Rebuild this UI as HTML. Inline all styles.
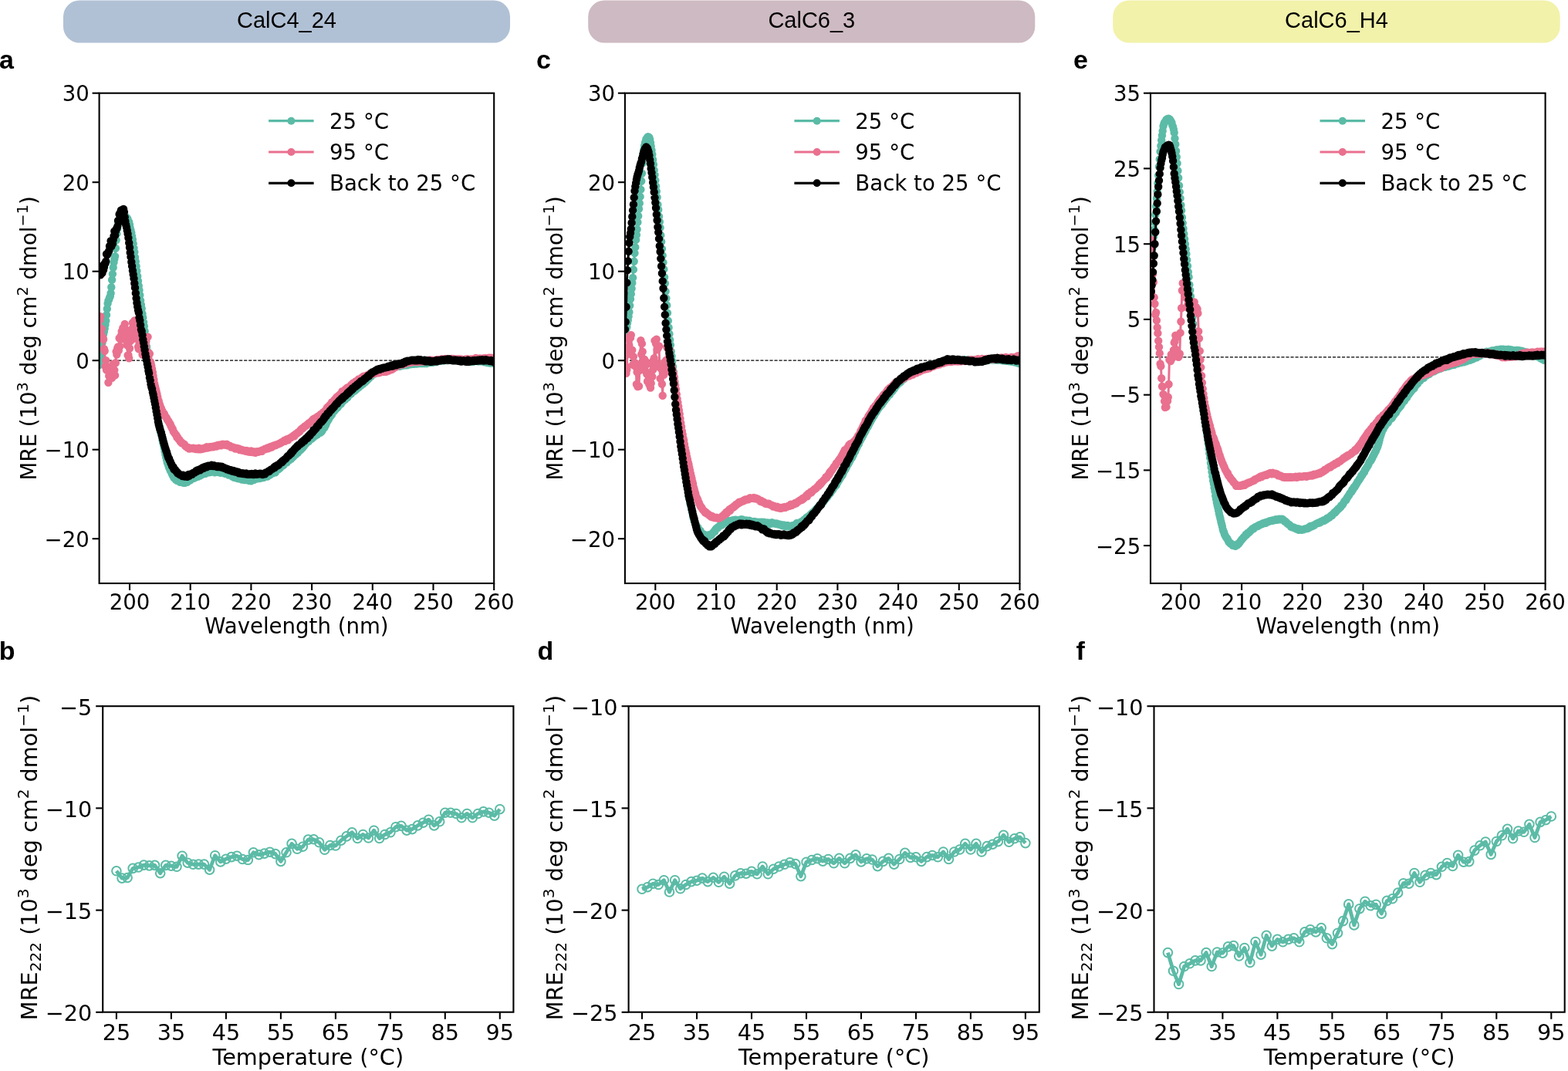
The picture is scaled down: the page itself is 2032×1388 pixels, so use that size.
<!DOCTYPE html>
<html><head><meta charset="utf-8"><title>CD spectra</title><style>html,body{margin:0;padding:0;background:#fff}svg{display:block}</style></head><body>
<svg width="2032" height="1388" viewBox="0 0 2032 1388">
<rect width="2032" height="1388" fill="#fff"/>
<rect x="82" y="0.5" width="579" height="55" rx="21" fill="#b1c1d5"/>
<text x="371.5" y="35.8" font-family="'Liberation Sans', Arial, sans-serif" font-size="29" text-anchor="middle" fill="#000">CalC4_24</text>
<rect x="762.2" y="0.5" width="579.1" height="55" rx="21" fill="#cebac2"/>
<text x="1051.8" y="35.8" font-family="'Liberation Sans', Arial, sans-serif" font-size="29" text-anchor="middle" fill="#000">CalC6_3</text>
<rect x="1442.2" y="0.5" width="579.5" height="55" rx="21" fill="#f2f2aa"/>
<text x="1732" y="35.8" font-family="'Liberation Sans', Arial, sans-serif" font-size="29" text-anchor="middle" fill="#000">CalC6_H4</text>
<text x="-1" y="89.3" font-family="'Liberation Sans', Arial, sans-serif" font-weight="bold" font-size="34">a</text>
<text x="695" y="89.3" font-family="'Liberation Sans', Arial, sans-serif" font-weight="bold" font-size="34">c</text>
<text x="1391" y="89.3" font-family="'Liberation Sans', Arial, sans-serif" font-weight="bold" font-size="34">e</text>
<text x="-1.3" y="854.5" font-family="'Liberation Sans', Arial, sans-serif" font-weight="bold" font-size="34">b</text>
<text x="696.5" y="854.5" font-family="'Liberation Sans', Arial, sans-serif" font-weight="bold" font-size="34">d</text>
<text x="1394.5" y="854.5" font-family="'Liberation Sans', Arial, sans-serif" font-weight="bold" font-size="34">f</text>
<clipPath id="ct0"><rect x="128.6" y="120.7" width="511.6" height="635.3"/></clipPath>
<line x1="128.6" y1="467.2" x2="640.2" y2="467.2" stroke="#000" stroke-width="1.3" stroke-dasharray="4.1 1.95"/>
<g clip-path="url(#ct0)" fill="none" stroke-linecap="round" stroke-linejoin="round">
<polyline points="128.6,473 129.4,467.1 130.2,461.6 131,456.1 131.7,450 132.5,444.3 133.3,438.3 134.1,433 134.9,429.7 135.7,425.7 136.5,420.8 137.3,415.7 138,408.3 138.8,400.2 139.6,393.3 140.4,389.6 141.2,388.2 142,385.8 142.8,384 143.6,380 144.3,372.2 145.1,362.7 145.9,355.1 146.7,346.7 147.5,340.1 148.3,335.8 149.1,332.1 149.9,321.8 150.6,311.3 151.4,302.9 152.2,296.2 153,290.7 153.8,288 154.6,285.6 155.4,283 156.1,282.8 156.9,281.7 157.7,280.6 158.5,280.8 159.3,280.3 160.1,280.1 160.9,280.2 161.7,281.1 162.4,280.9 163.2,280.9 164,282.9 164.8,282.6 165.6,284.1 166.4,286.4 167.2,287.7 168,291.3 168.7,295.5 169.5,298.4 170.3,301.8 171.1,306.1 171.9,310.4 172.7,315.9 173.5,321.2 174.3,326.6 175,333.5 175.8,338.9 176.6,345.1 177.4,351.1 178.2,358 179,364.2 179.8,370.5 180.5,376.3 181.3,382.4 182.1,389.4 182.9,395 183.7,400 184.5,406.8 185.3,411.8 186.1,417.4 186.8,422.8 187.6,429.2 188.4,436.2 189.2,442.7 190,449.2 190.8,454.7 191.6,461.6 192.4,467.4 193.1,472.7 193.9,478.5 194.7,483.9 195.5,489.4 196.3,493.8 197.1,498.6 197.9,502.1 198.6,506.4 199.4,510.8 200.2,514.6 201,519.4 201.8,523.3 202.6,528.5 203.4,533 204.2,538.7 204.9,542.6 205.7,548.1 206.5,552.5 207.3,555.6 208.1,559.7 208.9,562.8 209.7,565.3 210.5,570.2 211.2,573.7 212,576.9 212.8,580.6 213.6,584.9 214.4,589 215.2,592.5 216,595.9 216.8,599.4 217.5,601.2 218.3,603.4 219.1,606 219.9,607.4 220.7,609.9 221.5,610.8 222.3,612.9 223,614.5 223.8,616.3 224.6,617.3 225.4,619.3 226.2,619.9 227,620.1 227.8,621.8 228.6,621 229.3,622.7 230.1,622.1 230.9,623.3 231.7,623 232.5,623.7 233.3,624.8 234.1,623.9 234.9,624.1 235.6,625 236.4,625.3 237.2,625.4 238,625.9 238.8,625 239.6,625.7 240.4,625.3 241.2,625.4 241.9,625 242.7,624.9 243.5,623.3 244.3,623.5 245.1,622.5 245.9,622.4 246.7,622.2 247.4,621.5 248.2,621.1 249,620.3 249.8,620 250.6,619.6 251.4,619.8 252.2,619.2 253,617.7 253.7,618.5 254.5,618.3 255.3,617.3 256.1,616.5 256.9,617.5 257.7,616.5 258.5,616.4 259.3,616.6 260,615.1 260.8,615.1 261.6,614.8 262.4,614.8 263.2,614 264,614.1 264.8,613.7 265.6,613.9 266.3,613.7 267.1,612.2 267.9,612.9 268.7,612.3 269.5,612.3 270.3,612.3 271.1,612.2 271.8,611.5 272.6,611.9 273.4,611.7 274.2,611.6 275,611.1 275.8,611.3 276.6,611.5 277.4,611.9 278.1,612.3 278.9,611.3 279.7,611.3 280.5,611.8 281.3,611.6 282.1,611.5 282.9,611.6 283.7,611.6 284.4,612.3 285.2,611.5 286,612.8 286.8,611.9 287.6,612.2 288.4,612.1 289.2,611.7 290,612 290.7,613.3 291.5,613.7 292.3,612.7 293.1,613.8 293.9,613.6 294.7,613.5 295.5,614.9 296.2,615.5 297,614.8 297.8,615.3 298.6,615.8 299.4,616.1 300.2,616.9 301,617.6 301.8,617.4 302.5,618.1 303.3,618.8 304.1,618.1 304.9,618.7 305.7,618.7 306.5,619.6 307.3,619.6 308.1,620 308.8,620.1 309.6,619.8 310.4,620.5 311.2,620.1 312,620.3 312.8,619.7 313.6,621.5 314.4,620.6 315.1,621.2 315.9,621.3 316.7,622.1 317.5,621.8 318.3,621.4 319.1,621.8 319.9,621.8 320.6,622.1 321.4,621.5 322.2,622 323,623 323.8,622.3 324.6,622.8 325.4,623.4 326.2,622 326.9,621.1 327.7,621.6 328.5,622 329.3,621.7 330.1,620.6 330.9,620.9 331.7,620.8 332.5,620.6 333.2,620.4 334,619.9 334.8,619.8 335.6,619.7 336.4,620.1 337.2,619.2 338,619.5 338.7,618.5 339.5,619.4 340.3,618.7 341.1,618.4 341.9,618.7 342.7,617.1 343.5,616.9 344.3,617.5 345,616.7 345.8,616.6 346.6,617.6 347.4,616 348.2,615.8 349,615.4 349.8,615.6 350.6,614.9 351.3,614.4 352.1,613.4 352.9,613.4 353.7,613.2 354.5,612.1 355.3,612.6 356.1,612 356.9,612.2 357.6,610.1 358.4,609.8 359.2,609.2 360,608.7 360.8,608.3 361.6,607.6 362.4,607.1 363.1,606.4 363.9,605.6 364.7,604.2 365.5,604 366.3,603.5 367.1,603.1 367.9,602.4 368.7,600.7 369.4,600.5 370.2,600 371,599.6 371.8,599.2 372.6,598.1 373.4,597 374.2,596.9 375,596.2 375.7,595.5 376.5,594.7 377.3,594.8 378.1,593.4 378.9,593 379.7,591.5 380.5,591.6 381.3,590.3 382,589.1 382.8,589.3 383.6,588.7 384.4,587.6 385.2,586.9 386,586.7 386.8,585.2 387.5,583.7 388.3,584 389.1,583.2 389.9,582.7 390.7,581.3 391.5,581.1 392.3,580.2 393.1,578.3 393.8,578.4 394.6,576.7 395.4,575.6 396.2,575.4 397,574.4 397.8,572.9 398.6,573.1 399.4,572.5 400.1,572.1 400.9,570.7 401.7,569.3 402.5,568.9 403.3,569.1 404.1,568.5 404.9,567.7 405.7,566.8 406.4,566.5 407.2,565.7 408,565.2 408.8,564.9 409.6,564.3 410.4,563.6 411.2,563.2 411.9,562.4 412.7,561.1 413.5,561.1 414.3,560.7 415.1,560.8 415.9,559.2 416.7,559.5 417.5,558.4 418.2,556.5 419,555.5 419.8,554.7 420.6,554.1 421.4,552.1 422.2,550.7 423,548.6 423.8,546.3 424.5,545.7 425.3,544.6 426.1,543.3 426.9,541.4 427.7,540.1 428.5,539.4 429.3,537.7 430.1,537.2 430.8,535.1 431.6,534.1 432.4,533.1 433.2,532.8 434,531.4 434.8,530.7 435.6,529.9 436.3,529 437.1,528.5 437.9,527.7 438.7,525.8 439.5,525.4 440.3,524.4 441.1,523.1 441.9,523.6 442.6,522.3 443.4,521 444.2,520.1 445,519.6 445.8,518.2 446.6,517.8 447.4,517.7 448.2,516.8 448.9,515.2 449.7,514.6 450.5,515 451.3,512.7 452.1,512.3 452.9,511.3 453.7,511.3 454.4,510.6 455.2,510.3 456,507.9 456.8,508.4 457.6,506.9 458.4,507.3 459.2,506.2 460,506.4 460.7,505.2 461.5,503.9 462.3,504.3 463.1,502.6 463.9,502.3 464.7,502.3 465.5,501.4 466.3,500.8 467,500 467.8,499.6 468.6,499.1 469.4,498.2 470.2,497.9 471,497.4 471.8,496.1 472.6,495 473.3,495.4 474.1,494 474.9,493.5 475.7,492.9 476.5,491.3 477.3,491.2 478.1,489.5 478.8,489.8 479.6,488.5 480.4,488 481.2,487.5 482,486.2 482.8,485.9 483.6,484.9 484.4,484.7 485.1,484.6 485.9,483.7 486.7,483.2 487.5,482.3 488.3,482.8 489.1,482 489.9,482.4 490.7,481 491.4,481.4 492.2,481.4 493,480.3 493.8,479.5 494.6,480.4 495.4,479.9 496.2,479.5 497,479.4 497.7,478.4 498.5,478.7 499.3,478.4 500.1,477.6 500.9,478 501.7,477.2 502.5,477.6 503.2,477.5 504,477.6 504.8,475.6 505.6,476.4 506.4,476 507.2,475.9 508,475.6 508.8,475.4 509.5,474.4 510.3,475.6 511.1,475.7 511.9,475.2 512.7,475.2 513.5,474.1 514.3,473.9 515.1,474.6 515.8,474.7 516.6,474.1 517.4,473.1 518.2,474.9 519,473.3 519.8,473.9 520.6,472.8 521.4,473.7 522.1,473.2 522.9,473.6 523.7,473.3 524.5,472.1 525.3,472.2 526.1,472.7 526.9,472.8 527.6,473.2 528.4,472.4 529.2,472.1 530,472.1 530.8,472 531.6,472.4 532.4,471.8 533.2,471.7 533.9,471 534.7,470.6 535.5,471.5 536.3,471.7 537.1,471.3 537.9,471.5 538.7,471.5 539.5,471.1 540.2,471.5 541,470.6 541.8,470.9 542.6,470.7 543.4,470.8 544.2,471 545,471.1 545.8,470.7 546.5,470.8 547.3,470.3 548.1,470.4 548.9,471 549.7,470.3 550.5,470.8 551.3,470.5 552,470.2 552.8,471 553.6,469.9 554.4,469.8 555.2,469.9 556,470 556.8,469.9 557.6,470.1 558.3,469.7 559.1,469.7 559.9,469.3 560.7,469.8 561.5,469 562.3,468.9 563.1,468.9 563.9,468.9 564.6,468.3 565.4,469.1 566.2,468 567,467.9 567.8,467.7 568.6,467.5 569.4,467.8 570.2,467.5 570.9,466.9 571.7,466.8 572.5,466.8 573.3,467.5 574.1,466.4 574.9,466 575.7,465.9 576.4,466.2 577.2,466.9 578,465.7 578.8,466.2 579.6,467.3 580.4,465.9 581.2,466.8 582,466.7 582.7,466.4 583.5,465.5 584.3,466.3 585.1,466 585.9,465.4 586.7,465.5 587.5,466.3 588.3,466.4 589,467 589.8,466.8 590.6,466.3 591.4,466.4 592.2,466.5 593,466.2 593.8,467.1 594.5,466.8 595.3,466.5 596.1,466.6 596.9,466.4 597.7,466.8 598.5,467.2 599.3,466.9 600.1,467.6 600.8,467.9 601.6,467 602.4,467.3 603.2,467.2 604,468.1 604.8,467.6 605.6,467.7 606.4,467.9 607.1,468.5 607.9,467.7 608.7,467.1 609.5,467.4 610.3,467.9 611.1,467.7 611.9,467.4 612.7,469 613.4,467.8 614.2,467.6 615,467.5 615.8,467.1 616.6,467.4 617.4,467.8 618.2,467.9 618.9,467.7 619.7,468.4 620.5,468.2 621.3,467.8 622.1,467.4 622.9,468.4 623.7,468.4 624.5,468.4 625.2,467.9 626,468.6 626.8,468 627.6,469.2 628.4,468.9 629.2,469 630,468.7 630.8,468.7 631.5,470 632.3,469.8 633.1,469.4 633.9,469.9 634.7,470.5 635.5,469.4 636.3,469.8 637.1,469.9 637.8,470.5 638.6,469.9 639.4,470.7 640.2,470.2" stroke="#5bbba6" stroke-width="3"/>
<path d="M128.6 473h0M129.4 467.1h0M130.2 461.6h0M131 456.1h0M131.7 450h0M132.5 444.3h0M133.3 438.3h0M134.1 433h0M134.9 429.7h0M135.7 425.7h0M136.5 420.8h0M137.3 415.7h0M138 408.3h0M138.8 400.2h0M139.6 393.3h0M140.4 389.6h0M141.2 388.2h0M142 385.8h0M142.8 384h0M143.6 380h0M144.3 372.2h0M145.1 362.7h0M145.9 355.1h0M146.7 346.7h0M147.5 340.1h0M148.3 335.8h0M149.1 332.1h0M149.9 321.8h0M150.6 311.3h0M151.4 302.9h0M152.2 296.2h0M153 290.7h0M153.8 288h0M154.6 285.6h0M155.4 283h0M156.1 282.8h0M156.9 281.7h0M157.7 280.6h0M158.5 280.8h0M159.3 280.3h0M160.1 280.1h0M160.9 280.2h0M161.7 281.1h0M162.4 280.9h0M163.2 280.9h0M164 282.9h0M164.8 282.6h0M165.6 284.1h0M166.4 286.4h0M167.2 287.7h0M168 291.3h0M168.7 295.5h0M169.5 298.4h0M170.3 301.8h0M171.1 306.1h0M171.9 310.4h0M172.7 315.9h0M173.5 321.2h0M174.3 326.6h0M175 333.5h0M175.8 338.9h0M176.6 345.1h0M177.4 351.1h0M178.2 358h0M179 364.2h0M179.8 370.5h0M180.5 376.3h0M181.3 382.4h0M182.1 389.4h0M182.9 395h0M183.7 400h0M184.5 406.8h0M185.3 411.8h0M186.1 417.4h0M186.8 422.8h0M187.6 429.2h0M188.4 436.2h0M189.2 442.7h0M190 449.2h0M190.8 454.7h0M191.6 461.6h0M192.4 467.4h0M193.1 472.7h0M193.9 478.5h0M194.7 483.9h0M195.5 489.4h0M196.3 493.8h0M197.1 498.6h0M197.9 502.1h0M198.6 506.4h0M199.4 510.8h0M200.2 514.6h0M201 519.4h0M201.8 523.3h0M202.6 528.5h0M203.4 533h0M204.2 538.7h0M204.9 542.6h0M205.7 548.1h0M206.5 552.5h0M207.3 555.6h0M208.1 559.7h0M208.9 562.8h0M209.7 565.3h0M210.5 570.2h0M211.2 573.7h0M212 576.9h0M212.8 580.6h0M213.6 584.9h0M214.4 589h0M215.2 592.5h0M216 595.9h0M216.8 599.4h0M217.5 601.2h0M218.3 603.4h0M219.1 606h0M219.9 607.4h0M220.7 609.9h0M221.5 610.8h0M222.3 612.9h0M223 614.5h0M223.8 616.3h0M224.6 617.3h0M225.4 619.3h0M226.2 619.9h0M227 620.1h0M227.8 621.8h0M228.6 621h0M229.3 622.7h0M230.1 622.1h0M230.9 623.3h0M231.7 623h0M232.5 623.7h0M233.3 624.8h0M234.1 623.9h0M234.9 624.1h0M235.6 625h0M236.4 625.3h0M237.2 625.4h0M238 625.9h0M238.8 625h0M239.6 625.7h0M240.4 625.3h0M241.2 625.4h0M241.9 625h0M242.7 624.9h0M243.5 623.3h0M244.3 623.5h0M245.1 622.5h0M245.9 622.4h0M246.7 622.2h0M247.4 621.5h0M248.2 621.1h0M249 620.3h0M249.8 620h0M250.6 619.6h0M251.4 619.8h0M252.2 619.2h0M253 617.7h0M253.7 618.5h0M254.5 618.3h0M255.3 617.3h0M256.1 616.5h0M256.9 617.5h0M257.7 616.5h0M258.5 616.4h0M259.3 616.6h0M260 615.1h0M260.8 615.1h0M261.6 614.8h0M262.4 614.8h0M263.2 614h0M264 614.1h0M264.8 613.7h0M265.6 613.9h0M266.3 613.7h0M267.1 612.2h0M267.9 612.9h0M268.7 612.3h0M269.5 612.3h0M270.3 612.3h0M271.1 612.2h0M271.8 611.5h0M272.6 611.9h0M273.4 611.7h0M274.2 611.6h0M275 611.1h0M275.8 611.3h0M276.6 611.5h0M277.4 611.9h0M278.1 612.3h0M278.9 611.3h0M279.7 611.3h0M280.5 611.8h0M281.3 611.6h0M282.1 611.5h0M282.9 611.6h0M283.7 611.6h0M284.4 612.3h0M285.2 611.5h0M286 612.8h0M286.8 611.9h0M287.6 612.2h0M288.4 612.1h0M289.2 611.7h0M290 612h0M290.7 613.3h0M291.5 613.7h0M292.3 612.7h0M293.1 613.8h0M293.9 613.6h0M294.7 613.5h0M295.5 614.9h0M296.2 615.5h0M297 614.8h0M297.8 615.3h0M298.6 615.8h0M299.4 616.1h0M300.2 616.9h0M301 617.6h0M301.8 617.4h0M302.5 618.1h0M303.3 618.8h0M304.1 618.1h0M304.9 618.7h0M305.7 618.7h0M306.5 619.6h0M307.3 619.6h0M308.1 620h0M308.8 620.1h0M309.6 619.8h0M310.4 620.5h0M311.2 620.1h0M312 620.3h0M312.8 619.7h0M313.6 621.5h0M314.4 620.6h0M315.1 621.2h0M315.9 621.3h0M316.7 622.1h0M317.5 621.8h0M318.3 621.4h0M319.1 621.8h0M319.9 621.8h0M320.6 622.1h0M321.4 621.5h0M322.2 622h0M323 623h0M323.8 622.3h0M324.6 622.8h0M325.4 623.4h0M326.2 622h0M326.9 621.1h0M327.7 621.6h0M328.5 622h0M329.3 621.7h0M330.1 620.6h0M330.9 620.9h0M331.7 620.8h0M332.5 620.6h0M333.2 620.4h0M334 619.9h0M334.8 619.8h0M335.6 619.7h0M336.4 620.1h0M337.2 619.2h0M338 619.5h0M338.7 618.5h0M339.5 619.4h0M340.3 618.7h0M341.1 618.4h0M341.9 618.7h0M342.7 617.1h0M343.5 616.9h0M344.3 617.5h0M345 616.7h0M345.8 616.6h0M346.6 617.6h0M347.4 616h0M348.2 615.8h0M349 615.4h0M349.8 615.6h0M350.6 614.9h0M351.3 614.4h0M352.1 613.4h0M352.9 613.4h0M353.7 613.2h0M354.5 612.1h0M355.3 612.6h0M356.1 612h0M356.9 612.2h0M357.6 610.1h0M358.4 609.8h0M359.2 609.2h0M360 608.7h0M360.8 608.3h0M361.6 607.6h0M362.4 607.1h0M363.1 606.4h0M363.9 605.6h0M364.7 604.2h0M365.5 604h0M366.3 603.5h0M367.1 603.1h0M367.9 602.4h0M368.7 600.7h0M369.4 600.5h0M370.2 600h0M371 599.6h0M371.8 599.2h0M372.6 598.1h0M373.4 597h0M374.2 596.9h0M375 596.2h0M375.7 595.5h0M376.5 594.7h0M377.3 594.8h0M378.1 593.4h0M378.9 593h0M379.7 591.5h0M380.5 591.6h0M381.3 590.3h0M382 589.1h0M382.8 589.3h0M383.6 588.7h0M384.4 587.6h0M385.2 586.9h0M386 586.7h0M386.8 585.2h0M387.5 583.7h0M388.3 584h0M389.1 583.2h0M389.9 582.7h0M390.7 581.3h0M391.5 581.1h0M392.3 580.2h0M393.1 578.3h0M393.8 578.4h0M394.6 576.7h0M395.4 575.6h0M396.2 575.4h0M397 574.4h0M397.8 572.9h0M398.6 573.1h0M399.4 572.5h0M400.1 572.1h0M400.9 570.7h0M401.7 569.3h0M402.5 568.9h0M403.3 569.1h0M404.1 568.5h0M404.9 567.7h0M405.7 566.8h0M406.4 566.5h0M407.2 565.7h0M408 565.2h0M408.8 564.9h0M409.6 564.3h0M410.4 563.6h0M411.2 563.2h0M411.9 562.4h0M412.7 561.1h0M413.5 561.1h0M414.3 560.7h0M415.1 560.8h0M415.9 559.2h0M416.7 559.5h0M417.5 558.4h0M418.2 556.5h0M419 555.5h0M419.8 554.7h0M420.6 554.1h0M421.4 552.1h0M422.2 550.7h0M423 548.6h0M423.8 546.3h0M424.5 545.7h0M425.3 544.6h0M426.1 543.3h0M426.9 541.4h0M427.7 540.1h0M428.5 539.4h0M429.3 537.7h0M430.1 537.2h0M430.8 535.1h0M431.6 534.1h0M432.4 533.1h0M433.2 532.8h0M434 531.4h0M434.8 530.7h0M435.6 529.9h0M436.3 529h0M437.1 528.5h0M437.9 527.7h0M438.7 525.8h0M439.5 525.4h0M440.3 524.4h0M441.1 523.1h0M441.9 523.6h0M442.6 522.3h0M443.4 521h0M444.2 520.1h0M445 519.6h0M445.8 518.2h0M446.6 517.8h0M447.4 517.7h0M448.2 516.8h0M448.9 515.2h0M449.7 514.6h0M450.5 515h0M451.3 512.7h0M452.1 512.3h0M452.9 511.3h0M453.7 511.3h0M454.4 510.6h0M455.2 510.3h0M456 507.9h0M456.8 508.4h0M457.6 506.9h0M458.4 507.3h0M459.2 506.2h0M460 506.4h0M460.7 505.2h0M461.5 503.9h0M462.3 504.3h0M463.1 502.6h0M463.9 502.3h0M464.7 502.3h0M465.5 501.4h0M466.3 500.8h0M467 500h0M467.8 499.6h0M468.6 499.1h0M469.4 498.2h0M470.2 497.9h0M471 497.4h0M471.8 496.1h0M472.6 495h0M473.3 495.4h0M474.1 494h0M474.9 493.5h0M475.7 492.9h0M476.5 491.3h0M477.3 491.2h0M478.1 489.5h0M478.8 489.8h0M479.6 488.5h0M480.4 488h0M481.2 487.5h0M482 486.2h0M482.8 485.9h0M483.6 484.9h0M484.4 484.7h0M485.1 484.6h0M485.9 483.7h0M486.7 483.2h0M487.5 482.3h0M488.3 482.8h0M489.1 482h0M489.9 482.4h0M490.7 481h0M491.4 481.4h0M492.2 481.4h0M493 480.3h0M493.8 479.5h0M494.6 480.4h0M495.4 479.9h0M496.2 479.5h0M497 479.4h0M497.7 478.4h0M498.5 478.7h0M499.3 478.4h0M500.1 477.6h0M500.9 478h0M501.7 477.2h0M502.5 477.6h0M503.2 477.5h0M504 477.6h0M504.8 475.6h0M505.6 476.4h0M506.4 476h0M507.2 475.9h0M508 475.6h0M508.8 475.4h0M509.5 474.4h0M510.3 475.6h0M511.1 475.7h0M511.9 475.2h0M512.7 475.2h0M513.5 474.1h0M514.3 473.9h0M515.1 474.6h0M515.8 474.7h0M516.6 474.1h0M517.4 473.1h0M518.2 474.9h0M519 473.3h0M519.8 473.9h0M520.6 472.8h0M521.4 473.7h0M522.1 473.2h0M522.9 473.6h0M523.7 473.3h0M524.5 472.1h0M525.3 472.2h0M526.1 472.7h0M526.9 472.8h0M527.6 473.2h0M528.4 472.4h0M529.2 472.1h0M530 472.1h0M530.8 472h0M531.6 472.4h0M532.4 471.8h0M533.2 471.7h0M533.9 471h0M534.7 470.6h0M535.5 471.5h0M536.3 471.7h0M537.1 471.3h0M537.9 471.5h0M538.7 471.5h0M539.5 471.1h0M540.2 471.5h0M541 470.6h0M541.8 470.9h0M542.6 470.7h0M543.4 470.8h0M544.2 471h0M545 471.1h0M545.8 470.7h0M546.5 470.8h0M547.3 470.3h0M548.1 470.4h0M548.9 471h0M549.7 470.3h0M550.5 470.8h0M551.3 470.5h0M552 470.2h0M552.8 471h0M553.6 469.9h0M554.4 469.8h0M555.2 469.9h0M556 470h0M556.8 469.9h0M557.6 470.1h0M558.3 469.7h0M559.1 469.7h0M559.9 469.3h0M560.7 469.8h0M561.5 469h0M562.3 468.9h0M563.1 468.9h0M563.9 468.9h0M564.6 468.3h0M565.4 469.1h0M566.2 468h0M567 467.9h0M567.8 467.7h0M568.6 467.5h0M569.4 467.8h0M570.2 467.5h0M570.9 466.9h0M571.7 466.8h0M572.5 466.8h0M573.3 467.5h0M574.1 466.4h0M574.9 466h0M575.7 465.9h0M576.4 466.2h0M577.2 466.9h0M578 465.7h0M578.8 466.2h0M579.6 467.3h0M580.4 465.9h0M581.2 466.8h0M582 466.7h0M582.7 466.4h0M583.5 465.5h0M584.3 466.3h0M585.1 466h0M585.9 465.4h0M586.7 465.5h0M587.5 466.3h0M588.3 466.4h0M589 467h0M589.8 466.8h0M590.6 466.3h0M591.4 466.4h0M592.2 466.5h0M593 466.2h0M593.8 467.1h0M594.5 466.8h0M595.3 466.5h0M596.1 466.6h0M596.9 466.4h0M597.7 466.8h0M598.5 467.2h0M599.3 466.9h0M600.1 467.6h0M600.8 467.9h0M601.6 467h0M602.4 467.3h0M603.2 467.2h0M604 468.1h0M604.8 467.6h0M605.6 467.7h0M606.4 467.9h0M607.1 468.5h0M607.9 467.7h0M608.7 467.1h0M609.5 467.4h0M610.3 467.9h0M611.1 467.7h0M611.9 467.4h0M612.7 469h0M613.4 467.8h0M614.2 467.6h0M615 467.5h0M615.8 467.1h0M616.6 467.4h0M617.4 467.8h0M618.2 467.9h0M618.9 467.7h0M619.7 468.4h0M620.5 468.2h0M621.3 467.8h0M622.1 467.4h0M622.9 468.4h0M623.7 468.4h0M624.5 468.4h0M625.2 467.9h0M626 468.6h0M626.8 468h0M627.6 469.2h0M628.4 468.9h0M629.2 469h0M630 468.7h0M630.8 468.7h0M631.5 470h0M632.3 469.8h0M633.1 469.4h0M633.9 469.9h0M634.7 470.5h0M635.5 469.4h0M636.3 469.8h0M637.1 469.9h0M637.8 470.5h0M638.6 469.9h0M639.4 470.7h0M640.2 470.2h0" stroke="#5bbba6" stroke-width="10.4"/>
<polyline points="128.6,412.7 129.4,414.7 130.2,410.3 131,432.5 131.7,426.1 132.5,437.2 133.3,437.5 134.1,439.7 134.9,452.1 135.7,454.7 136.5,474.7 137.3,467.1 138,479.6 138.8,475.1 139.6,479.1 140.4,495.7 141.2,487.3 142,482.7 142.8,477.4 143.6,484.7 144.3,483.4 145.1,489.9 145.9,474 146.7,471.6 147.5,480 148.3,479.6 149.1,486.4 149.9,470.2 150.6,455.6 151.4,459.6 152.2,451.2 153,449.5 153.8,454.2 154.6,438.3 155.4,448.7 156.1,439.5 156.9,434.9 157.7,429.5 158.5,428.5 159.3,425 160.1,427.1 160.9,428.3 161.7,420 162.4,426.8 163.2,435 164,442.3 164.8,447.4 165.6,460.4 166.4,460.3 167.2,464.3 168,451.5 168.7,442.3 169.5,427.7 170.3,440.6 171.1,431.6 171.9,418.2 172.7,422.5 173.5,424.4 174.3,415.5 175,429.5 175.8,434.8 176.6,438.9 177.4,433.2 178.2,436.4 179,449.6 179.8,452.4 180.5,445.8 181.3,446.6 182.1,453.1 182.9,446.9 183.7,447.1 184.5,459.6 185.3,448.9 186.1,443.9 186.8,447.2 187.6,454.3 188.4,445.7 189.2,441.7 190,437.7 190.8,458.4 191.6,436.6 192.4,461.9 193.1,457.4 193.9,458.4 194.7,468.7 195.5,470.7 196.3,474.2 197.1,478.2 197.9,482.4 198.6,487.3 199.4,492 200.2,497.2 201,500.8 201.8,503.9 202.6,507.3 203.4,510.8 204.2,514.2 204.9,517.8 205.7,519.6 206.5,522.9 207.3,525.3 208.1,527.6 208.9,529.3 209.7,531.4 210.5,532.8 211.2,534.8 212,535.9 212.8,536.1 213.6,538.5 214.4,539.8 215.2,540.7 216,541.9 216.8,543.9 217.5,544.8 218.3,545.6 219.1,547.2 219.9,548.8 220.7,549.6 221.5,552.2 222.3,553.4 223,555.3 223.8,555.9 224.6,559.1 225.4,560 226.2,561.3 227,562.1 227.8,563.4 228.6,564.2 229.3,566.7 230.1,566.7 230.9,568.3 231.7,569.5 232.5,569.9 233.3,571.5 234.1,572.9 234.9,572.9 235.6,574.2 236.4,574.5 237.2,574.8 238,575.5 238.8,575.6 239.6,577.2 240.4,578.4 241.2,578.7 241.9,579.4 242.7,580 243.5,579.7 244.3,580.6 245.1,581.6 245.9,580.6 246.7,581.1 247.4,580.9 248.2,581.1 249,580.9 249.8,581.2 250.6,580.7 251.4,581.2 252.2,581.2 253,581.2 253.7,582.1 254.5,581.6 255.3,581.6 256.1,581.4 256.9,582.2 257.7,580.8 258.5,581.5 259.3,582.1 260,582.4 260.8,581.7 261.6,581.5 262.4,581.7 263.2,581.2 264,581.4 264.8,580.7 265.6,581.1 266.3,580.7 267.1,580 267.9,579.1 268.7,580.5 269.5,580.1 270.3,580.1 271.1,579.1 271.8,579.9 272.6,579.4 273.4,579 274.2,579.3 275,579.1 275.8,578.8 276.6,579.4 277.4,578.9 278.1,578.3 278.9,577.9 279.7,577.9 280.5,578.5 281.3,577.7 282.1,577 282.9,577 283.7,577.1 284.4,577.4 285.2,576.5 286,577 286.8,577.2 287.6,576.9 288.4,575.8 289.2,576.3 290,575.9 290.7,576.6 291.5,576 292.3,576.8 293.1,576.7 293.9,575.6 294.7,576.6 295.5,577.5 296.2,577.6 297,577.7 297.8,577.6 298.6,578.7 299.4,579.6 300.2,579.3 301,579.5 301.8,579.8 302.5,579.6 303.3,580.4 304.1,580.4 304.9,581.6 305.7,581 306.5,580.6 307.3,581.4 308.1,581.9 308.8,582.1 309.6,581.5 310.4,583 311.2,582.8 312,582.7 312.8,582.8 313.6,583.5 314.4,583.3 315.1,583.7 315.9,583.7 316.7,584 317.5,584.6 318.3,584.3 319.1,584 319.9,585 320.6,584.8 321.4,584.5 322.2,585.5 323,585 323.8,585.8 324.6,584.9 325.4,584.5 326.2,584.8 326.9,586 327.7,585.6 328.5,586 329.3,586.1 330.1,585.5 330.9,586.8 331.7,585.7 332.5,586.1 333.2,585.3 334,585.7 334.8,585.9 335.6,585.2 336.4,584.8 337.2,584.8 338,584.3 338.7,584.5 339.5,584.9 340.3,583.2 341.1,582.9 341.9,582.9 342.7,582.6 343.5,581.8 344.3,582.1 345,581.9 345.8,581.4 346.6,580.5 347.4,581.4 348.2,579.9 349,580.4 349.8,580.4 350.6,579 351.3,579.3 352.1,579.5 352.9,578.8 353.7,577.9 354.5,577.5 355.3,577.9 356.1,577.2 356.9,576.7 357.6,577 358.4,576.2 359.2,576.1 360,575.9 360.8,575.6 361.6,575 362.4,574.6 363.1,574.6 363.9,574.1 364.7,573.1 365.5,573.1 366.3,572.4 367.1,571.9 367.9,571.8 368.7,570.7 369.4,571.7 370.2,570.6 371,570.7 371.8,569.3 372.6,569 373.4,570.2 374.2,569.3 375,568.1 375.7,567.6 376.5,567.2 377.3,567.1 378.1,566.4 378.9,565.8 379.7,565.6 380.5,564.5 381.3,565.4 382,563.5 382.8,563.6 383.6,562.1 384.4,562 385.2,561.6 386,560.4 386.8,560.3 387.5,559.6 388.3,559.2 389.1,557.8 389.9,556.9 390.7,556 391.5,555.9 392.3,554.7 393.1,554.5 393.8,553.9 394.6,553 395.4,552.1 396.2,552.1 397,551.5 397.8,550.8 398.6,550 399.4,549.9 400.1,548.4 400.9,548.4 401.7,547.4 402.5,547.3 403.3,546.2 404.1,545.5 404.9,545.3 405.7,543.5 406.4,543.7 407.2,542.4 408,542.2 408.8,542.4 409.6,541.6 410.4,540.7 411.2,540.3 411.9,539.7 412.7,539.3 413.5,539.5 414.3,538.2 415.1,538.6 415.9,536.8 416.7,536.7 417.5,536 418.2,535.1 419,534.2 419.8,534.2 420.6,533.5 421.4,532.3 422.2,531.9 423,530.5 423.8,528.4 424.5,528.8 425.3,527 426.1,527.1 426.9,525.4 427.7,524.8 428.5,523.9 429.3,522.7 430.1,521.3 430.8,521.2 431.6,520.4 432.4,520.1 433.2,518.5 434,518 434.8,516.7 435.6,516.3 436.3,514.6 437.1,515.5 437.9,513.9 438.7,512.6 439.5,512.3 440.3,511.8 441.1,510.8 441.9,510.5 442.6,509.1 443.4,507.3 444.2,507.2 445,507.6 445.8,506.8 446.6,505.9 447.4,504.6 448.2,504.8 448.9,504.1 449.7,502.8 450.5,502.2 451.3,502.1 452.1,501.8 452.9,501.4 453.7,500.5 454.4,500.6 455.2,498.6 456,498.7 456.8,497.6 457.6,496.4 458.4,496.2 459.2,496.7 460,495.1 460.7,494.4 461.5,494.7 462.3,494.3 463.1,493.3 463.9,493.4 464.7,491.4 465.5,492.7 466.3,491.6 467,490.7 467.8,490.2 468.6,489.5 469.4,489 470.2,488.9 471,487.8 471.8,489 472.6,487.7 473.3,487.7 474.1,487 474.9,486.6 475.7,486.9 476.5,486.5 477.3,485.5 478.1,485.5 478.8,485.7 479.6,484.2 480.4,483.8 481.2,485.3 482,484.3 482.8,483.1 483.6,483.7 484.4,483.7 485.1,483.8 485.9,483.7 486.7,483.4 487.5,483.4 488.3,482.7 489.1,483.1 489.9,483 490.7,483.2 491.4,482.6 492.2,482.9 493,482.5 493.8,481.8 494.6,482 495.4,481.8 496.2,481.8 497,481.8 497.7,481.8 498.5,481.7 499.3,481.1 500.1,481.8 500.9,480.5 501.7,480.9 502.5,481 503.2,480.5 504,480.3 504.8,479.5 505.6,479.5 506.4,478.2 507.2,478.6 508,478.9 508.8,477.7 509.5,477.8 510.3,476.5 511.1,475.5 511.9,475.3 512.7,475.8 513.5,475.1 514.3,473.6 515.1,474 515.8,473.9 516.6,473.1 517.4,472.2 518.2,472.5 519,472.7 519.8,472.4 520.6,472 521.4,472.3 522.1,472.2 522.9,471.5 523.7,471.7 524.5,471 525.3,470.7 526.1,469.5 526.9,470.7 527.6,470.2 528.4,470 529.2,469.5 530,469.1 530.8,469.6 531.6,469.6 532.4,469.8 533.2,469.3 533.9,468.5 534.7,468.6 535.5,469 536.3,468.6 537.1,468.4 537.9,468.1 538.7,468.5 539.5,468.3 540.2,469 541,468.6 541.8,467.3 542.6,469 543.4,468.1 544.2,467.8 545,468 545.8,468.2 546.5,467.8 547.3,467.8 548.1,467.8 548.9,468.6 549.7,467.7 550.5,468 551.3,467.8 552,467.4 552.8,467.2 553.6,467.1 554.4,467.7 555.2,467 556,466.8 556.8,466.8 557.6,466.6 558.3,467.3 559.1,467.3 559.9,466.7 560.7,467.7 561.5,466.9 562.3,467.2 563.1,467 563.9,467.6 564.6,467.1 565.4,466.6 566.2,466.1 567,466 567.8,466.4 568.6,466.4 569.4,466.6 570.2,465.9 570.9,466.1 571.7,465.7 572.5,465.1 573.3,465.8 574.1,466.4 574.9,466.1 575.7,466.3 576.4,466.2 577.2,465 578,465.4 578.8,466.2 579.6,465.2 580.4,464.9 581.2,465.7 582,465.8 582.7,465.7 583.5,465.4 584.3,465.3 585.1,465 585.9,465 586.7,465.1 587.5,465 588.3,465.4 589,466.4 589.8,465.8 590.6,465.6 591.4,466 592.2,465.4 593,466 593.8,466.3 594.5,465.3 595.3,465.6 596.1,465.9 596.9,465.6 597.7,465.5 598.5,465.9 599.3,467.2 600.1,466.4 600.8,466.3 601.6,466.5 602.4,466 603.2,465.5 604,466.3 604.8,466.5 605.6,465.1 606.4,466.2 607.1,466.5 607.9,465.8 608.7,465.7 609.5,466.1 610.3,465.4 611.1,465.9 611.9,466.1 612.7,465.5 613.4,465.2 614.2,465.8 615,465.3 615.8,465.4 616.6,464 617.4,465.6 618.2,464.6 618.9,465.2 619.7,465.2 620.5,464.7 621.3,464.6 622.1,464.4 622.9,464.8 623.7,465.2 624.5,465.1 625.2,464.6 626,464.6 626.8,464.1 627.6,464.6 628.4,464.2 629.2,464 630,464.6 630.8,465.3 631.5,465.2 632.3,465.2 633.1,463.8 633.9,464.9 634.7,463.9 635.5,464.2 636.3,463.7 637.1,464 637.8,464.5 638.6,464.5 639.4,464.3 640.2,464.3" stroke="#e9708e" stroke-width="3"/>
<path d="M128.6 412.7h0M129.4 414.7h0M130.2 410.3h0M131 432.5h0M131.7 426.1h0M132.5 437.2h0M133.3 437.5h0M134.1 439.7h0M134.9 452.1h0M135.7 454.7h0M136.5 474.7h0M137.3 467.1h0M138 479.6h0M138.8 475.1h0M139.6 479.1h0M140.4 495.7h0M141.2 487.3h0M142 482.7h0M142.8 477.4h0M143.6 484.7h0M144.3 483.4h0M145.1 489.9h0M145.9 474h0M146.7 471.6h0M147.5 480h0M148.3 479.6h0M149.1 486.4h0M149.9 470.2h0M150.6 455.6h0M151.4 459.6h0M152.2 451.2h0M153 449.5h0M153.8 454.2h0M154.6 438.3h0M155.4 448.7h0M156.1 439.5h0M156.9 434.9h0M157.7 429.5h0M158.5 428.5h0M159.3 425h0M160.1 427.1h0M160.9 428.3h0M161.7 420h0M162.4 426.8h0M163.2 435h0M164 442.3h0M164.8 447.4h0M165.6 460.4h0M166.4 460.3h0M167.2 464.3h0M168 451.5h0M168.7 442.3h0M169.5 427.7h0M170.3 440.6h0M171.1 431.6h0M171.9 418.2h0M172.7 422.5h0M173.5 424.4h0M174.3 415.5h0M175 429.5h0M175.8 434.8h0M176.6 438.9h0M177.4 433.2h0M178.2 436.4h0M179 449.6h0M179.8 452.4h0M180.5 445.8h0M181.3 446.6h0M182.1 453.1h0M182.9 446.9h0M183.7 447.1h0M184.5 459.6h0M185.3 448.9h0M186.1 443.9h0M186.8 447.2h0M187.6 454.3h0M188.4 445.7h0M189.2 441.7h0M190 437.7h0M190.8 458.4h0M191.6 436.6h0M192.4 461.9h0M193.1 457.4h0M193.9 458.4h0M194.7 468.7h0M195.5 470.7h0M196.3 474.2h0M197.1 478.2h0M197.9 482.4h0M198.6 487.3h0M199.4 492h0M200.2 497.2h0M201 500.8h0M201.8 503.9h0M202.6 507.3h0M203.4 510.8h0M204.2 514.2h0M204.9 517.8h0M205.7 519.6h0M206.5 522.9h0M207.3 525.3h0M208.1 527.6h0M208.9 529.3h0M209.7 531.4h0M210.5 532.8h0M211.2 534.8h0M212 535.9h0M212.8 536.1h0M213.6 538.5h0M214.4 539.8h0M215.2 540.7h0M216 541.9h0M216.8 543.9h0M217.5 544.8h0M218.3 545.6h0M219.1 547.2h0M219.9 548.8h0M220.7 549.6h0M221.5 552.2h0M222.3 553.4h0M223 555.3h0M223.8 555.9h0M224.6 559.1h0M225.4 560h0M226.2 561.3h0M227 562.1h0M227.8 563.4h0M228.6 564.2h0M229.3 566.7h0M230.1 566.7h0M230.9 568.3h0M231.7 569.5h0M232.5 569.9h0M233.3 571.5h0M234.1 572.9h0M234.9 572.9h0M235.6 574.2h0M236.4 574.5h0M237.2 574.8h0M238 575.5h0M238.8 575.6h0M239.6 577.2h0M240.4 578.4h0M241.2 578.7h0M241.9 579.4h0M242.7 580h0M243.5 579.7h0M244.3 580.6h0M245.1 581.6h0M245.9 580.6h0M246.7 581.1h0M247.4 580.9h0M248.2 581.1h0M249 580.9h0M249.8 581.2h0M250.6 580.7h0M251.4 581.2h0M252.2 581.2h0M253 581.2h0M253.7 582.1h0M254.5 581.6h0M255.3 581.6h0M256.1 581.4h0M256.9 582.2h0M257.7 580.8h0M258.5 581.5h0M259.3 582.1h0M260 582.4h0M260.8 581.7h0M261.6 581.5h0M262.4 581.7h0M263.2 581.2h0M264 581.4h0M264.8 580.7h0M265.6 581.1h0M266.3 580.7h0M267.1 580h0M267.9 579.1h0M268.7 580.5h0M269.5 580.1h0M270.3 580.1h0M271.1 579.1h0M271.8 579.9h0M272.6 579.4h0M273.4 579h0M274.2 579.3h0M275 579.1h0M275.8 578.8h0M276.6 579.4h0M277.4 578.9h0M278.1 578.3h0M278.9 577.9h0M279.7 577.9h0M280.5 578.5h0M281.3 577.7h0M282.1 577h0M282.9 577h0M283.7 577.1h0M284.4 577.4h0M285.2 576.5h0M286 577h0M286.8 577.2h0M287.6 576.9h0M288.4 575.8h0M289.2 576.3h0M290 575.9h0M290.7 576.6h0M291.5 576h0M292.3 576.8h0M293.1 576.7h0M293.9 575.6h0M294.7 576.6h0M295.5 577.5h0M296.2 577.6h0M297 577.7h0M297.8 577.6h0M298.6 578.7h0M299.4 579.6h0M300.2 579.3h0M301 579.5h0M301.8 579.8h0M302.5 579.6h0M303.3 580.4h0M304.1 580.4h0M304.9 581.6h0M305.7 581h0M306.5 580.6h0M307.3 581.4h0M308.1 581.9h0M308.8 582.1h0M309.6 581.5h0M310.4 583h0M311.2 582.8h0M312 582.7h0M312.8 582.8h0M313.6 583.5h0M314.4 583.3h0M315.1 583.7h0M315.9 583.7h0M316.7 584h0M317.5 584.6h0M318.3 584.3h0M319.1 584h0M319.9 585h0M320.6 584.8h0M321.4 584.5h0M322.2 585.5h0M323 585h0M323.8 585.8h0M324.6 584.9h0M325.4 584.5h0M326.2 584.8h0M326.9 586h0M327.7 585.6h0M328.5 586h0M329.3 586.1h0M330.1 585.5h0M330.9 586.8h0M331.7 585.7h0M332.5 586.1h0M333.2 585.3h0M334 585.7h0M334.8 585.9h0M335.6 585.2h0M336.4 584.8h0M337.2 584.8h0M338 584.3h0M338.7 584.5h0M339.5 584.9h0M340.3 583.2h0M341.1 582.9h0M341.9 582.9h0M342.7 582.6h0M343.5 581.8h0M344.3 582.1h0M345 581.9h0M345.8 581.4h0M346.6 580.5h0M347.4 581.4h0M348.2 579.9h0M349 580.4h0M349.8 580.4h0M350.6 579h0M351.3 579.3h0M352.1 579.5h0M352.9 578.8h0M353.7 577.9h0M354.5 577.5h0M355.3 577.9h0M356.1 577.2h0M356.9 576.7h0M357.6 577h0M358.4 576.2h0M359.2 576.1h0M360 575.9h0M360.8 575.6h0M361.6 575h0M362.4 574.6h0M363.1 574.6h0M363.9 574.1h0M364.7 573.1h0M365.5 573.1h0M366.3 572.4h0M367.1 571.9h0M367.9 571.8h0M368.7 570.7h0M369.4 571.7h0M370.2 570.6h0M371 570.7h0M371.8 569.3h0M372.6 569h0M373.4 570.2h0M374.2 569.3h0M375 568.1h0M375.7 567.6h0M376.5 567.2h0M377.3 567.1h0M378.1 566.4h0M378.9 565.8h0M379.7 565.6h0M380.5 564.5h0M381.3 565.4h0M382 563.5h0M382.8 563.6h0M383.6 562.1h0M384.4 562h0M385.2 561.6h0M386 560.4h0M386.8 560.3h0M387.5 559.6h0M388.3 559.2h0M389.1 557.8h0M389.9 556.9h0M390.7 556h0M391.5 555.9h0M392.3 554.7h0M393.1 554.5h0M393.8 553.9h0M394.6 553h0M395.4 552.1h0M396.2 552.1h0M397 551.5h0M397.8 550.8h0M398.6 550h0M399.4 549.9h0M400.1 548.4h0M400.9 548.4h0M401.7 547.4h0M402.5 547.3h0M403.3 546.2h0M404.1 545.5h0M404.9 545.3h0M405.7 543.5h0M406.4 543.7h0M407.2 542.4h0M408 542.2h0M408.8 542.4h0M409.6 541.6h0M410.4 540.7h0M411.2 540.3h0M411.9 539.7h0M412.7 539.3h0M413.5 539.5h0M414.3 538.2h0M415.1 538.6h0M415.9 536.8h0M416.7 536.7h0M417.5 536h0M418.2 535.1h0M419 534.2h0M419.8 534.2h0M420.6 533.5h0M421.4 532.3h0M422.2 531.9h0M423 530.5h0M423.8 528.4h0M424.5 528.8h0M425.3 527h0M426.1 527.1h0M426.9 525.4h0M427.7 524.8h0M428.5 523.9h0M429.3 522.7h0M430.1 521.3h0M430.8 521.2h0M431.6 520.4h0M432.4 520.1h0M433.2 518.5h0M434 518h0M434.8 516.7h0M435.6 516.3h0M436.3 514.6h0M437.1 515.5h0M437.9 513.9h0M438.7 512.6h0M439.5 512.3h0M440.3 511.8h0M441.1 510.8h0M441.9 510.5h0M442.6 509.1h0M443.4 507.3h0M444.2 507.2h0M445 507.6h0M445.8 506.8h0M446.6 505.9h0M447.4 504.6h0M448.2 504.8h0M448.9 504.1h0M449.7 502.8h0M450.5 502.2h0M451.3 502.1h0M452.1 501.8h0M452.9 501.4h0M453.7 500.5h0M454.4 500.6h0M455.2 498.6h0M456 498.7h0M456.8 497.6h0M457.6 496.4h0M458.4 496.2h0M459.2 496.7h0M460 495.1h0M460.7 494.4h0M461.5 494.7h0M462.3 494.3h0M463.1 493.3h0M463.9 493.4h0M464.7 491.4h0M465.5 492.7h0M466.3 491.6h0M467 490.7h0M467.8 490.2h0M468.6 489.5h0M469.4 489h0M470.2 488.9h0M471 487.8h0M471.8 489h0M472.6 487.7h0M473.3 487.7h0M474.1 487h0M474.9 486.6h0M475.7 486.9h0M476.5 486.5h0M477.3 485.5h0M478.1 485.5h0M478.8 485.7h0M479.6 484.2h0M480.4 483.8h0M481.2 485.3h0M482 484.3h0M482.8 483.1h0M483.6 483.7h0M484.4 483.7h0M485.1 483.8h0M485.9 483.7h0M486.7 483.4h0M487.5 483.4h0M488.3 482.7h0M489.1 483.1h0M489.9 483h0M490.7 483.2h0M491.4 482.6h0M492.2 482.9h0M493 482.5h0M493.8 481.8h0M494.6 482h0M495.4 481.8h0M496.2 481.8h0M497 481.8h0M497.7 481.8h0M498.5 481.7h0M499.3 481.1h0M500.1 481.8h0M500.9 480.5h0M501.7 480.9h0M502.5 481h0M503.2 480.5h0M504 480.3h0M504.8 479.5h0M505.6 479.5h0M506.4 478.2h0M507.2 478.6h0M508 478.9h0M508.8 477.7h0M509.5 477.8h0M510.3 476.5h0M511.1 475.5h0M511.9 475.3h0M512.7 475.8h0M513.5 475.1h0M514.3 473.6h0M515.1 474h0M515.8 473.9h0M516.6 473.1h0M517.4 472.2h0M518.2 472.5h0M519 472.7h0M519.8 472.4h0M520.6 472h0M521.4 472.3h0M522.1 472.2h0M522.9 471.5h0M523.7 471.7h0M524.5 471h0M525.3 470.7h0M526.1 469.5h0M526.9 470.7h0M527.6 470.2h0M528.4 470h0M529.2 469.5h0M530 469.1h0M530.8 469.6h0M531.6 469.6h0M532.4 469.8h0M533.2 469.3h0M533.9 468.5h0M534.7 468.6h0M535.5 469h0M536.3 468.6h0M537.1 468.4h0M537.9 468.1h0M538.7 468.5h0M539.5 468.3h0M540.2 469h0M541 468.6h0M541.8 467.3h0M542.6 469h0M543.4 468.1h0M544.2 467.8h0M545 468h0M545.8 468.2h0M546.5 467.8h0M547.3 467.8h0M548.1 467.8h0M548.9 468.6h0M549.7 467.7h0M550.5 468h0M551.3 467.8h0M552 467.4h0M552.8 467.2h0M553.6 467.1h0M554.4 467.7h0M555.2 467h0M556 466.8h0M556.8 466.8h0M557.6 466.6h0M558.3 467.3h0M559.1 467.3h0M559.9 466.7h0M560.7 467.7h0M561.5 466.9h0M562.3 467.2h0M563.1 467h0M563.9 467.6h0M564.6 467.1h0M565.4 466.6h0M566.2 466.1h0M567 466h0M567.8 466.4h0M568.6 466.4h0M569.4 466.6h0M570.2 465.9h0M570.9 466.1h0M571.7 465.7h0M572.5 465.1h0M573.3 465.8h0M574.1 466.4h0M574.9 466.1h0M575.7 466.3h0M576.4 466.2h0M577.2 465h0M578 465.4h0M578.8 466.2h0M579.6 465.2h0M580.4 464.9h0M581.2 465.7h0M582 465.8h0M582.7 465.7h0M583.5 465.4h0M584.3 465.3h0M585.1 465h0M585.9 465h0M586.7 465.1h0M587.5 465h0M588.3 465.4h0M589 466.4h0M589.8 465.8h0M590.6 465.6h0M591.4 466h0M592.2 465.4h0M593 466h0M593.8 466.3h0M594.5 465.3h0M595.3 465.6h0M596.1 465.9h0M596.9 465.6h0M597.7 465.5h0M598.5 465.9h0M599.3 467.2h0M600.1 466.4h0M600.8 466.3h0M601.6 466.5h0M602.4 466h0M603.2 465.5h0M604 466.3h0M604.8 466.5h0M605.6 465.1h0M606.4 466.2h0M607.1 466.5h0M607.9 465.8h0M608.7 465.7h0M609.5 466.1h0M610.3 465.4h0M611.1 465.9h0M611.9 466.1h0M612.7 465.5h0M613.4 465.2h0M614.2 465.8h0M615 465.3h0M615.8 465.4h0M616.6 464h0M617.4 465.6h0M618.2 464.6h0M618.9 465.2h0M619.7 465.2h0M620.5 464.7h0M621.3 464.6h0M622.1 464.4h0M622.9 464.8h0M623.7 465.2h0M624.5 465.1h0M625.2 464.6h0M626 464.6h0M626.8 464.1h0M627.6 464.6h0M628.4 464.2h0M629.2 464h0M630 464.6h0M630.8 465.3h0M631.5 465.2h0M632.3 465.2h0M633.1 463.8h0M633.9 464.9h0M634.7 463.9h0M635.5 464.2h0M636.3 463.7h0M637.1 464h0M637.8 464.5h0M638.6 464.5h0M639.4 464.3h0M640.2 464.3h0" stroke="#e9708e" stroke-width="10.4"/>
<polyline points="128.6,353.1 129.4,354.7 130.2,356.3 131,345.3 131.7,351.3 132.5,353.7 133.3,346.6 134.1,349.7 134.9,346.2 135.7,341.4 136.5,341.4 137.3,338.8 138,329.2 138.8,330.4 139.6,328.7 140.4,326.7 141.2,325.2 142,318.9 142.8,320.6 143.6,312.2 144.3,319.4 145.1,315 145.9,316 146.7,310.7 147.5,306 148.3,299.6 149.1,305 149.9,299.4 150.6,296.9 151.4,295.9 152.2,293.6 153,286 153.8,288 154.6,277.8 155.4,276.2 156.1,275.4 156.9,272.4 157.7,272.5 158.5,272.6 159.3,271.3 160.1,270.9 160.9,274.7 161.7,281.5 162.4,286.7 163.2,291.3 164,294.6 164.8,298.7 165.6,303.1 166.4,308.2 167.2,314.7 168,320.7 168.7,327.4 169.5,332.9 170.3,339.5 171.1,344.9 171.9,350.8 172.7,355.7 173.5,360.9 174.3,367.2 175,372.9 175.8,379.9 176.6,386.6 177.4,392.5 178.2,397.5 179,402 179.8,405.3 180.5,411.6 181.3,415.3 182.1,421.3 182.9,427.1 183.7,429.2 184.5,434.3 185.3,440 186.1,444 186.8,448.9 187.6,453.4 188.4,458.8 189.2,463 190,467 190.8,471.6 191.6,475.6 192.4,480.5 193.1,483.8 193.9,489.4 194.7,493.1 195.5,498.1 196.3,501.6 197.1,504.1 197.9,508.6 198.6,511.5 199.4,515.4 200.2,519.7 201,523.6 201.8,528.3 202.6,533.1 203.4,537.2 204.2,541.8 204.9,546.5 205.7,550.2 206.5,553 207.3,556.2 208.1,558.6 208.9,560.6 209.7,564.1 210.5,567.2 211.2,569.9 212,573 212.8,575.8 213.6,578.6 214.4,581.1 215.2,583.8 216,585.8 216.8,588.8 217.5,591 218.3,593.6 219.1,594.3 219.9,596.8 220.7,598.1 221.5,600.4 222.3,601.7 223,604.1 223.8,605 224.6,605.3 225.4,608.2 226.2,608.1 227,608.8 227.8,610.3 228.6,611 229.3,611.5 230.1,613.2 230.9,613.3 231.7,614.4 232.5,614.8 233.3,615.2 234.1,615.4 234.9,615.7 235.6,615.9 236.4,617.1 237.2,615.8 238,616.5 238.8,616.9 239.6,617.5 240.4,617.4 241.2,617.1 241.9,617 242.7,617.8 243.5,616.4 244.3,615 245.1,616.9 245.9,615.2 246.7,615.1 247.4,614.9 248.2,613.9 249,614.7 249.8,613.6 250.6,612.6 251.4,612.9 252.2,612.5 253,611.7 253.7,611.5 254.5,610 255.3,610.7 256.1,609.3 256.9,609.9 257.7,608.6 258.5,608.5 259.3,609.4 260,607.8 260.8,608 261.6,607.4 262.4,606.1 263.2,607.1 264,606.7 264.8,605.2 265.6,605.6 266.3,604.6 267.1,604.9 267.9,605.2 268.7,604.6 269.5,603.7 270.3,603.7 271.1,604 271.8,603.8 272.6,603.7 273.4,603.9 274.2,602.6 275,603.5 275.8,604.1 276.6,603.8 277.4,603.3 278.1,603.4 278.9,603.9 279.7,604.3 280.5,604.1 281.3,605 282.1,605 282.9,604.2 283.7,605 284.4,604.8 285.2,604.5 286,605 286.8,605.5 287.6,604.7 288.4,605.6 289.2,606.3 290,606 290.7,606.3 291.5,607.1 292.3,606.9 293.1,607.3 293.9,608.4 294.7,607.8 295.5,608.1 296.2,608.4 297,609.3 297.8,609 298.6,609.1 299.4,609.3 300.2,610.2 301,609.6 301.8,610.8 302.5,610.6 303.3,610.1 304.1,611.3 304.9,611.5 305.7,610.9 306.5,611.8 307.3,611.9 308.1,611.9 308.8,611.7 309.6,613.4 310.4,613 311.2,613.2 312,613.5 312.8,613.5 313.6,613.7 314.4,613.3 315.1,614.1 315.9,613.7 316.7,613.8 317.5,614.4 318.3,614.1 319.1,613.5 319.9,614.2 320.6,614.7 321.4,614.5 322.2,614.9 323,614.4 323.8,614.1 324.6,614.9 325.4,614.6 326.2,614 326.9,614.7 327.7,614.4 328.5,615 329.3,614.9 330.1,614.7 330.9,613.5 331.7,614.7 332.5,614.7 333.2,614.8 334,614.6 334.8,614.2 335.6,614.4 336.4,613.6 337.2,614.4 338,613.8 338.7,614.4 339.5,614.1 340.3,615 341.1,614.2 341.9,613.9 342.7,613.7 343.5,614.3 344.3,612.5 345,612.7 345.8,612.3 346.6,611.8 347.4,611.3 348.2,610.5 349,610.7 349.8,610.1 350.6,609 351.3,608.5 352.1,608.2 352.9,607.8 353.7,607.4 354.5,606.6 355.3,605.5 356.1,606 356.9,604.3 357.6,604 358.4,604.1 359.2,602.9 360,603.3 360.8,602.8 361.6,602 362.4,600.9 363.1,600.2 363.9,599.6 364.7,598.7 365.5,599 366.3,597.1 367.1,597.3 367.9,596.2 368.7,595.4 369.4,595.1 370.2,594.5 371,593.6 371.8,592.4 372.6,591.4 373.4,590.6 374.2,590.6 375,589.7 375.7,589 376.5,587.5 377.3,587.9 378.1,585.5 378.9,585.5 379.7,584.8 380.5,583.5 381.3,582.4 382,581.9 382.8,580.7 383.6,580.4 384.4,579.1 385.2,578.3 386,578.2 386.8,576.7 387.5,576.6 388.3,575.9 389.1,575.6 389.9,574.6 390.7,573.4 391.5,573.7 392.3,572 393.1,571.5 393.8,570.8 394.6,571.2 395.4,569.6 396.2,568.5 397,568.4 397.8,567.3 398.6,567.7 399.4,565.5 400.1,565.4 400.9,563.9 401.7,564.3 402.5,562.3 403.3,561.9 404.1,560.6 404.9,560.5 405.7,559.5 406.4,557.3 407.2,557.8 408,556.9 408.8,555.8 409.6,555.2 410.4,553.3 411.2,552.1 411.9,552.3 412.7,551.9 413.5,549.6 414.3,548.7 415.1,547.9 415.9,546.8 416.7,546.8 417.5,545.5 418.2,545.1 419,544.1 419.8,542 420.6,541.8 421.4,539.5 422.2,539.5 423,538.8 423.8,537.2 424.5,535.8 425.3,535.4 426.1,535.2 426.9,533.6 427.7,532.2 428.5,532.1 429.3,531.4 430.1,529.7 430.8,529.2 431.6,528.9 432.4,527.7 433.2,527 434,525.6 434.8,524.9 435.6,523.6 436.3,522.9 437.1,523.1 437.9,521.4 438.7,520.4 439.5,519.8 440.3,518.7 441.1,518.6 441.9,518 442.6,516.4 443.4,516.5 444.2,516.3 445,514.1 445.8,514.1 446.6,513.2 447.4,513 448.2,512.2 448.9,511.5 449.7,510.4 450.5,509.3 451.3,509.9 452.1,507.8 452.9,508 453.7,507.2 454.4,505.8 455.2,505.4 456,505.4 456.8,503.2 457.6,503.8 458.4,502.6 459.2,502 460,500.8 460.7,501 461.5,499.6 462.3,499.8 463.1,498.3 463.9,498.6 464.7,497.7 465.5,496.1 466.3,496.2 467,495.6 467.8,494 468.6,494.3 469.4,494.2 470.2,492.9 471,493.1 471.8,491.4 472.6,490.7 473.3,490.9 474.1,490.2 474.9,489.2 475.7,488.5 476.5,488.3 477.3,486.8 478.1,487.3 478.8,485.9 479.6,485.2 480.4,484.4 481.2,483.5 482,483.6 482.8,482.2 483.6,482 484.4,481.7 485.1,481.6 485.9,481.1 486.7,480.1 487.5,480.4 488.3,479.6 489.1,478.8 489.9,478.6 490.7,478.1 491.4,478.7 492.2,478.9 493,477.7 493.8,477.8 494.6,477.2 495.4,477.5 496.2,476.8 497,476.7 497.7,476.6 498.5,476.5 499.3,476.4 500.1,476.2 500.9,476 501.7,475.4 502.5,475.9 503.2,474.7 504,475.3 504.8,474.6 505.6,474.9 506.4,474.8 507.2,473.5 508,474.4 508.8,474.6 509.5,474.2 510.3,473.8 511.1,472.4 511.9,473.1 512.7,472.6 513.5,473.3 514.3,472.5 515.1,472.1 515.8,471.4 516.6,472.3 517.4,471.5 518.2,471.4 519,471.7 519.8,471 520.6,470.9 521.4,471.5 522.1,469.9 522.9,469.7 523.7,469.9 524.5,470 525.3,468.5 526.1,468.8 526.9,468.2 527.6,467.7 528.4,468.4 529.2,467.6 530,467.9 530.8,467.6 531.6,467.4 532.4,467.2 533.2,466.6 533.9,466.9 534.7,467 535.5,466.9 536.3,466.6 537.1,467.2 537.9,467 538.7,466.8 539.5,467.1 540.2,466.9 541,467.2 541.8,466 542.6,466.4 543.4,466.9 544.2,467.1 545,466.2 545.8,467.1 546.5,467.4 547.3,467.3 548.1,467.4 548.9,466.9 549.7,467.7 550.5,466.8 551.3,468.2 552,467.5 552.8,468.4 553.6,467.1 554.4,468.2 555.2,468.1 556,467.7 556.8,467.5 557.6,468.7 558.3,468.3 559.1,468.8 559.9,468.1 560.7,468.1 561.5,468.2 562.3,468.3 563.1,468.1 563.9,468.2 564.6,467.5 565.4,466.9 566.2,468.4 567,467.5 567.8,467.5 568.6,467 569.4,467.6 570.2,467.1 570.9,467.4 571.7,466.5 572.5,466.6 573.3,466.7 574.1,466.3 574.9,466.5 575.7,467 576.4,466 577.2,466.1 578,466.2 578.8,465.6 579.6,465.5 580.4,466.6 581.2,466.4 582,465.4 582.7,465.5 583.5,466.5 584.3,466.8 585.1,466.6 585.9,466.6 586.7,467.2 587.5,466.6 588.3,467.3 589,467.4 589.8,466.5 590.6,467.4 591.4,467.2 592.2,467 593,467 593.8,467.7 594.5,467.6 595.3,468.1 596.1,467 596.9,467.6 597.7,468.5 598.5,468 599.3,467.8 600.1,467.9 600.8,467.3 601.6,467.5 602.4,468.4 603.2,468.2 604,468.7 604.8,468 605.6,468 606.4,466.7 607.1,467.9 607.9,468.8 608.7,468.1 609.5,467.7 610.3,468.3 611.1,468 611.9,467.7 612.7,467.3 613.4,467.5 614.2,467.7 615,466.9 615.8,467.4 616.6,467.3 617.4,467.7 618.2,467.3 618.9,466.6 619.7,467.6 620.5,466.9 621.3,466.5 622.1,467 622.9,466.7 623.7,467.3 624.5,466.2 625.2,466.3 626,466.7 626.8,467.6 627.6,467.3 628.4,466.4 629.2,466.2 630,466.9 630.8,466.5 631.5,467.4 632.3,467.3 633.1,467.3 633.9,467.2 634.7,468.1 635.5,467.1 636.3,467 637.1,468.2 637.8,468.4 638.6,467.8 639.4,468.3 640.2,469.2" stroke="#000000" stroke-width="3"/>
<path d="M128.6 353.1h0M129.4 354.7h0M130.2 356.3h0M131 345.3h0M131.7 351.3h0M132.5 353.7h0M133.3 346.6h0M134.1 349.7h0M134.9 346.2h0M135.7 341.4h0M136.5 341.4h0M137.3 338.8h0M138 329.2h0M138.8 330.4h0M139.6 328.7h0M140.4 326.7h0M141.2 325.2h0M142 318.9h0M142.8 320.6h0M143.6 312.2h0M144.3 319.4h0M145.1 315h0M145.9 316h0M146.7 310.7h0M147.5 306h0M148.3 299.6h0M149.1 305h0M149.9 299.4h0M150.6 296.9h0M151.4 295.9h0M152.2 293.6h0M153 286h0M153.8 288h0M154.6 277.8h0M155.4 276.2h0M156.1 275.4h0M156.9 272.4h0M157.7 272.5h0M158.5 272.6h0M159.3 271.3h0M160.1 270.9h0M160.9 274.7h0M161.7 281.5h0M162.4 286.7h0M163.2 291.3h0M164 294.6h0M164.8 298.7h0M165.6 303.1h0M166.4 308.2h0M167.2 314.7h0M168 320.7h0M168.7 327.4h0M169.5 332.9h0M170.3 339.5h0M171.1 344.9h0M171.9 350.8h0M172.7 355.7h0M173.5 360.9h0M174.3 367.2h0M175 372.9h0M175.8 379.9h0M176.6 386.6h0M177.4 392.5h0M178.2 397.5h0M179 402h0M179.8 405.3h0M180.5 411.6h0M181.3 415.3h0M182.1 421.3h0M182.9 427.1h0M183.7 429.2h0M184.5 434.3h0M185.3 440h0M186.1 444h0M186.8 448.9h0M187.6 453.4h0M188.4 458.8h0M189.2 463h0M190 467h0M190.8 471.6h0M191.6 475.6h0M192.4 480.5h0M193.1 483.8h0M193.9 489.4h0M194.7 493.1h0M195.5 498.1h0M196.3 501.6h0M197.1 504.1h0M197.9 508.6h0M198.6 511.5h0M199.4 515.4h0M200.2 519.7h0M201 523.6h0M201.8 528.3h0M202.6 533.1h0M203.4 537.2h0M204.2 541.8h0M204.9 546.5h0M205.7 550.2h0M206.5 553h0M207.3 556.2h0M208.1 558.6h0M208.9 560.6h0M209.7 564.1h0M210.5 567.2h0M211.2 569.9h0M212 573h0M212.8 575.8h0M213.6 578.6h0M214.4 581.1h0M215.2 583.8h0M216 585.8h0M216.8 588.8h0M217.5 591h0M218.3 593.6h0M219.1 594.3h0M219.9 596.8h0M220.7 598.1h0M221.5 600.4h0M222.3 601.7h0M223 604.1h0M223.8 605h0M224.6 605.3h0M225.4 608.2h0M226.2 608.1h0M227 608.8h0M227.8 610.3h0M228.6 611h0M229.3 611.5h0M230.1 613.2h0M230.9 613.3h0M231.7 614.4h0M232.5 614.8h0M233.3 615.2h0M234.1 615.4h0M234.9 615.7h0M235.6 615.9h0M236.4 617.1h0M237.2 615.8h0M238 616.5h0M238.8 616.9h0M239.6 617.5h0M240.4 617.4h0M241.2 617.1h0M241.9 617h0M242.7 617.8h0M243.5 616.4h0M244.3 615h0M245.1 616.9h0M245.9 615.2h0M246.7 615.1h0M247.4 614.9h0M248.2 613.9h0M249 614.7h0M249.8 613.6h0M250.6 612.6h0M251.4 612.9h0M252.2 612.5h0M253 611.7h0M253.7 611.5h0M254.5 610h0M255.3 610.7h0M256.1 609.3h0M256.9 609.9h0M257.7 608.6h0M258.5 608.5h0M259.3 609.4h0M260 607.8h0M260.8 608h0M261.6 607.4h0M262.4 606.1h0M263.2 607.1h0M264 606.7h0M264.8 605.2h0M265.6 605.6h0M266.3 604.6h0M267.1 604.9h0M267.9 605.2h0M268.7 604.6h0M269.5 603.7h0M270.3 603.7h0M271.1 604h0M271.8 603.8h0M272.6 603.7h0M273.4 603.9h0M274.2 602.6h0M275 603.5h0M275.8 604.1h0M276.6 603.8h0M277.4 603.3h0M278.1 603.4h0M278.9 603.9h0M279.7 604.3h0M280.5 604.1h0M281.3 605h0M282.1 605h0M282.9 604.2h0M283.7 605h0M284.4 604.8h0M285.2 604.5h0M286 605h0M286.8 605.5h0M287.6 604.7h0M288.4 605.6h0M289.2 606.3h0M290 606h0M290.7 606.3h0M291.5 607.1h0M292.3 606.9h0M293.1 607.3h0M293.9 608.4h0M294.7 607.8h0M295.5 608.1h0M296.2 608.4h0M297 609.3h0M297.8 609h0M298.6 609.1h0M299.4 609.3h0M300.2 610.2h0M301 609.6h0M301.8 610.8h0M302.5 610.6h0M303.3 610.1h0M304.1 611.3h0M304.9 611.5h0M305.7 610.9h0M306.5 611.8h0M307.3 611.9h0M308.1 611.9h0M308.8 611.7h0M309.6 613.4h0M310.4 613h0M311.2 613.2h0M312 613.5h0M312.8 613.5h0M313.6 613.7h0M314.4 613.3h0M315.1 614.1h0M315.9 613.7h0M316.7 613.8h0M317.5 614.4h0M318.3 614.1h0M319.1 613.5h0M319.9 614.2h0M320.6 614.7h0M321.4 614.5h0M322.2 614.9h0M323 614.4h0M323.8 614.1h0M324.6 614.9h0M325.4 614.6h0M326.2 614h0M326.9 614.7h0M327.7 614.4h0M328.5 615h0M329.3 614.9h0M330.1 614.7h0M330.9 613.5h0M331.7 614.7h0M332.5 614.7h0M333.2 614.8h0M334 614.6h0M334.8 614.2h0M335.6 614.4h0M336.4 613.6h0M337.2 614.4h0M338 613.8h0M338.7 614.4h0M339.5 614.1h0M340.3 615h0M341.1 614.2h0M341.9 613.9h0M342.7 613.7h0M343.5 614.3h0M344.3 612.5h0M345 612.7h0M345.8 612.3h0M346.6 611.8h0M347.4 611.3h0M348.2 610.5h0M349 610.7h0M349.8 610.1h0M350.6 609h0M351.3 608.5h0M352.1 608.2h0M352.9 607.8h0M353.7 607.4h0M354.5 606.6h0M355.3 605.5h0M356.1 606h0M356.9 604.3h0M357.6 604h0M358.4 604.1h0M359.2 602.9h0M360 603.3h0M360.8 602.8h0M361.6 602h0M362.4 600.9h0M363.1 600.2h0M363.9 599.6h0M364.7 598.7h0M365.5 599h0M366.3 597.1h0M367.1 597.3h0M367.9 596.2h0M368.7 595.4h0M369.4 595.1h0M370.2 594.5h0M371 593.6h0M371.8 592.4h0M372.6 591.4h0M373.4 590.6h0M374.2 590.6h0M375 589.7h0M375.7 589h0M376.5 587.5h0M377.3 587.9h0M378.1 585.5h0M378.9 585.5h0M379.7 584.8h0M380.5 583.5h0M381.3 582.4h0M382 581.9h0M382.8 580.7h0M383.6 580.4h0M384.4 579.1h0M385.2 578.3h0M386 578.2h0M386.8 576.7h0M387.5 576.6h0M388.3 575.9h0M389.1 575.6h0M389.9 574.6h0M390.7 573.4h0M391.5 573.7h0M392.3 572h0M393.1 571.5h0M393.8 570.8h0M394.6 571.2h0M395.4 569.6h0M396.2 568.5h0M397 568.4h0M397.8 567.3h0M398.6 567.7h0M399.4 565.5h0M400.1 565.4h0M400.9 563.9h0M401.7 564.3h0M402.5 562.3h0M403.3 561.9h0M404.1 560.6h0M404.9 560.5h0M405.7 559.5h0M406.4 557.3h0M407.2 557.8h0M408 556.9h0M408.8 555.8h0M409.6 555.2h0M410.4 553.3h0M411.2 552.1h0M411.9 552.3h0M412.7 551.9h0M413.5 549.6h0M414.3 548.7h0M415.1 547.9h0M415.9 546.8h0M416.7 546.8h0M417.5 545.5h0M418.2 545.1h0M419 544.1h0M419.8 542h0M420.6 541.8h0M421.4 539.5h0M422.2 539.5h0M423 538.8h0M423.8 537.2h0M424.5 535.8h0M425.3 535.4h0M426.1 535.2h0M426.9 533.6h0M427.7 532.2h0M428.5 532.1h0M429.3 531.4h0M430.1 529.7h0M430.8 529.2h0M431.6 528.9h0M432.4 527.7h0M433.2 527h0M434 525.6h0M434.8 524.9h0M435.6 523.6h0M436.3 522.9h0M437.1 523.1h0M437.9 521.4h0M438.7 520.4h0M439.5 519.8h0M440.3 518.7h0M441.1 518.6h0M441.9 518h0M442.6 516.4h0M443.4 516.5h0M444.2 516.3h0M445 514.1h0M445.8 514.1h0M446.6 513.2h0M447.4 513h0M448.2 512.2h0M448.9 511.5h0M449.7 510.4h0M450.5 509.3h0M451.3 509.9h0M452.1 507.8h0M452.9 508h0M453.7 507.2h0M454.4 505.8h0M455.2 505.4h0M456 505.4h0M456.8 503.2h0M457.6 503.8h0M458.4 502.6h0M459.2 502h0M460 500.8h0M460.7 501h0M461.5 499.6h0M462.3 499.8h0M463.1 498.3h0M463.9 498.6h0M464.7 497.7h0M465.5 496.1h0M466.3 496.2h0M467 495.6h0M467.8 494h0M468.6 494.3h0M469.4 494.2h0M470.2 492.9h0M471 493.1h0M471.8 491.4h0M472.6 490.7h0M473.3 490.9h0M474.1 490.2h0M474.9 489.2h0M475.7 488.5h0M476.5 488.3h0M477.3 486.8h0M478.1 487.3h0M478.8 485.9h0M479.6 485.2h0M480.4 484.4h0M481.2 483.5h0M482 483.6h0M482.8 482.2h0M483.6 482h0M484.4 481.7h0M485.1 481.6h0M485.9 481.1h0M486.7 480.1h0M487.5 480.4h0M488.3 479.6h0M489.1 478.8h0M489.9 478.6h0M490.7 478.1h0M491.4 478.7h0M492.2 478.9h0M493 477.7h0M493.8 477.8h0M494.6 477.2h0M495.4 477.5h0M496.2 476.8h0M497 476.7h0M497.7 476.6h0M498.5 476.5h0M499.3 476.4h0M500.1 476.2h0M500.9 476h0M501.7 475.4h0M502.5 475.9h0M503.2 474.7h0M504 475.3h0M504.8 474.6h0M505.6 474.9h0M506.4 474.8h0M507.2 473.5h0M508 474.4h0M508.8 474.6h0M509.5 474.2h0M510.3 473.8h0M511.1 472.4h0M511.9 473.1h0M512.7 472.6h0M513.5 473.3h0M514.3 472.5h0M515.1 472.1h0M515.8 471.4h0M516.6 472.3h0M517.4 471.5h0M518.2 471.4h0M519 471.7h0M519.8 471h0M520.6 470.9h0M521.4 471.5h0M522.1 469.9h0M522.9 469.7h0M523.7 469.9h0M524.5 470h0M525.3 468.5h0M526.1 468.8h0M526.9 468.2h0M527.6 467.7h0M528.4 468.4h0M529.2 467.6h0M530 467.9h0M530.8 467.6h0M531.6 467.4h0M532.4 467.2h0M533.2 466.6h0M533.9 466.9h0M534.7 467h0M535.5 466.9h0M536.3 466.6h0M537.1 467.2h0M537.9 467h0M538.7 466.8h0M539.5 467.1h0M540.2 466.9h0M541 467.2h0M541.8 466h0M542.6 466.4h0M543.4 466.9h0M544.2 467.1h0M545 466.2h0M545.8 467.1h0M546.5 467.4h0M547.3 467.3h0M548.1 467.4h0M548.9 466.9h0M549.7 467.7h0M550.5 466.8h0M551.3 468.2h0M552 467.5h0M552.8 468.4h0M553.6 467.1h0M554.4 468.2h0M555.2 468.1h0M556 467.7h0M556.8 467.5h0M557.6 468.7h0M558.3 468.3h0M559.1 468.8h0M559.9 468.1h0M560.7 468.1h0M561.5 468.2h0M562.3 468.3h0M563.1 468.1h0M563.9 468.2h0M564.6 467.5h0M565.4 466.9h0M566.2 468.4h0M567 467.5h0M567.8 467.5h0M568.6 467h0M569.4 467.6h0M570.2 467.1h0M570.9 467.4h0M571.7 466.5h0M572.5 466.6h0M573.3 466.7h0M574.1 466.3h0M574.9 466.5h0M575.7 467h0M576.4 466h0M577.2 466.1h0M578 466.2h0M578.8 465.6h0M579.6 465.5h0M580.4 466.6h0M581.2 466.4h0M582 465.4h0M582.7 465.5h0M583.5 466.5h0M584.3 466.8h0M585.1 466.6h0M585.9 466.6h0M586.7 467.2h0M587.5 466.6h0M588.3 467.3h0M589 467.4h0M589.8 466.5h0M590.6 467.4h0M591.4 467.2h0M592.2 467h0M593 467h0M593.8 467.7h0M594.5 467.6h0M595.3 468.1h0M596.1 467h0M596.9 467.6h0M597.7 468.5h0M598.5 468h0M599.3 467.8h0M600.1 467.9h0M600.8 467.3h0M601.6 467.5h0M602.4 468.4h0M603.2 468.2h0M604 468.7h0M604.8 468h0M605.6 468h0M606.4 466.7h0M607.1 467.9h0M607.9 468.8h0M608.7 468.1h0M609.5 467.7h0M610.3 468.3h0M611.1 468h0M611.9 467.7h0M612.7 467.3h0M613.4 467.5h0M614.2 467.7h0M615 466.9h0M615.8 467.4h0M616.6 467.3h0M617.4 467.7h0M618.2 467.3h0M618.9 466.6h0M619.7 467.6h0M620.5 466.9h0M621.3 466.5h0M622.1 467h0M622.9 466.7h0M623.7 467.3h0M624.5 466.2h0M625.2 466.3h0M626 466.7h0M626.8 467.6h0M627.6 467.3h0M628.4 466.4h0M629.2 466.2h0M630 466.9h0M630.8 466.5h0M631.5 467.4h0M632.3 467.3h0M633.1 467.3h0M633.9 467.2h0M634.7 468.1h0M635.5 467.1h0M636.3 467h0M637.1 468.2h0M637.8 468.4h0M638.6 467.8h0M639.4 468.3h0M640.2 469.2h0" stroke="#000000" stroke-width="10.4"/>
</g>
<rect x="128.6" y="120.7" width="511.6" height="635.3" fill="none" stroke="#000" stroke-width="2.1"/>
<line x1="168" y1="756" x2="168" y2="765" stroke="#000" stroke-width="2.1"/>
<text x="168" y="790" text-anchor="middle" font-family="'DejaVu Sans', sans-serif" font-size="27.6">200</text>
<line x1="246.7" y1="756" x2="246.7" y2="765" stroke="#000" stroke-width="2.1"/>
<text x="246.7" y="790" text-anchor="middle" font-family="'DejaVu Sans', sans-serif" font-size="27.6">210</text>
<line x1="325.4" y1="756" x2="325.4" y2="765" stroke="#000" stroke-width="2.1"/>
<text x="325.4" y="790" text-anchor="middle" font-family="'DejaVu Sans', sans-serif" font-size="27.6">220</text>
<line x1="404.1" y1="756" x2="404.1" y2="765" stroke="#000" stroke-width="2.1"/>
<text x="404.1" y="790" text-anchor="middle" font-family="'DejaVu Sans', sans-serif" font-size="27.6">230</text>
<line x1="482.8" y1="756" x2="482.8" y2="765" stroke="#000" stroke-width="2.1"/>
<text x="482.8" y="790" text-anchor="middle" font-family="'DejaVu Sans', sans-serif" font-size="27.6">240</text>
<line x1="561.5" y1="756" x2="561.5" y2="765" stroke="#000" stroke-width="2.1"/>
<text x="561.5" y="790" text-anchor="middle" font-family="'DejaVu Sans', sans-serif" font-size="27.6">250</text>
<line x1="640.2" y1="756" x2="640.2" y2="765" stroke="#000" stroke-width="2.1"/>
<text x="640.2" y="790" text-anchor="middle" font-family="'DejaVu Sans', sans-serif" font-size="27.6">260</text>
<line x1="119.6" y1="120.7" x2="128.6" y2="120.7" stroke="#000" stroke-width="2.1"/>
<text x="115.8" y="131.2" text-anchor="end" font-family="'DejaVu Sans', sans-serif" font-size="27.6">30</text>
<line x1="119.6" y1="236.2" x2="128.6" y2="236.2" stroke="#000" stroke-width="2.1"/>
<text x="115.8" y="246.7" text-anchor="end" font-family="'DejaVu Sans', sans-serif" font-size="27.6">20</text>
<line x1="119.6" y1="351.7" x2="128.6" y2="351.7" stroke="#000" stroke-width="2.1"/>
<text x="115.8" y="362.2" text-anchor="end" font-family="'DejaVu Sans', sans-serif" font-size="27.6">10</text>
<line x1="119.6" y1="467.2" x2="128.6" y2="467.2" stroke="#000" stroke-width="2.1"/>
<text x="115.8" y="477.7" text-anchor="end" font-family="'DejaVu Sans', sans-serif" font-size="27.6">0</text>
<line x1="119.6" y1="582.7" x2="128.6" y2="582.7" stroke="#000" stroke-width="2.1"/>
<text x="115.8" y="593.2" text-anchor="end" font-family="'DejaVu Sans', sans-serif" font-size="27.6">−10</text>
<line x1="119.6" y1="698.2" x2="128.6" y2="698.2" stroke="#000" stroke-width="2.1"/>
<text x="115.8" y="708.7" text-anchor="end" font-family="'DejaVu Sans', sans-serif" font-size="27.6">−20</text>
<text x="384.4" y="820.8" text-anchor="middle" font-family="'DejaVu Sans', sans-serif" font-size="27.6">Wavelength (nm)</text>
<text transform="translate(47.2 438.4) rotate(-90)" text-anchor="middle" font-family="'DejaVu Sans', sans-serif" font-size="27.6">MRE (10<tspan font-size="19.3" dy="-11">3</tspan><tspan dy="11"> deg cm</tspan><tspan font-size="19.3" dy="-11">2</tspan><tspan dy="11"> dmol</tspan><tspan font-size="19.3" dy="-11">−1</tspan><tspan dy="11">)</tspan></text>
<line x1="348.1" y1="156.7" x2="406.6" y2="156.7" stroke="#5bbba6" stroke-width="3.2"/>
<circle cx="377.4" cy="156.7" r="5" fill="#5bbba6"/>
<text x="427" y="166.7" font-family="'DejaVu Sans', sans-serif" font-size="27.6">25 °C</text>
<line x1="348.1" y1="197" x2="406.6" y2="197" stroke="#e9708e" stroke-width="3.2"/>
<circle cx="377.4" cy="197" r="5" fill="#e9708e"/>
<text x="427" y="207" font-family="'DejaVu Sans', sans-serif" font-size="27.6">95 °C</text>
<line x1="348.1" y1="237.3" x2="406.6" y2="237.3" stroke="#000000" stroke-width="3.2"/>
<circle cx="377.4" cy="237.3" r="5" fill="#000000"/>
<text x="427" y="247.3" font-family="'DejaVu Sans', sans-serif" font-size="27.6">Back to 25 °C</text>
<clipPath id="ct1"><rect x="809.9" y="120.7" width="511.6" height="635.3"/></clipPath>
<line x1="809.9" y1="467.2" x2="1321.5" y2="467.2" stroke="#000" stroke-width="1.3" stroke-dasharray="4.1 1.95"/>
<g clip-path="url(#ct1)" fill="none" stroke-linecap="round" stroke-linejoin="round">
<polyline points="809.9,433 810.7,430.6 811.5,426 812.3,424 813,418.7 813.8,414.7 814.6,410.1 815.4,404.5 816.2,396 817,387.6 817.8,381 818.6,374 819.3,366.8 820.1,359.9 820.9,349.4 821.7,338.7 822.5,328.1 823.3,320.4 824.1,310.9 824.9,304.5 825.6,297.3 826.4,288.1 827.2,279.9 828,270.7 828.8,263.4 829.6,254.9 830.4,245.6 831.2,234.8 831.9,224.7 832.7,211.4 833.5,199.7 834.3,193.8 835.1,189 835.9,185.3 836.7,182.9 837.4,180.2 838.2,180.2 839,178 839.8,177.3 840.6,177.4 841.4,178.1 842.2,180.8 843,185 843.7,189.7 844.5,194.8 845.3,200.1 846.1,207 846.9,213.2 847.7,220.8 848.5,226.4 849.3,233.7 850,241.2 850.8,247.9 851.6,255.7 852.4,265.1 853.2,271.8 854,280.5 854.8,287.5 855.6,295.1 856.3,304.9 857.1,313.3 857.9,322.4 858.7,331.1 859.5,340.1 860.3,349 861.1,359.2 861.8,367.2 862.6,377.6 863.4,386.6 864.2,395.8 865,405.6 865.8,415.7 866.6,424.5 867.4,432.8 868.1,440.4 868.9,447.3 869.7,455.5 870.5,461.6 871.3,468.3 872.1,475.1 872.9,482 873.7,488.5 874.4,496.1 875.2,503.2 876,510.5 876.8,517.1 877.6,525.9 878.4,531.3 879.2,538.7 879.9,545.4 880.7,552.4 881.5,559.5 882.3,565.6 883.1,572.7 883.9,579.3 884.7,587.3 885.5,592.9 886.2,599.9 887,606.4 887.8,612.8 888.6,618.7 889.4,624.4 890.2,629.2 891,633.7 891.8,638.3 892.5,643.2 893.3,646.8 894.1,651 894.9,654.2 895.7,657 896.5,661 897.3,664.9 898.1,668.9 898.8,672 899.6,674.9 900.4,676.3 901.2,679 902,680.2 902.8,682 903.6,682.9 904.3,683.5 905.1,685.6 905.9,686.4 906.7,687.6 907.5,687.7 908.3,689.5 909.1,690.5 909.9,691.5 910.6,692.5 911.4,692.6 912.2,692.4 913,694.7 913.8,694.2 914.6,694.7 915.4,695.3 916.2,694.8 916.9,694.7 917.7,694.7 918.5,693.3 919.3,694.9 920.1,693.6 920.9,693.3 921.7,693.2 922.5,692.2 923.2,691.1 924,690.5 924.8,689.4 925.6,688.4 926.4,688.8 927.2,686.3 928,685.1 928.7,684.8 929.5,683.9 930.3,684.1 931.1,682.8 931.9,682.4 932.7,681.8 933.5,680.5 934.3,680.8 935,680 935.8,680.3 936.6,679 937.4,678.4 938.2,678.3 939,677.9 939.8,676.4 940.6,677.5 941.3,677.1 942.1,676.7 942.9,675.6 943.7,675 944.5,675.6 945.3,676 946.1,675.7 946.9,674.9 947.6,675.7 948.4,674.4 949.2,674.3 950,674.8 950.8,674.5 951.6,674.3 952.4,673.8 953.1,674.9 953.9,673.8 954.7,674.5 955.5,674.6 956.3,674.1 957.1,674.2 957.9,674.5 958.7,674.8 959.4,674.4 960.2,673.3 961,673.1 961.8,673.7 962.6,673.5 963.4,674.3 964.2,674.2 965,674.1 965.7,674.8 966.5,674.9 967.3,674.5 968.1,674.8 968.9,675.3 969.7,674.8 970.5,675.2 971.3,674.8 972,675.4 972.8,675.7 973.6,675.7 974.4,676 975.2,676.4 976,676.4 976.8,676 977.5,676.2 978.3,676 979.1,677.5 979.9,676.9 980.7,677 981.5,676.8 982.3,677.2 983.1,677.2 983.8,676.7 984.6,677 985.4,677.7 986.2,676.6 987,676.8 987.8,677.5 988.6,676.9 989.4,677.7 990.1,676.8 990.9,677.5 991.7,677.8 992.5,677.6 993.3,677.8 994.1,677.4 994.9,677.5 995.7,677.6 996.4,677.9 997.2,679.3 998,677.7 998.8,678.6 999.6,677.7 1000.4,677.3 1001.2,677.8 1001.9,678.2 1002.7,678.2 1003.5,678.3 1004.3,678.6 1005.1,678.8 1005.9,679.1 1006.7,678.4 1007.5,679.1 1008.2,678.9 1009,679.6 1009.8,679.7 1010.6,680.1 1011.4,680 1012.2,680 1013,680.5 1013.8,681.2 1014.5,681.4 1015.3,680.5 1016.1,681.6 1016.9,681.7 1017.7,681 1018.5,681.3 1019.3,681.7 1020,682.2 1020.8,681 1021.6,681.9 1022.4,681.8 1023.2,682.1 1024,682.6 1024.8,682.4 1025.6,681.4 1026.3,681.3 1027.1,681.3 1027.9,681.5 1028.7,681.4 1029.5,680.6 1030.3,680.9 1031.1,679.5 1031.9,679 1032.6,677.9 1033.4,678.5 1034.2,678.9 1035,678.7 1035.8,679.5 1036.6,677.8 1037.4,677.3 1038.2,676.3 1038.9,676 1039.7,675.5 1040.5,675.1 1041.3,674.4 1042.1,673.4 1042.9,673.9 1043.7,673 1044.4,672.8 1045.2,670.8 1046,670.2 1046.8,669.8 1047.6,670 1048.4,668.6 1049.2,668.1 1050,667.3 1050.7,666.7 1051.5,665.7 1052.3,665.4 1053.1,664.1 1053.9,663.6 1054.7,663.2 1055.5,662.3 1056.3,661.7 1057,660.4 1057.8,660.1 1058.6,659 1059.4,658.5 1060.2,658.2 1061,656.3 1061.8,656.3 1062.6,654.7 1063.3,653.9 1064.1,654 1064.9,652.8 1065.7,651.7 1066.5,650.9 1067.3,650.2 1068.1,648.4 1068.8,647.9 1069.6,646.7 1070.4,646.1 1071.2,644.8 1072,644.3 1072.8,643 1073.6,641.7 1074.4,640.9 1075.1,640.1 1075.9,639.4 1076.7,637.7 1077.5,636.6 1078.3,635.7 1079.1,634.9 1079.9,633.1 1080.7,631.1 1081.4,631.2 1082.2,629.8 1083,628.6 1083.8,628.8 1084.6,626.3 1085.4,625.5 1086.2,623.3 1087,622.8 1087.7,621.8 1088.5,620.3 1089.3,618.9 1090.1,617.9 1090.9,616.4 1091.7,615.7 1092.5,613.9 1093.2,612.1 1094,610.2 1094.8,609.4 1095.6,608.2 1096.4,606.3 1097.2,604.9 1098,603.2 1098.8,602 1099.5,601 1100.3,599.4 1101.1,597.9 1101.9,596.3 1102.7,594.8 1103.5,593.8 1104.3,592.8 1105.1,590.7 1105.8,589.8 1106.6,587.3 1107.4,585.8 1108.2,585 1109,582.4 1109.8,580.8 1110.6,579.6 1111.4,577.4 1112.1,575.7 1112.9,575.6 1113.7,572.9 1114.5,571.6 1115.3,570.1 1116.1,568.2 1116.9,567.4 1117.6,565.8 1118.4,564.4 1119.2,562.8 1120,560.9 1120.8,560.1 1121.6,558.4 1122.4,556.2 1123.2,555 1123.9,553.4 1124.7,553.1 1125.5,551.2 1126.3,549.7 1127.1,548 1127.9,546.9 1128.7,544.9 1129.5,544 1130.2,542.6 1131,541.3 1131.8,539.7 1132.6,539 1133.4,537 1134.2,536 1135,534.9 1135.7,533.7 1136.5,532.3 1137.3,530.9 1138.1,529.7 1138.9,528.8 1139.7,527.5 1140.5,526.7 1141.3,525 1142,524.5 1142.8,524.4 1143.6,521.7 1144.4,521.2 1145.2,520.8 1146,519.3 1146.8,518.5 1147.6,516.1 1148.3,515.9 1149.1,515.8 1149.9,513.8 1150.7,513.3 1151.5,511.2 1152.3,511.6 1153.1,511.2 1153.9,509.1 1154.6,508.4 1155.4,507.4 1156.2,507.3 1157,505.1 1157.8,503.6 1158.6,504.3 1159.4,502 1160.1,501.9 1160.9,499.6 1161.7,499.6 1162.5,499 1163.3,497.6 1164.1,497 1164.9,496.8 1165.7,495.4 1166.4,495.2 1167.2,495 1168,492.5 1168.8,492.9 1169.6,492.3 1170.4,491.2 1171.2,491.3 1172,490.6 1172.7,489.5 1173.5,488.8 1174.3,487.9 1175.1,486.8 1175.9,486.9 1176.7,485.9 1177.5,485.3 1178.3,485.5 1179,484.4 1179.8,484.5 1180.6,483.1 1181.4,483 1182.2,482.8 1183,483 1183.8,482 1184.5,482.1 1185.3,481 1186.1,481.1 1186.9,481.1 1187.7,480 1188.5,479.8 1189.3,480.1 1190.1,479 1190.8,479.4 1191.6,479.1 1192.4,478.7 1193.2,478.8 1194,478.4 1194.8,478 1195.6,476.9 1196.4,476.7 1197.1,477.2 1197.9,476 1198.7,476.5 1199.5,476.1 1200.3,475.6 1201.1,475.6 1201.9,474.3 1202.7,475.1 1203.4,475.5 1204.2,474.1 1205,474.6 1205.8,474.3 1206.6,475.3 1207.4,473.2 1208.2,473.1 1208.9,472.9 1209.7,472.6 1210.5,472 1211.3,472.5 1212.1,471.8 1212.9,472.3 1213.7,471.9 1214.5,471 1215.2,471 1216,471.5 1216.8,470.4 1217.6,470.4 1218.4,470.4 1219.2,469.6 1220,469.7 1220.8,470 1221.5,469.5 1222.3,467.9 1223.1,469.2 1223.9,468.2 1224.7,467.8 1225.5,467.6 1226.3,468.3 1227.1,467.8 1227.8,467.4 1228.6,467 1229.4,467.6 1230.2,467.8 1231,466.8 1231.8,466.7 1232.6,467.1 1233.3,467.5 1234.1,467 1234.9,467.2 1235.7,466.8 1236.5,467.8 1237.3,467.2 1238.1,467.3 1238.9,467.7 1239.6,467.1 1240.4,467.2 1241.2,467.4 1242,467 1242.8,467.9 1243.6,467.3 1244.4,467 1245.2,467.1 1245.9,466.7 1246.7,467.8 1247.5,467.9 1248.3,467.1 1249.1,467 1249.9,466.2 1250.7,466.9 1251.5,467.6 1252.2,466.9 1253,467.6 1253.8,467.9 1254.6,466 1255.4,467.1 1256.2,466.9 1257,467 1257.7,466.4 1258.5,467.1 1259.3,466.7 1260.1,467.7 1260.9,467.9 1261.7,466.6 1262.5,466.5 1263.3,467 1264,467.1 1264.8,467.2 1265.6,467.5 1266.4,466.5 1267.2,466.9 1268,467 1268.8,467 1269.6,466.7 1270.3,466.9 1271.1,466.8 1271.9,467.6 1272.7,466.8 1273.5,466 1274.3,467.2 1275.1,467 1275.8,466.4 1276.6,466.3 1277.4,466.4 1278.2,467.4 1279,466.4 1279.8,467.1 1280.6,466.8 1281.4,466.2 1282.1,466.5 1282.9,465.9 1283.7,464.8 1284.5,465.8 1285.3,465.8 1286.1,466.6 1286.9,466.4 1287.7,466.6 1288.4,466.3 1289.2,466.6 1290,466.4 1290.8,466.2 1291.6,466.6 1292.4,466.8 1293.2,466.8 1294,466 1294.7,466.2 1295.5,465.8 1296.3,465.9 1297.1,466.6 1297.9,466.2 1298.7,467.2 1299.5,465.6 1300.2,466.1 1301,466.9 1301.8,467.4 1302.6,466.8 1303.4,467.9 1304.2,467.5 1305,466.9 1305.8,467.4 1306.5,467.7 1307.3,467.2 1308.1,468.2 1308.9,467.7 1309.7,468.2 1310.5,468.5 1311.3,468.1 1312.1,468.9 1312.8,467.7 1313.6,469 1314.4,467.9 1315.2,469.5 1316,468.9 1316.8,469.9 1317.6,470.1 1318.4,469.6 1319.1,469.5 1319.9,470.7 1320.7,469.9 1321.5,471.1" stroke="#5bbba6" stroke-width="3"/>
<path d="M809.9 433h0M810.7 430.6h0M811.5 426h0M812.3 424h0M813 418.7h0M813.8 414.7h0M814.6 410.1h0M815.4 404.5h0M816.2 396h0M817 387.6h0M817.8 381h0M818.6 374h0M819.3 366.8h0M820.1 359.9h0M820.9 349.4h0M821.7 338.7h0M822.5 328.1h0M823.3 320.4h0M824.1 310.9h0M824.9 304.5h0M825.6 297.3h0M826.4 288.1h0M827.2 279.9h0M828 270.7h0M828.8 263.4h0M829.6 254.9h0M830.4 245.6h0M831.2 234.8h0M831.9 224.7h0M832.7 211.4h0M833.5 199.7h0M834.3 193.8h0M835.1 189h0M835.9 185.3h0M836.7 182.9h0M837.4 180.2h0M838.2 180.2h0M839 178h0M839.8 177.3h0M840.6 177.4h0M841.4 178.1h0M842.2 180.8h0M843 185h0M843.7 189.7h0M844.5 194.8h0M845.3 200.1h0M846.1 207h0M846.9 213.2h0M847.7 220.8h0M848.5 226.4h0M849.3 233.7h0M850 241.2h0M850.8 247.9h0M851.6 255.7h0M852.4 265.1h0M853.2 271.8h0M854 280.5h0M854.8 287.5h0M855.6 295.1h0M856.3 304.9h0M857.1 313.3h0M857.9 322.4h0M858.7 331.1h0M859.5 340.1h0M860.3 349h0M861.1 359.2h0M861.8 367.2h0M862.6 377.6h0M863.4 386.6h0M864.2 395.8h0M865 405.6h0M865.8 415.7h0M866.6 424.5h0M867.4 432.8h0M868.1 440.4h0M868.9 447.3h0M869.7 455.5h0M870.5 461.6h0M871.3 468.3h0M872.1 475.1h0M872.9 482h0M873.7 488.5h0M874.4 496.1h0M875.2 503.2h0M876 510.5h0M876.8 517.1h0M877.6 525.9h0M878.4 531.3h0M879.2 538.7h0M879.9 545.4h0M880.7 552.4h0M881.5 559.5h0M882.3 565.6h0M883.1 572.7h0M883.9 579.3h0M884.7 587.3h0M885.5 592.9h0M886.2 599.9h0M887 606.4h0M887.8 612.8h0M888.6 618.7h0M889.4 624.4h0M890.2 629.2h0M891 633.7h0M891.8 638.3h0M892.5 643.2h0M893.3 646.8h0M894.1 651h0M894.9 654.2h0M895.7 657h0M896.5 661h0M897.3 664.9h0M898.1 668.9h0M898.8 672h0M899.6 674.9h0M900.4 676.3h0M901.2 679h0M902 680.2h0M902.8 682h0M903.6 682.9h0M904.3 683.5h0M905.1 685.6h0M905.9 686.4h0M906.7 687.6h0M907.5 687.7h0M908.3 689.5h0M909.1 690.5h0M909.9 691.5h0M910.6 692.5h0M911.4 692.6h0M912.2 692.4h0M913 694.7h0M913.8 694.2h0M914.6 694.7h0M915.4 695.3h0M916.2 694.8h0M916.9 694.7h0M917.7 694.7h0M918.5 693.3h0M919.3 694.9h0M920.1 693.6h0M920.9 693.3h0M921.7 693.2h0M922.5 692.2h0M923.2 691.1h0M924 690.5h0M924.8 689.4h0M925.6 688.4h0M926.4 688.8h0M927.2 686.3h0M928 685.1h0M928.7 684.8h0M929.5 683.9h0M930.3 684.1h0M931.1 682.8h0M931.9 682.4h0M932.7 681.8h0M933.5 680.5h0M934.3 680.8h0M935 680h0M935.8 680.3h0M936.6 679h0M937.4 678.4h0M938.2 678.3h0M939 677.9h0M939.8 676.4h0M940.6 677.5h0M941.3 677.1h0M942.1 676.7h0M942.9 675.6h0M943.7 675h0M944.5 675.6h0M945.3 676h0M946.1 675.7h0M946.9 674.9h0M947.6 675.7h0M948.4 674.4h0M949.2 674.3h0M950 674.8h0M950.8 674.5h0M951.6 674.3h0M952.4 673.8h0M953.1 674.9h0M953.9 673.8h0M954.7 674.5h0M955.5 674.6h0M956.3 674.1h0M957.1 674.2h0M957.9 674.5h0M958.7 674.8h0M959.4 674.4h0M960.2 673.3h0M961 673.1h0M961.8 673.7h0M962.6 673.5h0M963.4 674.3h0M964.2 674.2h0M965 674.1h0M965.7 674.8h0M966.5 674.9h0M967.3 674.5h0M968.1 674.8h0M968.9 675.3h0M969.7 674.8h0M970.5 675.2h0M971.3 674.8h0M972 675.4h0M972.8 675.7h0M973.6 675.7h0M974.4 676h0M975.2 676.4h0M976 676.4h0M976.8 676h0M977.5 676.2h0M978.3 676h0M979.1 677.5h0M979.9 676.9h0M980.7 677h0M981.5 676.8h0M982.3 677.2h0M983.1 677.2h0M983.8 676.7h0M984.6 677h0M985.4 677.7h0M986.2 676.6h0M987 676.8h0M987.8 677.5h0M988.6 676.9h0M989.4 677.7h0M990.1 676.8h0M990.9 677.5h0M991.7 677.8h0M992.5 677.6h0M993.3 677.8h0M994.1 677.4h0M994.9 677.5h0M995.7 677.6h0M996.4 677.9h0M997.2 679.3h0M998 677.7h0M998.8 678.6h0M999.6 677.7h0M1000.4 677.3h0M1001.2 677.8h0M1001.9 678.2h0M1002.7 678.2h0M1003.5 678.3h0M1004.3 678.6h0M1005.1 678.8h0M1005.9 679.1h0M1006.7 678.4h0M1007.5 679.1h0M1008.2 678.9h0M1009 679.6h0M1009.8 679.7h0M1010.6 680.1h0M1011.4 680h0M1012.2 680h0M1013 680.5h0M1013.8 681.2h0M1014.5 681.4h0M1015.3 680.5h0M1016.1 681.6h0M1016.9 681.7h0M1017.7 681h0M1018.5 681.3h0M1019.3 681.7h0M1020 682.2h0M1020.8 681h0M1021.6 681.9h0M1022.4 681.8h0M1023.2 682.1h0M1024 682.6h0M1024.8 682.4h0M1025.6 681.4h0M1026.3 681.3h0M1027.1 681.3h0M1027.9 681.5h0M1028.7 681.4h0M1029.5 680.6h0M1030.3 680.9h0M1031.1 679.5h0M1031.9 679h0M1032.6 677.9h0M1033.4 678.5h0M1034.2 678.9h0M1035 678.7h0M1035.8 679.5h0M1036.6 677.8h0M1037.4 677.3h0M1038.2 676.3h0M1038.9 676h0M1039.7 675.5h0M1040.5 675.1h0M1041.3 674.4h0M1042.1 673.4h0M1042.9 673.9h0M1043.7 673h0M1044.4 672.8h0M1045.2 670.8h0M1046 670.2h0M1046.8 669.8h0M1047.6 670h0M1048.4 668.6h0M1049.2 668.1h0M1050 667.3h0M1050.7 666.7h0M1051.5 665.7h0M1052.3 665.4h0M1053.1 664.1h0M1053.9 663.6h0M1054.7 663.2h0M1055.5 662.3h0M1056.3 661.7h0M1057 660.4h0M1057.8 660.1h0M1058.6 659h0M1059.4 658.5h0M1060.2 658.2h0M1061 656.3h0M1061.8 656.3h0M1062.6 654.7h0M1063.3 653.9h0M1064.1 654h0M1064.9 652.8h0M1065.7 651.7h0M1066.5 650.9h0M1067.3 650.2h0M1068.1 648.4h0M1068.8 647.9h0M1069.6 646.7h0M1070.4 646.1h0M1071.2 644.8h0M1072 644.3h0M1072.8 643h0M1073.6 641.7h0M1074.4 640.9h0M1075.1 640.1h0M1075.9 639.4h0M1076.7 637.7h0M1077.5 636.6h0M1078.3 635.7h0M1079.1 634.9h0M1079.9 633.1h0M1080.7 631.1h0M1081.4 631.2h0M1082.2 629.8h0M1083 628.6h0M1083.8 628.8h0M1084.6 626.3h0M1085.4 625.5h0M1086.2 623.3h0M1087 622.8h0M1087.7 621.8h0M1088.5 620.3h0M1089.3 618.9h0M1090.1 617.9h0M1090.9 616.4h0M1091.7 615.7h0M1092.5 613.9h0M1093.2 612.1h0M1094 610.2h0M1094.8 609.4h0M1095.6 608.2h0M1096.4 606.3h0M1097.2 604.9h0M1098 603.2h0M1098.8 602h0M1099.5 601h0M1100.3 599.4h0M1101.1 597.9h0M1101.9 596.3h0M1102.7 594.8h0M1103.5 593.8h0M1104.3 592.8h0M1105.1 590.7h0M1105.8 589.8h0M1106.6 587.3h0M1107.4 585.8h0M1108.2 585h0M1109 582.4h0M1109.8 580.8h0M1110.6 579.6h0M1111.4 577.4h0M1112.1 575.7h0M1112.9 575.6h0M1113.7 572.9h0M1114.5 571.6h0M1115.3 570.1h0M1116.1 568.2h0M1116.9 567.4h0M1117.6 565.8h0M1118.4 564.4h0M1119.2 562.8h0M1120 560.9h0M1120.8 560.1h0M1121.6 558.4h0M1122.4 556.2h0M1123.2 555h0M1123.9 553.4h0M1124.7 553.1h0M1125.5 551.2h0M1126.3 549.7h0M1127.1 548h0M1127.9 546.9h0M1128.7 544.9h0M1129.5 544h0M1130.2 542.6h0M1131 541.3h0M1131.8 539.7h0M1132.6 539h0M1133.4 537h0M1134.2 536h0M1135 534.9h0M1135.7 533.7h0M1136.5 532.3h0M1137.3 530.9h0M1138.1 529.7h0M1138.9 528.8h0M1139.7 527.5h0M1140.5 526.7h0M1141.3 525h0M1142 524.5h0M1142.8 524.4h0M1143.6 521.7h0M1144.4 521.2h0M1145.2 520.8h0M1146 519.3h0M1146.8 518.5h0M1147.6 516.1h0M1148.3 515.9h0M1149.1 515.8h0M1149.9 513.8h0M1150.7 513.3h0M1151.5 511.2h0M1152.3 511.6h0M1153.1 511.2h0M1153.9 509.1h0M1154.6 508.4h0M1155.4 507.4h0M1156.2 507.3h0M1157 505.1h0M1157.8 503.6h0M1158.6 504.3h0M1159.4 502h0M1160.1 501.9h0M1160.9 499.6h0M1161.7 499.6h0M1162.5 499h0M1163.3 497.6h0M1164.1 497h0M1164.9 496.8h0M1165.7 495.4h0M1166.4 495.2h0M1167.2 495h0M1168 492.5h0M1168.8 492.9h0M1169.6 492.3h0M1170.4 491.2h0M1171.2 491.3h0M1172 490.6h0M1172.7 489.5h0M1173.5 488.8h0M1174.3 487.9h0M1175.1 486.8h0M1175.9 486.9h0M1176.7 485.9h0M1177.5 485.3h0M1178.3 485.5h0M1179 484.4h0M1179.8 484.5h0M1180.6 483.1h0M1181.4 483h0M1182.2 482.8h0M1183 483h0M1183.8 482h0M1184.5 482.1h0M1185.3 481h0M1186.1 481.1h0M1186.9 481.1h0M1187.7 480h0M1188.5 479.8h0M1189.3 480.1h0M1190.1 479h0M1190.8 479.4h0M1191.6 479.1h0M1192.4 478.7h0M1193.2 478.8h0M1194 478.4h0M1194.8 478h0M1195.6 476.9h0M1196.4 476.7h0M1197.1 477.2h0M1197.9 476h0M1198.7 476.5h0M1199.5 476.1h0M1200.3 475.6h0M1201.1 475.6h0M1201.9 474.3h0M1202.7 475.1h0M1203.4 475.5h0M1204.2 474.1h0M1205 474.6h0M1205.8 474.3h0M1206.6 475.3h0M1207.4 473.2h0M1208.2 473.1h0M1208.9 472.9h0M1209.7 472.6h0M1210.5 472h0M1211.3 472.5h0M1212.1 471.8h0M1212.9 472.3h0M1213.7 471.9h0M1214.5 471h0M1215.2 471h0M1216 471.5h0M1216.8 470.4h0M1217.6 470.4h0M1218.4 470.4h0M1219.2 469.6h0M1220 469.7h0M1220.8 470h0M1221.5 469.5h0M1222.3 467.9h0M1223.1 469.2h0M1223.9 468.2h0M1224.7 467.8h0M1225.5 467.6h0M1226.3 468.3h0M1227.1 467.8h0M1227.8 467.4h0M1228.6 467h0M1229.4 467.6h0M1230.2 467.8h0M1231 466.8h0M1231.8 466.7h0M1232.6 467.1h0M1233.3 467.5h0M1234.1 467h0M1234.9 467.2h0M1235.7 466.8h0M1236.5 467.8h0M1237.3 467.2h0M1238.1 467.3h0M1238.9 467.7h0M1239.6 467.1h0M1240.4 467.2h0M1241.2 467.4h0M1242 467h0M1242.8 467.9h0M1243.6 467.3h0M1244.4 467h0M1245.2 467.1h0M1245.9 466.7h0M1246.7 467.8h0M1247.5 467.9h0M1248.3 467.1h0M1249.1 467h0M1249.9 466.2h0M1250.7 466.9h0M1251.5 467.6h0M1252.2 466.9h0M1253 467.6h0M1253.8 467.9h0M1254.6 466h0M1255.4 467.1h0M1256.2 466.9h0M1257 467h0M1257.7 466.4h0M1258.5 467.1h0M1259.3 466.7h0M1260.1 467.7h0M1260.9 467.9h0M1261.7 466.6h0M1262.5 466.5h0M1263.3 467h0M1264 467.1h0M1264.8 467.2h0M1265.6 467.5h0M1266.4 466.5h0M1267.2 466.9h0M1268 467h0M1268.8 467h0M1269.6 466.7h0M1270.3 466.9h0M1271.1 466.8h0M1271.9 467.6h0M1272.7 466.8h0M1273.5 466h0M1274.3 467.2h0M1275.1 467h0M1275.8 466.4h0M1276.6 466.3h0M1277.4 466.4h0M1278.2 467.4h0M1279 466.4h0M1279.8 467.1h0M1280.6 466.8h0M1281.4 466.2h0M1282.1 466.5h0M1282.9 465.9h0M1283.7 464.8h0M1284.5 465.8h0M1285.3 465.8h0M1286.1 466.6h0M1286.9 466.4h0M1287.7 466.6h0M1288.4 466.3h0M1289.2 466.6h0M1290 466.4h0M1290.8 466.2h0M1291.6 466.6h0M1292.4 466.8h0M1293.2 466.8h0M1294 466h0M1294.7 466.2h0M1295.5 465.8h0M1296.3 465.9h0M1297.1 466.6h0M1297.9 466.2h0M1298.7 467.2h0M1299.5 465.6h0M1300.2 466.1h0M1301 466.9h0M1301.8 467.4h0M1302.6 466.8h0M1303.4 467.9h0M1304.2 467.5h0M1305 466.9h0M1305.8 467.4h0M1306.5 467.7h0M1307.3 467.2h0M1308.1 468.2h0M1308.9 467.7h0M1309.7 468.2h0M1310.5 468.5h0M1311.3 468.1h0M1312.1 468.9h0M1312.8 467.7h0M1313.6 469h0M1314.4 467.9h0M1315.2 469.5h0M1316 468.9h0M1316.8 469.9h0M1317.6 470.1h0M1318.4 469.6h0M1319.1 469.5h0M1319.9 470.7h0M1320.7 469.9h0M1321.5 471.1h0" stroke="#5bbba6" stroke-width="10.4"/>
<polyline points="809.9,451.2 810.7,474.5 811.5,483.7 812.3,479.3 813,459.2 813.8,457.7 814.6,440.2 815.4,448 816.2,435.7 817,437.9 817.8,434.3 818.6,453.8 819.3,453.7 820.1,472.8 820.9,462.3 821.7,472.3 822.5,471.7 823.3,474.7 824.1,471 824.9,498 825.6,482.2 826.4,501 827.2,481.1 828,500.5 828.8,480.1 829.6,474.8 830.4,441.1 831.2,459.2 831.9,445.4 832.7,455.7 833.5,475.5 834.3,470.2 835.1,465.7 835.9,474.9 836.7,468.1 837.4,482.3 838.2,484.7 839,494.2 839.8,493.3 840.6,484.3 841.4,498.4 842.2,499.8 843,502.5 843.7,496.8 844.5,471.8 845.3,488.1 846.1,479.4 846.9,466.7 847.7,464.2 848.5,441.4 849.3,470.4 850,445.2 850.8,439.6 851.6,453.3 852.4,452.1 853.2,450.5 854,448.4 854.8,476 855.6,490.6 856.3,477.2 857.1,478 857.9,497.7 858.7,512.8 859.5,479.7 860.3,485.7 861.1,469.5 861.8,473 862.6,471.4 863.4,466.8 864.2,449.7 865,451.2 865.8,481.1 866.6,472.4 867.4,453.1 868.1,472.3 868.9,481.5 869.7,472.5 870.5,475.8 871.3,478.4 872.1,481.1 872.9,484.1 873.7,489.2 874.4,494.5 875.2,499.5 876,504.6 876.8,511.1 877.6,517 878.4,521.7 879.2,526.8 879.9,531.7 880.7,536.6 881.5,542.4 882.3,548.1 883.1,553 883.9,558.7 884.7,563.1 885.5,567.9 886.2,570.7 887,575.7 887.8,580.4 888.6,584.4 889.4,588 890.2,592.3 891,595.6 891.8,599.2 892.5,601.9 893.3,606 894.1,609.6 894.9,613.4 895.7,616.9 896.5,620.1 897.3,624 898.1,627 898.8,631.3 899.6,633.8 900.4,636.9 901.2,639.5 902,642.9 902.8,644.8 903.6,646.1 904.3,647.8 905.1,650.3 905.9,651.8 906.7,654 907.5,655.5 908.3,657 909.1,657.4 909.9,658.9 910.6,660.3 911.4,661.3 912.2,661.9 913,662.9 913.8,664.3 914.6,663.8 915.4,665.2 916.2,665.9 916.9,665.7 917.7,666.4 918.5,667.3 919.3,667.4 920.1,668.5 920.9,668.7 921.7,669.8 922.5,668.6 923.2,670.4 924,669.6 924.8,670.6 925.6,671 926.4,671 927.2,671 928,671.1 928.7,670.7 929.5,671.5 930.3,671.3 931.1,671.9 931.9,671.1 932.7,671.1 933.5,671 934.3,670.4 935,669.9 935.8,669.2 936.6,668.5 937.4,668.3 938.2,667.7 939,666.3 939.8,666.7 940.6,665.5 941.3,663.7 942.1,665 942.9,663.4 943.7,662.1 944.5,662.6 945.3,660.1 946.1,661.9 946.9,659.4 947.6,658.7 948.4,658.3 949.2,658.2 950,657.3 950.8,657.2 951.6,655.7 952.4,656 953.1,654.9 953.9,653.7 954.7,654 955.5,653.1 956.3,652.3 957.1,652.4 957.9,650.8 958.7,650.7 959.4,651.1 960.2,650.1 961,650.1 961.8,649.7 962.6,649.1 963.4,649.2 964.2,648.1 965,648.6 965.7,647.5 966.5,647.7 967.3,647.1 968.1,647.5 968.9,647.2 969.7,647.3 970.5,646.3 971.3,645.9 972,645.2 972.8,645.4 973.6,645.8 974.4,645.9 975.2,645.6 976,645.7 976.8,645 977.5,645.3 978.3,646.2 979.1,646.3 979.9,645.6 980.7,646.4 981.5,646.9 982.3,646.6 983.1,647.7 983.8,648.1 984.6,648.6 985.4,649.7 986.2,648.8 987,650.2 987.8,650.3 988.6,650.8 989.4,650.5 990.1,651.3 990.9,651.5 991.7,652.6 992.5,652.2 993.3,653.1 994.1,652.6 994.9,652.9 995.7,653.4 996.4,652.7 997.2,653.8 998,654.1 998.8,654.6 999.6,655.1 1000.4,654.8 1001.2,655.1 1001.9,656.5 1002.7,655.6 1003.5,656.2 1004.3,656.2 1005.1,656.7 1005.9,657.6 1006.7,657.8 1007.5,656.6 1008.2,657.4 1009,658.3 1009.8,657.6 1010.6,658 1011.4,658.7 1012.2,658.9 1013,658.5 1013.8,657.6 1014.5,657.6 1015.3,657.6 1016.1,657.2 1016.9,656.9 1017.7,657.9 1018.5,656.9 1019.3,656.9 1020,656.8 1020.8,656.3 1021.6,655.8 1022.4,655.6 1023.2,655.9 1024,655.1 1024.8,653.7 1025.6,654.8 1026.3,654.8 1027.1,653.6 1027.9,653.2 1028.7,652.9 1029.5,653.3 1030.3,652 1031.1,652.4 1031.9,652.2 1032.6,651.5 1033.4,650.9 1034.2,650 1035,649.6 1035.8,649.4 1036.6,648.5 1037.4,648.3 1038.2,647.4 1038.9,648 1039.7,647.5 1040.5,645.8 1041.3,646.3 1042.1,645.2 1042.9,644.5 1043.7,644.1 1044.4,643.4 1045.2,642 1046,643.2 1046.8,641 1047.6,639.7 1048.4,640.1 1049.2,639.5 1050,638.5 1050.7,637.4 1051.5,638.2 1052.3,636.9 1053.1,636.4 1053.9,635.4 1054.7,634.9 1055.5,634 1056.3,633.8 1057,632.9 1057.8,632.5 1058.6,631.8 1059.4,630.8 1060.2,630 1061,629.8 1061.8,627.7 1062.6,627.7 1063.3,627.5 1064.1,625.5 1064.9,625.6 1065.7,624.2 1066.5,623.6 1067.3,622.6 1068.1,621.8 1068.8,621.2 1069.6,620.1 1070.4,618.3 1071.2,619.3 1072,617.4 1072.8,616.3 1073.6,616 1074.4,615.1 1075.1,612.5 1075.9,612.6 1076.7,610.4 1077.5,610 1078.3,609.1 1079.1,607.8 1079.9,606.6 1080.7,605.2 1081.4,604.4 1082.2,603.4 1083,602.2 1083.8,600.5 1084.6,599.6 1085.4,599.3 1086.2,598 1087,596.4 1087.7,595.7 1088.5,594.5 1089.3,593.6 1090.1,592.1 1090.9,590.6 1091.7,589.1 1092.5,588.4 1093.2,586.2 1094,586 1094.8,583.3 1095.6,583.2 1096.4,582.3 1097.2,581.7 1098,581.8 1098.8,579.5 1099.5,578.5 1100.3,576.8 1101.1,577.6 1101.9,575.3 1102.7,575.7 1103.5,574.6 1104.3,575.5 1105.1,573.7 1105.8,573.2 1106.6,572.1 1107.4,571.7 1108.2,571.4 1109,569.6 1109.8,568.7 1110.6,567.6 1111.4,566.2 1112.1,564.8 1112.9,563.9 1113.7,563 1114.5,561.5 1115.3,558.6 1116.1,557.3 1116.9,555.9 1117.6,554.5 1118.4,552.6 1119.2,551 1120,549.5 1120.8,548.1 1121.6,545.3 1122.4,544.7 1123.2,543.7 1123.9,542.8 1124.7,541.2 1125.5,539.2 1126.3,538 1127.1,537.1 1127.9,535.8 1128.7,534.7 1129.5,533.9 1130.2,531.6 1131,530.8 1131.8,528.7 1132.6,529 1133.4,527.6 1134.2,526 1135,525.4 1135.7,524.8 1136.5,523.5 1137.3,522 1138.1,520.8 1138.9,520 1139.7,518.5 1140.5,517.4 1141.3,516.7 1142,515.9 1142.8,515 1143.6,513.6 1144.4,512.5 1145.2,511.9 1146,510.8 1146.8,510.2 1147.6,509.8 1148.3,508.8 1149.1,507.1 1149.9,506.4 1150.7,505 1151.5,504.9 1152.3,503.8 1153.1,502.8 1153.9,502.2 1154.6,502.2 1155.4,501.3 1156.2,500.4 1157,500.3 1157.8,498.9 1158.6,498 1159.4,498 1160.1,496.2 1160.9,496.6 1161.7,496 1162.5,495.4 1163.3,495 1164.1,494 1164.9,493.6 1165.7,492.4 1166.4,492.4 1167.2,491.9 1168,491.8 1168.8,491.9 1169.6,490.9 1170.4,490.9 1171.2,489.6 1172,489.7 1172.7,488.6 1173.5,488.6 1174.3,488.2 1175.1,488.1 1175.9,487.8 1176.7,487.3 1177.5,486.8 1178.3,487.2 1179,486.3 1179.8,485 1180.6,485.9 1181.4,485.7 1182.2,485.5 1183,485.5 1183.8,484 1184.5,484.2 1185.3,483.8 1186.1,482.8 1186.9,482.1 1187.7,483.4 1188.5,482.2 1189.3,482.1 1190.1,481.9 1190.8,481.6 1191.6,481.5 1192.4,480.4 1193.2,480.6 1194,480.4 1194.8,479.7 1195.6,479.5 1196.4,479.4 1197.1,479.1 1197.9,478.1 1198.7,478.4 1199.5,478.3 1200.3,478.3 1201.1,477.8 1201.9,477.7 1202.7,476.9 1203.4,476.5 1204.2,477.2 1205,475.9 1205.8,475.3 1206.6,475.2 1207.4,475.4 1208.2,474.1 1208.9,474.7 1209.7,474.7 1210.5,474.4 1211.3,473.6 1212.1,472.9 1212.9,472.6 1213.7,472.7 1214.5,473.1 1215.2,472.6 1216,472.5 1216.8,471.9 1217.6,472.4 1218.4,471.2 1219.2,470.7 1220,470.9 1220.8,470.4 1221.5,470.8 1222.3,470.8 1223.1,470.2 1223.9,469.2 1224.7,469 1225.5,469.5 1226.3,468.6 1227.1,469.2 1227.8,468.2 1228.6,468.5 1229.4,468.8 1230.2,468.1 1231,468.8 1231.8,468.8 1232.6,469 1233.3,468.1 1234.1,468.2 1234.9,468.1 1235.7,468.3 1236.5,467.4 1237.3,468.2 1238.1,468.3 1238.9,467.3 1239.6,467.2 1240.4,467.7 1241.2,468.6 1242,468 1242.8,467.4 1243.6,467.7 1244.4,466.9 1245.2,468.3 1245.9,467.3 1246.7,467.8 1247.5,466.9 1248.3,467.5 1249.1,467 1249.9,467.7 1250.7,468 1251.5,467.8 1252.2,467.6 1253,467.7 1253.8,466.6 1254.6,466.5 1255.4,466.9 1256.2,467.5 1257,467 1257.7,467.2 1258.5,466.1 1259.3,466.6 1260.1,466.4 1260.9,466.8 1261.7,467.4 1262.5,466.8 1263.3,466.9 1264,466.1 1264.8,466.2 1265.6,466.6 1266.4,466.3 1267.2,465.3 1268,466.5 1268.8,466.4 1269.6,466 1270.3,466.2 1271.1,466 1271.9,465.6 1272.7,465 1273.5,466.5 1274.3,465.7 1275.1,465.6 1275.8,465.6 1276.6,465.6 1277.4,465.7 1278.2,465 1279,465.7 1279.8,465.5 1280.6,465.4 1281.4,465.3 1282.1,465.4 1282.9,464.8 1283.7,465.2 1284.5,465.1 1285.3,465.2 1286.1,465.6 1286.9,465.4 1287.7,465.5 1288.4,464.9 1289.2,465.2 1290,465.4 1290.8,464.7 1291.6,464.5 1292.4,465.5 1293.2,463.9 1294,464.6 1294.7,464.6 1295.5,464.1 1296.3,464.5 1297.1,464.7 1297.9,463.4 1298.7,464.9 1299.5,464.4 1300.2,463.9 1301,464.7 1301.8,464.2 1302.6,464 1303.4,463 1304.2,464.5 1305,464 1305.8,463.6 1306.5,463.8 1307.3,464.4 1308.1,463.6 1308.9,463.6 1309.7,463.4 1310.5,463 1311.3,463 1312.1,463.2 1312.8,463.1 1313.6,463.7 1314.4,463.2 1315.2,462.9 1316,463.1 1316.8,462.7 1317.6,463 1318.4,461.8 1319.1,461.3 1319.9,462.2 1320.7,461.6 1321.5,461.6" stroke="#e9708e" stroke-width="3"/>
<path d="M809.9 451.2h0M810.7 474.5h0M811.5 483.7h0M812.3 479.3h0M813 459.2h0M813.8 457.7h0M814.6 440.2h0M815.4 448h0M816.2 435.7h0M817 437.9h0M817.8 434.3h0M818.6 453.8h0M819.3 453.7h0M820.1 472.8h0M820.9 462.3h0M821.7 472.3h0M822.5 471.7h0M823.3 474.7h0M824.1 471h0M824.9 498h0M825.6 482.2h0M826.4 501h0M827.2 481.1h0M828 500.5h0M828.8 480.1h0M829.6 474.8h0M830.4 441.1h0M831.2 459.2h0M831.9 445.4h0M832.7 455.7h0M833.5 475.5h0M834.3 470.2h0M835.1 465.7h0M835.9 474.9h0M836.7 468.1h0M837.4 482.3h0M838.2 484.7h0M839 494.2h0M839.8 493.3h0M840.6 484.3h0M841.4 498.4h0M842.2 499.8h0M843 502.5h0M843.7 496.8h0M844.5 471.8h0M845.3 488.1h0M846.1 479.4h0M846.9 466.7h0M847.7 464.2h0M848.5 441.4h0M849.3 470.4h0M850 445.2h0M850.8 439.6h0M851.6 453.3h0M852.4 452.1h0M853.2 450.5h0M854 448.4h0M854.8 476h0M855.6 490.6h0M856.3 477.2h0M857.1 478h0M857.9 497.7h0M858.7 512.8h0M859.5 479.7h0M860.3 485.7h0M861.1 469.5h0M861.8 473h0M862.6 471.4h0M863.4 466.8h0M864.2 449.7h0M865 451.2h0M865.8 481.1h0M866.6 472.4h0M867.4 453.1h0M868.1 472.3h0M868.9 481.5h0M869.7 472.5h0M870.5 475.8h0M871.3 478.4h0M872.1 481.1h0M872.9 484.1h0M873.7 489.2h0M874.4 494.5h0M875.2 499.5h0M876 504.6h0M876.8 511.1h0M877.6 517h0M878.4 521.7h0M879.2 526.8h0M879.9 531.7h0M880.7 536.6h0M881.5 542.4h0M882.3 548.1h0M883.1 553h0M883.9 558.7h0M884.7 563.1h0M885.5 567.9h0M886.2 570.7h0M887 575.7h0M887.8 580.4h0M888.6 584.4h0M889.4 588h0M890.2 592.3h0M891 595.6h0M891.8 599.2h0M892.5 601.9h0M893.3 606h0M894.1 609.6h0M894.9 613.4h0M895.7 616.9h0M896.5 620.1h0M897.3 624h0M898.1 627h0M898.8 631.3h0M899.6 633.8h0M900.4 636.9h0M901.2 639.5h0M902 642.9h0M902.8 644.8h0M903.6 646.1h0M904.3 647.8h0M905.1 650.3h0M905.9 651.8h0M906.7 654h0M907.5 655.5h0M908.3 657h0M909.1 657.4h0M909.9 658.9h0M910.6 660.3h0M911.4 661.3h0M912.2 661.9h0M913 662.9h0M913.8 664.3h0M914.6 663.8h0M915.4 665.2h0M916.2 665.9h0M916.9 665.7h0M917.7 666.4h0M918.5 667.3h0M919.3 667.4h0M920.1 668.5h0M920.9 668.7h0M921.7 669.8h0M922.5 668.6h0M923.2 670.4h0M924 669.6h0M924.8 670.6h0M925.6 671h0M926.4 671h0M927.2 671h0M928 671.1h0M928.7 670.7h0M929.5 671.5h0M930.3 671.3h0M931.1 671.9h0M931.9 671.1h0M932.7 671.1h0M933.5 671h0M934.3 670.4h0M935 669.9h0M935.8 669.2h0M936.6 668.5h0M937.4 668.3h0M938.2 667.7h0M939 666.3h0M939.8 666.7h0M940.6 665.5h0M941.3 663.7h0M942.1 665h0M942.9 663.4h0M943.7 662.1h0M944.5 662.6h0M945.3 660.1h0M946.1 661.9h0M946.9 659.4h0M947.6 658.7h0M948.4 658.3h0M949.2 658.2h0M950 657.3h0M950.8 657.2h0M951.6 655.7h0M952.4 656h0M953.1 654.9h0M953.9 653.7h0M954.7 654h0M955.5 653.1h0M956.3 652.3h0M957.1 652.4h0M957.9 650.8h0M958.7 650.7h0M959.4 651.1h0M960.2 650.1h0M961 650.1h0M961.8 649.7h0M962.6 649.1h0M963.4 649.2h0M964.2 648.1h0M965 648.6h0M965.7 647.5h0M966.5 647.7h0M967.3 647.1h0M968.1 647.5h0M968.9 647.2h0M969.7 647.3h0M970.5 646.3h0M971.3 645.9h0M972 645.2h0M972.8 645.4h0M973.6 645.8h0M974.4 645.9h0M975.2 645.6h0M976 645.7h0M976.8 645h0M977.5 645.3h0M978.3 646.2h0M979.1 646.3h0M979.9 645.6h0M980.7 646.4h0M981.5 646.9h0M982.3 646.6h0M983.1 647.7h0M983.8 648.1h0M984.6 648.6h0M985.4 649.7h0M986.2 648.8h0M987 650.2h0M987.8 650.3h0M988.6 650.8h0M989.4 650.5h0M990.1 651.3h0M990.9 651.5h0M991.7 652.6h0M992.5 652.2h0M993.3 653.1h0M994.1 652.6h0M994.9 652.9h0M995.7 653.4h0M996.4 652.7h0M997.2 653.8h0M998 654.1h0M998.8 654.6h0M999.6 655.1h0M1000.4 654.8h0M1001.2 655.1h0M1001.9 656.5h0M1002.7 655.6h0M1003.5 656.2h0M1004.3 656.2h0M1005.1 656.7h0M1005.9 657.6h0M1006.7 657.8h0M1007.5 656.6h0M1008.2 657.4h0M1009 658.3h0M1009.8 657.6h0M1010.6 658h0M1011.4 658.7h0M1012.2 658.9h0M1013 658.5h0M1013.8 657.6h0M1014.5 657.6h0M1015.3 657.6h0M1016.1 657.2h0M1016.9 656.9h0M1017.7 657.9h0M1018.5 656.9h0M1019.3 656.9h0M1020 656.8h0M1020.8 656.3h0M1021.6 655.8h0M1022.4 655.6h0M1023.2 655.9h0M1024 655.1h0M1024.8 653.7h0M1025.6 654.8h0M1026.3 654.8h0M1027.1 653.6h0M1027.9 653.2h0M1028.7 652.9h0M1029.5 653.3h0M1030.3 652h0M1031.1 652.4h0M1031.9 652.2h0M1032.6 651.5h0M1033.4 650.9h0M1034.2 650h0M1035 649.6h0M1035.8 649.4h0M1036.6 648.5h0M1037.4 648.3h0M1038.2 647.4h0M1038.9 648h0M1039.7 647.5h0M1040.5 645.8h0M1041.3 646.3h0M1042.1 645.2h0M1042.9 644.5h0M1043.7 644.1h0M1044.4 643.4h0M1045.2 642h0M1046 643.2h0M1046.8 641h0M1047.6 639.7h0M1048.4 640.1h0M1049.2 639.5h0M1050 638.5h0M1050.7 637.4h0M1051.5 638.2h0M1052.3 636.9h0M1053.1 636.4h0M1053.9 635.4h0M1054.7 634.9h0M1055.5 634h0M1056.3 633.8h0M1057 632.9h0M1057.8 632.5h0M1058.6 631.8h0M1059.4 630.8h0M1060.2 630h0M1061 629.8h0M1061.8 627.7h0M1062.6 627.7h0M1063.3 627.5h0M1064.1 625.5h0M1064.9 625.6h0M1065.7 624.2h0M1066.5 623.6h0M1067.3 622.6h0M1068.1 621.8h0M1068.8 621.2h0M1069.6 620.1h0M1070.4 618.3h0M1071.2 619.3h0M1072 617.4h0M1072.8 616.3h0M1073.6 616h0M1074.4 615.1h0M1075.1 612.5h0M1075.9 612.6h0M1076.7 610.4h0M1077.5 610h0M1078.3 609.1h0M1079.1 607.8h0M1079.9 606.6h0M1080.7 605.2h0M1081.4 604.4h0M1082.2 603.4h0M1083 602.2h0M1083.8 600.5h0M1084.6 599.6h0M1085.4 599.3h0M1086.2 598h0M1087 596.4h0M1087.7 595.7h0M1088.5 594.5h0M1089.3 593.6h0M1090.1 592.1h0M1090.9 590.6h0M1091.7 589.1h0M1092.5 588.4h0M1093.2 586.2h0M1094 586h0M1094.8 583.3h0M1095.6 583.2h0M1096.4 582.3h0M1097.2 581.7h0M1098 581.8h0M1098.8 579.5h0M1099.5 578.5h0M1100.3 576.8h0M1101.1 577.6h0M1101.9 575.3h0M1102.7 575.7h0M1103.5 574.6h0M1104.3 575.5h0M1105.1 573.7h0M1105.8 573.2h0M1106.6 572.1h0M1107.4 571.7h0M1108.2 571.4h0M1109 569.6h0M1109.8 568.7h0M1110.6 567.6h0M1111.4 566.2h0M1112.1 564.8h0M1112.9 563.9h0M1113.7 563h0M1114.5 561.5h0M1115.3 558.6h0M1116.1 557.3h0M1116.9 555.9h0M1117.6 554.5h0M1118.4 552.6h0M1119.2 551h0M1120 549.5h0M1120.8 548.1h0M1121.6 545.3h0M1122.4 544.7h0M1123.2 543.7h0M1123.9 542.8h0M1124.7 541.2h0M1125.5 539.2h0M1126.3 538h0M1127.1 537.1h0M1127.9 535.8h0M1128.7 534.7h0M1129.5 533.9h0M1130.2 531.6h0M1131 530.8h0M1131.8 528.7h0M1132.6 529h0M1133.4 527.6h0M1134.2 526h0M1135 525.4h0M1135.7 524.8h0M1136.5 523.5h0M1137.3 522h0M1138.1 520.8h0M1138.9 520h0M1139.7 518.5h0M1140.5 517.4h0M1141.3 516.7h0M1142 515.9h0M1142.8 515h0M1143.6 513.6h0M1144.4 512.5h0M1145.2 511.9h0M1146 510.8h0M1146.8 510.2h0M1147.6 509.8h0M1148.3 508.8h0M1149.1 507.1h0M1149.9 506.4h0M1150.7 505h0M1151.5 504.9h0M1152.3 503.8h0M1153.1 502.8h0M1153.9 502.2h0M1154.6 502.2h0M1155.4 501.3h0M1156.2 500.4h0M1157 500.3h0M1157.8 498.9h0M1158.6 498h0M1159.4 498h0M1160.1 496.2h0M1160.9 496.6h0M1161.7 496h0M1162.5 495.4h0M1163.3 495h0M1164.1 494h0M1164.9 493.6h0M1165.7 492.4h0M1166.4 492.4h0M1167.2 491.9h0M1168 491.8h0M1168.8 491.9h0M1169.6 490.9h0M1170.4 490.9h0M1171.2 489.6h0M1172 489.7h0M1172.7 488.6h0M1173.5 488.6h0M1174.3 488.2h0M1175.1 488.1h0M1175.9 487.8h0M1176.7 487.3h0M1177.5 486.8h0M1178.3 487.2h0M1179 486.3h0M1179.8 485h0M1180.6 485.9h0M1181.4 485.7h0M1182.2 485.5h0M1183 485.5h0M1183.8 484h0M1184.5 484.2h0M1185.3 483.8h0M1186.1 482.8h0M1186.9 482.1h0M1187.7 483.4h0M1188.5 482.2h0M1189.3 482.1h0M1190.1 481.9h0M1190.8 481.6h0M1191.6 481.5h0M1192.4 480.4h0M1193.2 480.6h0M1194 480.4h0M1194.8 479.7h0M1195.6 479.5h0M1196.4 479.4h0M1197.1 479.1h0M1197.9 478.1h0M1198.7 478.4h0M1199.5 478.3h0M1200.3 478.3h0M1201.1 477.8h0M1201.9 477.7h0M1202.7 476.9h0M1203.4 476.5h0M1204.2 477.2h0M1205 475.9h0M1205.8 475.3h0M1206.6 475.2h0M1207.4 475.4h0M1208.2 474.1h0M1208.9 474.7h0M1209.7 474.7h0M1210.5 474.4h0M1211.3 473.6h0M1212.1 472.9h0M1212.9 472.6h0M1213.7 472.7h0M1214.5 473.1h0M1215.2 472.6h0M1216 472.5h0M1216.8 471.9h0M1217.6 472.4h0M1218.4 471.2h0M1219.2 470.7h0M1220 470.9h0M1220.8 470.4h0M1221.5 470.8h0M1222.3 470.8h0M1223.1 470.2h0M1223.9 469.2h0M1224.7 469h0M1225.5 469.5h0M1226.3 468.6h0M1227.1 469.2h0M1227.8 468.2h0M1228.6 468.5h0M1229.4 468.8h0M1230.2 468.1h0M1231 468.8h0M1231.8 468.8h0M1232.6 469h0M1233.3 468.1h0M1234.1 468.2h0M1234.9 468.1h0M1235.7 468.3h0M1236.5 467.4h0M1237.3 468.2h0M1238.1 468.3h0M1238.9 467.3h0M1239.6 467.2h0M1240.4 467.7h0M1241.2 468.6h0M1242 468h0M1242.8 467.4h0M1243.6 467.7h0M1244.4 466.9h0M1245.2 468.3h0M1245.9 467.3h0M1246.7 467.8h0M1247.5 466.9h0M1248.3 467.5h0M1249.1 467h0M1249.9 467.7h0M1250.7 468h0M1251.5 467.8h0M1252.2 467.6h0M1253 467.7h0M1253.8 466.6h0M1254.6 466.5h0M1255.4 466.9h0M1256.2 467.5h0M1257 467h0M1257.7 467.2h0M1258.5 466.1h0M1259.3 466.6h0M1260.1 466.4h0M1260.9 466.8h0M1261.7 467.4h0M1262.5 466.8h0M1263.3 466.9h0M1264 466.1h0M1264.8 466.2h0M1265.6 466.6h0M1266.4 466.3h0M1267.2 465.3h0M1268 466.5h0M1268.8 466.4h0M1269.6 466h0M1270.3 466.2h0M1271.1 466h0M1271.9 465.6h0M1272.7 465h0M1273.5 466.5h0M1274.3 465.7h0M1275.1 465.6h0M1275.8 465.6h0M1276.6 465.6h0M1277.4 465.7h0M1278.2 465h0M1279 465.7h0M1279.8 465.5h0M1280.6 465.4h0M1281.4 465.3h0M1282.1 465.4h0M1282.9 464.8h0M1283.7 465.2h0M1284.5 465.1h0M1285.3 465.2h0M1286.1 465.6h0M1286.9 465.4h0M1287.7 465.5h0M1288.4 464.9h0M1289.2 465.2h0M1290 465.4h0M1290.8 464.7h0M1291.6 464.5h0M1292.4 465.5h0M1293.2 463.9h0M1294 464.6h0M1294.7 464.6h0M1295.5 464.1h0M1296.3 464.5h0M1297.1 464.7h0M1297.9 463.4h0M1298.7 464.9h0M1299.5 464.4h0M1300.2 463.9h0M1301 464.7h0M1301.8 464.2h0M1302.6 464h0M1303.4 463h0M1304.2 464.5h0M1305 464h0M1305.8 463.6h0M1306.5 463.8h0M1307.3 464.4h0M1308.1 463.6h0M1308.9 463.6h0M1309.7 463.4h0M1310.5 463h0M1311.3 463h0M1312.1 463.2h0M1312.8 463.1h0M1313.6 463.7h0M1314.4 463.2h0M1315.2 462.9h0M1316 463.1h0M1316.8 462.7h0M1317.6 463h0M1318.4 461.8h0M1319.1 461.3h0M1319.9 462.2h0M1320.7 461.6h0M1321.5 461.6h0" stroke="#e9708e" stroke-width="10.4"/>
<polyline points="809.9,426.8 810.7,417.2 811.5,397.7 812.3,366.4 813,350.1 813.8,338.4 814.6,325.8 815.4,314.8 816.2,306.7 817,302.1 817.8,296.6 818.6,288.7 819.3,280.7 820.1,272.6 820.9,264.9 821.7,256 822.5,247.5 823.3,241.8 824.1,237.2 824.9,232.7 825.6,229.3 826.4,226.2 827.2,223.9 828,221.2 828.8,217.3 829.6,214.2 830.4,211.4 831.2,209.6 831.9,205.7 832.7,203.4 833.5,199.8 834.3,196.8 835.1,195 835.9,192.8 836.7,191.7 837.4,190.4 838.2,191.5 839,192.2 839.8,194.6 840.6,197.1 841.4,201.5 842.2,207.1 843,212.2 843.7,218.5 844.5,223.8 845.3,229.8 846.1,236.5 846.9,242.4 847.7,249 848.5,256.1 849.3,262.6 850,269.5 850.8,277.9 851.6,285.5 852.4,294.2 853.2,301.1 854,309.4 854.8,318.7 855.6,326.3 856.3,335.1 857.1,345 857.9,354.3 858.7,364.4 859.5,373.8 860.3,386.3 861.1,397.6 861.8,407.9 862.6,418.7 863.4,427.1 864.2,435.1 865,442.4 865.8,447.5 866.6,452.2 867.4,457.6 868.1,462 868.9,466.9 869.7,472.2 870.5,478.9 871.3,484.5 872.1,491.1 872.9,497.2 873.7,505.8 874.4,514.5 875.2,523.7 876,531.3 876.8,537.3 877.6,543.3 878.4,549.5 879.2,554.6 879.9,560 880.7,565.9 881.5,572.2 882.3,578.4 883.1,583.2 883.9,588.5 884.7,594.1 885.5,599.4 886.2,604.8 887,609.2 887.8,614.5 888.6,619.2 889.4,624.5 890.2,629 891,633.1 891.8,638 892.5,642.2 893.3,645.7 894.1,648.7 894.9,652.7 895.7,655.6 896.5,659.8 897.3,663.1 898.1,666.9 898.8,669.8 899.6,672.2 900.4,676.1 901.2,679.3 902,682.5 902.8,685.7 903.6,688.3 904.3,690.1 905.1,691.4 905.9,693 906.7,694.2 907.5,695.6 908.3,697.1 909.1,697.9 909.9,699.2 910.6,699.1 911.4,701.4 912.2,701.4 913,701 913.8,703.2 914.6,704.4 915.4,704.8 916.2,705 916.9,706.5 917.7,706.8 918.5,707.6 919.3,708.2 920.1,706.8 920.9,708.2 921.7,708.3 922.5,707.9 923.2,706.9 924,706.2 924.8,705.3 925.6,704.8 926.4,704.7 927.2,702.9 928,702.5 928.7,701.8 929.5,701.8 930.3,700.7 931.1,700.2 931.9,699.2 932.7,699.2 933.5,697.9 934.3,697.2 935,697.2 935.8,696.3 936.6,695.8 937.4,694.3 938.2,695.2 939,693.5 939.8,693.5 940.6,692.2 941.3,690.9 942.1,690.8 942.9,689.5 943.7,689.1 944.5,686.9 945.3,686.5 946.1,685.5 946.9,685.8 947.6,684.9 948.4,683.2 949.2,683.1 950,682.6 950.8,681.9 951.6,682.3 952.4,681 953.1,681 953.9,680.4 954.7,680.7 955.5,679.8 956.3,680.1 957.1,679.1 957.9,678.8 958.7,678.8 959.4,678.8 960.2,678.7 961,680.2 961.8,678.6 962.6,679.1 963.4,679 964.2,679.2 965,679.8 965.7,679.4 966.5,679 967.3,678.7 968.1,679.8 968.9,680 969.7,679 970.5,680.2 971.3,679 972,680.1 972.8,680.7 973.6,679.9 974.4,679.8 975.2,681.4 976,680.2 976.8,681.2 977.5,680.6 978.3,681.6 979.1,682.3 979.9,681.6 980.7,681.6 981.5,681.2 982.3,681.6 983.1,682.4 983.8,683.1 984.6,683.6 985.4,683.9 986.2,684.6 987,684.8 987.8,686.3 988.6,685.6 989.4,686.2 990.1,685.5 990.9,686.8 991.7,687.9 992.5,687.9 993.3,689.2 994.1,689.4 994.9,690.5 995.7,689.4 996.4,690.2 997.2,691.4 998,691.2 998.8,691 999.6,691.4 1000.4,691.7 1001.2,692.4 1001.9,692.4 1002.7,692.2 1003.5,691.9 1004.3,692.8 1005.1,693 1005.9,692.1 1006.7,693.1 1007.5,692.3 1008.2,692.8 1009,692.5 1009.8,692.2 1010.6,692.8 1011.4,692.8 1012.2,693.7 1013,693.6 1013.8,693 1014.5,692.7 1015.3,692.8 1016.1,692.4 1016.9,693.4 1017.7,693.5 1018.5,693.1 1019.3,693.6 1020,693.6 1020.8,694.1 1021.6,693.2 1022.4,694.1 1023.2,693.2 1024,693.9 1024.8,692.5 1025.6,693.2 1026.3,691.9 1027.1,692.6 1027.9,691.6 1028.7,690.3 1029.5,690.7 1030.3,689.7 1031.1,689.4 1031.9,689.6 1032.6,687.8 1033.4,687.1 1034.2,687.2 1035,685.9 1035.8,685.9 1036.6,685.4 1037.4,684.3 1038.2,684 1038.9,681.9 1039.7,683 1040.5,681.2 1041.3,680.3 1042.1,680.9 1042.9,679.9 1043.7,678 1044.4,677.7 1045.2,676.4 1046,675.2 1046.8,675 1047.6,674.4 1048.4,674.3 1049.2,672 1050,671.6 1050.7,670.1 1051.5,669.3 1052.3,669.1 1053.1,666.7 1053.9,666 1054.7,665.2 1055.5,665.1 1056.3,663.8 1057,662.8 1057.8,661.7 1058.6,661 1059.4,659.3 1060.2,658.3 1061,657.2 1061.8,656.5 1062.6,654.6 1063.3,654 1064.1,654.2 1064.9,652.1 1065.7,650.8 1066.5,649.2 1067.3,648.6 1068.1,647.5 1068.8,646.5 1069.6,644.8 1070.4,644.1 1071.2,643.1 1072,642 1072.8,640.2 1073.6,639.6 1074.4,638.9 1075.1,636.7 1075.9,636.1 1076.7,634.4 1077.5,633.2 1078.3,631.5 1079.1,630.4 1079.9,629.8 1080.7,628.4 1081.4,627.6 1082.2,624.9 1083,624.2 1083.8,622.4 1084.6,621.8 1085.4,621.3 1086.2,618.3 1087,617.6 1087.7,616.2 1088.5,614.8 1089.3,613.1 1090.1,611.8 1090.9,611.4 1091.7,608.7 1092.5,608 1093.2,606.6 1094,604.2 1094.8,603.1 1095.6,602.3 1096.4,601.5 1097.2,599.1 1098,597.5 1098.8,596.3 1099.5,595.4 1100.3,593.7 1101.1,592.5 1101.9,590.3 1102.7,588.5 1103.5,587 1104.3,586.3 1105.1,584.3 1105.8,582.7 1106.6,581.7 1107.4,580 1108.2,577.5 1109,576.9 1109.8,575 1110.6,574.1 1111.4,572.4 1112.1,571.6 1112.9,569.3 1113.7,567.1 1114.5,565.2 1115.3,564 1116.1,562.7 1116.9,561.4 1117.6,560.1 1118.4,558.4 1119.2,556.5 1120,555.7 1120.8,553.4 1121.6,552.8 1122.4,551.8 1123.2,550.1 1123.9,549 1124.7,547.5 1125.5,545 1126.3,544.3 1127.1,542.8 1127.9,541.1 1128.7,539.8 1129.5,539.3 1130.2,537.2 1131,536.4 1131.8,535.4 1132.6,534 1133.4,533.6 1134.2,532.1 1135,530.7 1135.7,529.2 1136.5,528.5 1137.3,527.2 1138.1,525.6 1138.9,524.3 1139.7,523.5 1140.5,522.2 1141.3,521.9 1142,520.7 1142.8,519.4 1143.6,518.6 1144.4,517.7 1145.2,515.7 1146,515.5 1146.8,514.9 1147.6,513.2 1148.3,511.6 1149.1,511.4 1149.9,509.9 1150.7,509.8 1151.5,508.8 1152.3,508 1153.1,506.8 1153.9,504.9 1154.6,505.3 1155.4,503.1 1156.2,503.4 1157,502.1 1157.8,500.7 1158.6,499.8 1159.4,499.1 1160.1,499.1 1160.9,497.3 1161.7,497 1162.5,494.5 1163.3,495 1164.1,494 1164.9,493.9 1165.7,492.9 1166.4,492.5 1167.2,490.8 1168,490.7 1168.8,489.7 1169.6,489.7 1170.4,488.9 1171.2,487.5 1172,488 1172.7,487.8 1173.5,486.2 1174.3,486.3 1175.1,485.5 1175.9,484.3 1176.7,484.6 1177.5,483.3 1178.3,483.6 1179,482.1 1179.8,481.8 1180.6,482.2 1181.4,481.7 1182.2,481.6 1183,480.7 1183.8,479.9 1184.5,480.8 1185.3,479.4 1186.1,480.1 1186.9,479.5 1187.7,479.7 1188.5,477.6 1189.3,478.2 1190.1,477.8 1190.8,478 1191.6,476.9 1192.4,478.1 1193.2,476.9 1194,475.6 1194.8,476.5 1195.6,476.1 1196.4,475.6 1197.1,476 1197.9,475.4 1198.7,474.8 1199.5,474.9 1200.3,474.6 1201.1,474.8 1201.9,474.3 1202.7,474.2 1203.4,473.3 1204.2,473.5 1205,473.7 1205.8,474.6 1206.6,472.9 1207.4,472.7 1208.2,473.3 1208.9,473.6 1209.7,473 1210.5,471.8 1211.3,472.4 1212.1,471.9 1212.9,471.3 1213.7,470.6 1214.5,470.9 1215.2,470.6 1216,470.5 1216.8,469.2 1217.6,469.1 1218.4,469.4 1219.2,469.7 1220,469.1 1220.8,468.2 1221.5,468.5 1222.3,467.5 1223.1,467.4 1223.9,467.2 1224.7,466.8 1225.5,466.7 1226.3,467.1 1227.1,466.7 1227.8,465.3 1228.6,466.8 1229.4,466.4 1230.2,465.6 1231,466.2 1231.8,466.4 1232.6,466.7 1233.3,465.8 1234.1,465.6 1234.9,465.5 1235.7,466.1 1236.5,465.7 1237.3,466.7 1238.1,466.1 1238.9,466.6 1239.6,466.2 1240.4,466 1241.2,465.9 1242,466.9 1242.8,465.9 1243.6,466.7 1244.4,467.1 1245.2,466.7 1245.9,467.4 1246.7,466.7 1247.5,466.7 1248.3,467 1249.1,466.7 1249.9,467.1 1250.7,467 1251.5,467.8 1252.2,467.1 1253,467.6 1253.8,467.5 1254.6,467.4 1255.4,467.4 1256.2,468.4 1257,468.4 1257.7,468 1258.5,467.7 1259.3,467.9 1260.1,467.8 1260.9,467.8 1261.7,468.2 1262.5,468.6 1263.3,469.2 1264,469.2 1264.8,469.1 1265.6,468.8 1266.4,468.8 1267.2,469 1268,469 1268.8,468.6 1269.6,468.7 1270.3,468.6 1271.1,468.4 1271.9,468.7 1272.7,468.8 1273.5,467.9 1274.3,467.7 1275.1,467.8 1275.8,467.7 1276.6,466.2 1277.4,467.4 1278.2,466.9 1279,466.4 1279.8,466.8 1280.6,466 1281.4,465 1282.1,465.2 1282.9,465.1 1283.7,465 1284.5,465 1285.3,464.5 1286.1,464.9 1286.9,464.9 1287.7,464.6 1288.4,464.2 1289.2,464.4 1290,464.3 1290.8,465.5 1291.6,464.1 1292.4,463.6 1293.2,464.1 1294,464.9 1294.7,465.3 1295.5,464.8 1296.3,465.5 1297.1,464.8 1297.9,465.4 1298.7,464.8 1299.5,464.8 1300.2,466.4 1301,465.4 1301.8,466 1302.6,466.4 1303.4,466.1 1304.2,466 1305,465.5 1305.8,466.8 1306.5,465.7 1307.3,465.3 1308.1,466 1308.9,466.1 1309.7,466.4 1310.5,467 1311.3,466.3 1312.1,466.4 1312.8,466.3 1313.6,465.5 1314.4,466.4 1315.2,466.6 1316,466.1 1316.8,467.5 1317.6,467.5 1318.4,467.2 1319.1,467.4 1319.9,466.8 1320.7,467.3 1321.5,466.4" stroke="#000000" stroke-width="3"/>
<path d="M809.9 426.8h0M810.7 417.2h0M811.5 397.7h0M812.3 366.4h0M813 350.1h0M813.8 338.4h0M814.6 325.8h0M815.4 314.8h0M816.2 306.7h0M817 302.1h0M817.8 296.6h0M818.6 288.7h0M819.3 280.7h0M820.1 272.6h0M820.9 264.9h0M821.7 256h0M822.5 247.5h0M823.3 241.8h0M824.1 237.2h0M824.9 232.7h0M825.6 229.3h0M826.4 226.2h0M827.2 223.9h0M828 221.2h0M828.8 217.3h0M829.6 214.2h0M830.4 211.4h0M831.2 209.6h0M831.9 205.7h0M832.7 203.4h0M833.5 199.8h0M834.3 196.8h0M835.1 195h0M835.9 192.8h0M836.7 191.7h0M837.4 190.4h0M838.2 191.5h0M839 192.2h0M839.8 194.6h0M840.6 197.1h0M841.4 201.5h0M842.2 207.1h0M843 212.2h0M843.7 218.5h0M844.5 223.8h0M845.3 229.8h0M846.1 236.5h0M846.9 242.4h0M847.7 249h0M848.5 256.1h0M849.3 262.6h0M850 269.5h0M850.8 277.9h0M851.6 285.5h0M852.4 294.2h0M853.2 301.1h0M854 309.4h0M854.8 318.7h0M855.6 326.3h0M856.3 335.1h0M857.1 345h0M857.9 354.3h0M858.7 364.4h0M859.5 373.8h0M860.3 386.3h0M861.1 397.6h0M861.8 407.9h0M862.6 418.7h0M863.4 427.1h0M864.2 435.1h0M865 442.4h0M865.8 447.5h0M866.6 452.2h0M867.4 457.6h0M868.1 462h0M868.9 466.9h0M869.7 472.2h0M870.5 478.9h0M871.3 484.5h0M872.1 491.1h0M872.9 497.2h0M873.7 505.8h0M874.4 514.5h0M875.2 523.7h0M876 531.3h0M876.8 537.3h0M877.6 543.3h0M878.4 549.5h0M879.2 554.6h0M879.9 560h0M880.7 565.9h0M881.5 572.2h0M882.3 578.4h0M883.1 583.2h0M883.9 588.5h0M884.7 594.1h0M885.5 599.4h0M886.2 604.8h0M887 609.2h0M887.8 614.5h0M888.6 619.2h0M889.4 624.5h0M890.2 629h0M891 633.1h0M891.8 638h0M892.5 642.2h0M893.3 645.7h0M894.1 648.7h0M894.9 652.7h0M895.7 655.6h0M896.5 659.8h0M897.3 663.1h0M898.1 666.9h0M898.8 669.8h0M899.6 672.2h0M900.4 676.1h0M901.2 679.3h0M902 682.5h0M902.8 685.7h0M903.6 688.3h0M904.3 690.1h0M905.1 691.4h0M905.9 693h0M906.7 694.2h0M907.5 695.6h0M908.3 697.1h0M909.1 697.9h0M909.9 699.2h0M910.6 699.1h0M911.4 701.4h0M912.2 701.4h0M913 701h0M913.8 703.2h0M914.6 704.4h0M915.4 704.8h0M916.2 705h0M916.9 706.5h0M917.7 706.8h0M918.5 707.6h0M919.3 708.2h0M920.1 706.8h0M920.9 708.2h0M921.7 708.3h0M922.5 707.9h0M923.2 706.9h0M924 706.2h0M924.8 705.3h0M925.6 704.8h0M926.4 704.7h0M927.2 702.9h0M928 702.5h0M928.7 701.8h0M929.5 701.8h0M930.3 700.7h0M931.1 700.2h0M931.9 699.2h0M932.7 699.2h0M933.5 697.9h0M934.3 697.2h0M935 697.2h0M935.8 696.3h0M936.6 695.8h0M937.4 694.3h0M938.2 695.2h0M939 693.5h0M939.8 693.5h0M940.6 692.2h0M941.3 690.9h0M942.1 690.8h0M942.9 689.5h0M943.7 689.1h0M944.5 686.9h0M945.3 686.5h0M946.1 685.5h0M946.9 685.8h0M947.6 684.9h0M948.4 683.2h0M949.2 683.1h0M950 682.6h0M950.8 681.9h0M951.6 682.3h0M952.4 681h0M953.1 681h0M953.9 680.4h0M954.7 680.7h0M955.5 679.8h0M956.3 680.1h0M957.1 679.1h0M957.9 678.8h0M958.7 678.8h0M959.4 678.8h0M960.2 678.7h0M961 680.2h0M961.8 678.6h0M962.6 679.1h0M963.4 679h0M964.2 679.2h0M965 679.8h0M965.7 679.4h0M966.5 679h0M967.3 678.7h0M968.1 679.8h0M968.9 680h0M969.7 679h0M970.5 680.2h0M971.3 679h0M972 680.1h0M972.8 680.7h0M973.6 679.9h0M974.4 679.8h0M975.2 681.4h0M976 680.2h0M976.8 681.2h0M977.5 680.6h0M978.3 681.6h0M979.1 682.3h0M979.9 681.6h0M980.7 681.6h0M981.5 681.2h0M982.3 681.6h0M983.1 682.4h0M983.8 683.1h0M984.6 683.6h0M985.4 683.9h0M986.2 684.6h0M987 684.8h0M987.8 686.3h0M988.6 685.6h0M989.4 686.2h0M990.1 685.5h0M990.9 686.8h0M991.7 687.9h0M992.5 687.9h0M993.3 689.2h0M994.1 689.4h0M994.9 690.5h0M995.7 689.4h0M996.4 690.2h0M997.2 691.4h0M998 691.2h0M998.8 691h0M999.6 691.4h0M1000.4 691.7h0M1001.2 692.4h0M1001.9 692.4h0M1002.7 692.2h0M1003.5 691.9h0M1004.3 692.8h0M1005.1 693h0M1005.9 692.1h0M1006.7 693.1h0M1007.5 692.3h0M1008.2 692.8h0M1009 692.5h0M1009.8 692.2h0M1010.6 692.8h0M1011.4 692.8h0M1012.2 693.7h0M1013 693.6h0M1013.8 693h0M1014.5 692.7h0M1015.3 692.8h0M1016.1 692.4h0M1016.9 693.4h0M1017.7 693.5h0M1018.5 693.1h0M1019.3 693.6h0M1020 693.6h0M1020.8 694.1h0M1021.6 693.2h0M1022.4 694.1h0M1023.2 693.2h0M1024 693.9h0M1024.8 692.5h0M1025.6 693.2h0M1026.3 691.9h0M1027.1 692.6h0M1027.9 691.6h0M1028.7 690.3h0M1029.5 690.7h0M1030.3 689.7h0M1031.1 689.4h0M1031.9 689.6h0M1032.6 687.8h0M1033.4 687.1h0M1034.2 687.2h0M1035 685.9h0M1035.8 685.9h0M1036.6 685.4h0M1037.4 684.3h0M1038.2 684h0M1038.9 681.9h0M1039.7 683h0M1040.5 681.2h0M1041.3 680.3h0M1042.1 680.9h0M1042.9 679.9h0M1043.7 678h0M1044.4 677.7h0M1045.2 676.4h0M1046 675.2h0M1046.8 675h0M1047.6 674.4h0M1048.4 674.3h0M1049.2 672h0M1050 671.6h0M1050.7 670.1h0M1051.5 669.3h0M1052.3 669.1h0M1053.1 666.7h0M1053.9 666h0M1054.7 665.2h0M1055.5 665.1h0M1056.3 663.8h0M1057 662.8h0M1057.8 661.7h0M1058.6 661h0M1059.4 659.3h0M1060.2 658.3h0M1061 657.2h0M1061.8 656.5h0M1062.6 654.6h0M1063.3 654h0M1064.1 654.2h0M1064.9 652.1h0M1065.7 650.8h0M1066.5 649.2h0M1067.3 648.6h0M1068.1 647.5h0M1068.8 646.5h0M1069.6 644.8h0M1070.4 644.1h0M1071.2 643.1h0M1072 642h0M1072.8 640.2h0M1073.6 639.6h0M1074.4 638.9h0M1075.1 636.7h0M1075.9 636.1h0M1076.7 634.4h0M1077.5 633.2h0M1078.3 631.5h0M1079.1 630.4h0M1079.9 629.8h0M1080.7 628.4h0M1081.4 627.6h0M1082.2 624.9h0M1083 624.2h0M1083.8 622.4h0M1084.6 621.8h0M1085.4 621.3h0M1086.2 618.3h0M1087 617.6h0M1087.7 616.2h0M1088.5 614.8h0M1089.3 613.1h0M1090.1 611.8h0M1090.9 611.4h0M1091.7 608.7h0M1092.5 608h0M1093.2 606.6h0M1094 604.2h0M1094.8 603.1h0M1095.6 602.3h0M1096.4 601.5h0M1097.2 599.1h0M1098 597.5h0M1098.8 596.3h0M1099.5 595.4h0M1100.3 593.7h0M1101.1 592.5h0M1101.9 590.3h0M1102.7 588.5h0M1103.5 587h0M1104.3 586.3h0M1105.1 584.3h0M1105.8 582.7h0M1106.6 581.7h0M1107.4 580h0M1108.2 577.5h0M1109 576.9h0M1109.8 575h0M1110.6 574.1h0M1111.4 572.4h0M1112.1 571.6h0M1112.9 569.3h0M1113.7 567.1h0M1114.5 565.2h0M1115.3 564h0M1116.1 562.7h0M1116.9 561.4h0M1117.6 560.1h0M1118.4 558.4h0M1119.2 556.5h0M1120 555.7h0M1120.8 553.4h0M1121.6 552.8h0M1122.4 551.8h0M1123.2 550.1h0M1123.9 549h0M1124.7 547.5h0M1125.5 545h0M1126.3 544.3h0M1127.1 542.8h0M1127.9 541.1h0M1128.7 539.8h0M1129.5 539.3h0M1130.2 537.2h0M1131 536.4h0M1131.8 535.4h0M1132.6 534h0M1133.4 533.6h0M1134.2 532.1h0M1135 530.7h0M1135.7 529.2h0M1136.5 528.5h0M1137.3 527.2h0M1138.1 525.6h0M1138.9 524.3h0M1139.7 523.5h0M1140.5 522.2h0M1141.3 521.9h0M1142 520.7h0M1142.8 519.4h0M1143.6 518.6h0M1144.4 517.7h0M1145.2 515.7h0M1146 515.5h0M1146.8 514.9h0M1147.6 513.2h0M1148.3 511.6h0M1149.1 511.4h0M1149.9 509.9h0M1150.7 509.8h0M1151.5 508.8h0M1152.3 508h0M1153.1 506.8h0M1153.9 504.9h0M1154.6 505.3h0M1155.4 503.1h0M1156.2 503.4h0M1157 502.1h0M1157.8 500.7h0M1158.6 499.8h0M1159.4 499.1h0M1160.1 499.1h0M1160.9 497.3h0M1161.7 497h0M1162.5 494.5h0M1163.3 495h0M1164.1 494h0M1164.9 493.9h0M1165.7 492.9h0M1166.4 492.5h0M1167.2 490.8h0M1168 490.7h0M1168.8 489.7h0M1169.6 489.7h0M1170.4 488.9h0M1171.2 487.5h0M1172 488h0M1172.7 487.8h0M1173.5 486.2h0M1174.3 486.3h0M1175.1 485.5h0M1175.9 484.3h0M1176.7 484.6h0M1177.5 483.3h0M1178.3 483.6h0M1179 482.1h0M1179.8 481.8h0M1180.6 482.2h0M1181.4 481.7h0M1182.2 481.6h0M1183 480.7h0M1183.8 479.9h0M1184.5 480.8h0M1185.3 479.4h0M1186.1 480.1h0M1186.9 479.5h0M1187.7 479.7h0M1188.5 477.6h0M1189.3 478.2h0M1190.1 477.8h0M1190.8 478h0M1191.6 476.9h0M1192.4 478.1h0M1193.2 476.9h0M1194 475.6h0M1194.8 476.5h0M1195.6 476.1h0M1196.4 475.6h0M1197.1 476h0M1197.9 475.4h0M1198.7 474.8h0M1199.5 474.9h0M1200.3 474.6h0M1201.1 474.8h0M1201.9 474.3h0M1202.7 474.2h0M1203.4 473.3h0M1204.2 473.5h0M1205 473.7h0M1205.8 474.6h0M1206.6 472.9h0M1207.4 472.7h0M1208.2 473.3h0M1208.9 473.6h0M1209.7 473h0M1210.5 471.8h0M1211.3 472.4h0M1212.1 471.9h0M1212.9 471.3h0M1213.7 470.6h0M1214.5 470.9h0M1215.2 470.6h0M1216 470.5h0M1216.8 469.2h0M1217.6 469.1h0M1218.4 469.4h0M1219.2 469.7h0M1220 469.1h0M1220.8 468.2h0M1221.5 468.5h0M1222.3 467.5h0M1223.1 467.4h0M1223.9 467.2h0M1224.7 466.8h0M1225.5 466.7h0M1226.3 467.1h0M1227.1 466.7h0M1227.8 465.3h0M1228.6 466.8h0M1229.4 466.4h0M1230.2 465.6h0M1231 466.2h0M1231.8 466.4h0M1232.6 466.7h0M1233.3 465.8h0M1234.1 465.6h0M1234.9 465.5h0M1235.7 466.1h0M1236.5 465.7h0M1237.3 466.7h0M1238.1 466.1h0M1238.9 466.6h0M1239.6 466.2h0M1240.4 466h0M1241.2 465.9h0M1242 466.9h0M1242.8 465.9h0M1243.6 466.7h0M1244.4 467.1h0M1245.2 466.7h0M1245.9 467.4h0M1246.7 466.7h0M1247.5 466.7h0M1248.3 467h0M1249.1 466.7h0M1249.9 467.1h0M1250.7 467h0M1251.5 467.8h0M1252.2 467.1h0M1253 467.6h0M1253.8 467.5h0M1254.6 467.4h0M1255.4 467.4h0M1256.2 468.4h0M1257 468.4h0M1257.7 468h0M1258.5 467.7h0M1259.3 467.9h0M1260.1 467.8h0M1260.9 467.8h0M1261.7 468.2h0M1262.5 468.6h0M1263.3 469.2h0M1264 469.2h0M1264.8 469.1h0M1265.6 468.8h0M1266.4 468.8h0M1267.2 469h0M1268 469h0M1268.8 468.6h0M1269.6 468.7h0M1270.3 468.6h0M1271.1 468.4h0M1271.9 468.7h0M1272.7 468.8h0M1273.5 467.9h0M1274.3 467.7h0M1275.1 467.8h0M1275.8 467.7h0M1276.6 466.2h0M1277.4 467.4h0M1278.2 466.9h0M1279 466.4h0M1279.8 466.8h0M1280.6 466h0M1281.4 465h0M1282.1 465.2h0M1282.9 465.1h0M1283.7 465h0M1284.5 465h0M1285.3 464.5h0M1286.1 464.9h0M1286.9 464.9h0M1287.7 464.6h0M1288.4 464.2h0M1289.2 464.4h0M1290 464.3h0M1290.8 465.5h0M1291.6 464.1h0M1292.4 463.6h0M1293.2 464.1h0M1294 464.9h0M1294.7 465.3h0M1295.5 464.8h0M1296.3 465.5h0M1297.1 464.8h0M1297.9 465.4h0M1298.7 464.8h0M1299.5 464.8h0M1300.2 466.4h0M1301 465.4h0M1301.8 466h0M1302.6 466.4h0M1303.4 466.1h0M1304.2 466h0M1305 465.5h0M1305.8 466.8h0M1306.5 465.7h0M1307.3 465.3h0M1308.1 466h0M1308.9 466.1h0M1309.7 466.4h0M1310.5 467h0M1311.3 466.3h0M1312.1 466.4h0M1312.8 466.3h0M1313.6 465.5h0M1314.4 466.4h0M1315.2 466.6h0M1316 466.1h0M1316.8 467.5h0M1317.6 467.5h0M1318.4 467.2h0M1319.1 467.4h0M1319.9 466.8h0M1320.7 467.3h0M1321.5 466.4h0" stroke="#000000" stroke-width="10.4"/>
</g>
<rect x="809.9" y="120.7" width="511.6" height="635.3" fill="none" stroke="#000" stroke-width="2.1"/>
<line x1="849.3" y1="756" x2="849.3" y2="765" stroke="#000" stroke-width="2.1"/>
<text x="849.3" y="790" text-anchor="middle" font-family="'DejaVu Sans', sans-serif" font-size="27.6">200</text>
<line x1="928" y1="756" x2="928" y2="765" stroke="#000" stroke-width="2.1"/>
<text x="928" y="790" text-anchor="middle" font-family="'DejaVu Sans', sans-serif" font-size="27.6">210</text>
<line x1="1006.7" y1="756" x2="1006.7" y2="765" stroke="#000" stroke-width="2.1"/>
<text x="1006.7" y="790" text-anchor="middle" font-family="'DejaVu Sans', sans-serif" font-size="27.6">220</text>
<line x1="1085.4" y1="756" x2="1085.4" y2="765" stroke="#000" stroke-width="2.1"/>
<text x="1085.4" y="790" text-anchor="middle" font-family="'DejaVu Sans', sans-serif" font-size="27.6">230</text>
<line x1="1164.1" y1="756" x2="1164.1" y2="765" stroke="#000" stroke-width="2.1"/>
<text x="1164.1" y="790" text-anchor="middle" font-family="'DejaVu Sans', sans-serif" font-size="27.6">240</text>
<line x1="1242.8" y1="756" x2="1242.8" y2="765" stroke="#000" stroke-width="2.1"/>
<text x="1242.8" y="790" text-anchor="middle" font-family="'DejaVu Sans', sans-serif" font-size="27.6">250</text>
<line x1="1321.5" y1="756" x2="1321.5" y2="765" stroke="#000" stroke-width="2.1"/>
<text x="1321.5" y="790" text-anchor="middle" font-family="'DejaVu Sans', sans-serif" font-size="27.6">260</text>
<line x1="800.9" y1="120.7" x2="809.9" y2="120.7" stroke="#000" stroke-width="2.1"/>
<text x="797.1" y="131.2" text-anchor="end" font-family="'DejaVu Sans', sans-serif" font-size="27.6">30</text>
<line x1="800.9" y1="236.2" x2="809.9" y2="236.2" stroke="#000" stroke-width="2.1"/>
<text x="797.1" y="246.7" text-anchor="end" font-family="'DejaVu Sans', sans-serif" font-size="27.6">20</text>
<line x1="800.9" y1="351.7" x2="809.9" y2="351.7" stroke="#000" stroke-width="2.1"/>
<text x="797.1" y="362.2" text-anchor="end" font-family="'DejaVu Sans', sans-serif" font-size="27.6">10</text>
<line x1="800.9" y1="467.2" x2="809.9" y2="467.2" stroke="#000" stroke-width="2.1"/>
<text x="797.1" y="477.7" text-anchor="end" font-family="'DejaVu Sans', sans-serif" font-size="27.6">0</text>
<line x1="800.9" y1="582.7" x2="809.9" y2="582.7" stroke="#000" stroke-width="2.1"/>
<text x="797.1" y="593.2" text-anchor="end" font-family="'DejaVu Sans', sans-serif" font-size="27.6">−10</text>
<line x1="800.9" y1="698.2" x2="809.9" y2="698.2" stroke="#000" stroke-width="2.1"/>
<text x="797.1" y="708.7" text-anchor="end" font-family="'DejaVu Sans', sans-serif" font-size="27.6">−20</text>
<text x="1065.7" y="820.8" text-anchor="middle" font-family="'DejaVu Sans', sans-serif" font-size="27.6">Wavelength (nm)</text>
<text transform="translate(728.5 438.4) rotate(-90)" text-anchor="middle" font-family="'DejaVu Sans', sans-serif" font-size="27.6">MRE (10<tspan font-size="19.3" dy="-11">3</tspan><tspan dy="11"> deg cm</tspan><tspan font-size="19.3" dy="-11">2</tspan><tspan dy="11"> dmol</tspan><tspan font-size="19.3" dy="-11">−1</tspan><tspan dy="11">)</tspan></text>
<line x1="1029.4" y1="156.7" x2="1087.9" y2="156.7" stroke="#5bbba6" stroke-width="3.2"/>
<circle cx="1058.7" cy="156.7" r="5" fill="#5bbba6"/>
<text x="1108.3" y="166.7" font-family="'DejaVu Sans', sans-serif" font-size="27.6">25 °C</text>
<line x1="1029.4" y1="197" x2="1087.9" y2="197" stroke="#e9708e" stroke-width="3.2"/>
<circle cx="1058.7" cy="197" r="5" fill="#e9708e"/>
<text x="1108.3" y="207" font-family="'DejaVu Sans', sans-serif" font-size="27.6">95 °C</text>
<line x1="1029.4" y1="237.3" x2="1087.9" y2="237.3" stroke="#000000" stroke-width="3.2"/>
<circle cx="1058.7" cy="237.3" r="5" fill="#000000"/>
<text x="1108.3" y="247.3" font-family="'DejaVu Sans', sans-serif" font-size="27.6">Back to 25 °C</text>
<clipPath id="ct2"><rect x="1491" y="120.7" width="511.6" height="635.3"/></clipPath>
<line x1="1491" y1="462.8" x2="2002.6" y2="462.8" stroke="#000" stroke-width="1.3" stroke-dasharray="4.1 1.95"/>
<g clip-path="url(#ct2)" fill="none" stroke-linecap="round" stroke-linejoin="round">
<polyline points="1491,340 1491.8,334.5 1492.6,328.6 1493.4,321.3 1494.1,313.9 1494.9,306.8 1495.7,297.7 1496.5,288.2 1497.3,278.3 1498.1,267.5 1498.9,257.3 1499.7,248.1 1500.4,237.5 1501.2,227.2 1502,216 1502.8,206.4 1503.6,196.5 1504.4,189 1505.2,181.8 1506,175.5 1506.7,169.8 1507.5,163.5 1508.3,160.8 1509.1,158.6 1509.9,157.7 1510.7,156.4 1511.5,155 1512.3,154.8 1513,153.9 1513.8,154.6 1514.6,153.6 1515.4,154.3 1516.2,155 1517,156.2 1517.8,157.6 1518.5,159 1519.3,162.6 1520.1,164.3 1520.9,167.6 1521.7,171.9 1522.5,179.4 1523.3,187 1524.1,195.8 1524.8,203.5 1525.6,211.7 1526.4,221.3 1527.2,230.5 1528,240.5 1528.8,248.9 1529.6,257.1 1530.4,265.7 1531.1,272.8 1531.9,281.7 1532.7,289.1 1533.5,296.2 1534.3,303 1535.1,309.6 1535.9,316.3 1536.7,322.9 1537.4,329.3 1538.2,336.9 1539,344.7 1539.8,352.4 1540.6,359 1541.4,368.9 1542.2,376.3 1542.9,384 1543.7,393 1544.5,402.5 1545.3,411.2 1546.1,419.7 1546.9,428.1 1547.7,437.2 1548.5,444.8 1549.2,453 1550,460.3 1550.8,467.1 1551.6,474.2 1552.4,480.5 1553.2,485.4 1554,490.2 1554.8,496.1 1555.5,501.8 1556.3,506.6 1557.1,513.5 1557.9,518.3 1558.7,524.4 1559.5,529.7 1560.3,535.3 1561,540.4 1561.8,547 1562.6,552.5 1563.4,558.6 1564.2,563.4 1565,569.6 1565.8,575 1566.6,581.6 1567.3,587.5 1568.1,593.3 1568.9,600 1569.7,605.8 1570.5,611.6 1571.3,617.3 1572.1,622.9 1572.9,626.9 1573.6,632.1 1574.4,636.6 1575.2,642.4 1576,646.7 1576.8,651.2 1577.6,654.8 1578.4,658 1579.2,661.9 1579.9,665.7 1580.7,669.1 1581.5,672.2 1582.3,676 1583.1,679 1583.9,682.3 1584.7,686.1 1585.4,688.2 1586.2,689.9 1587,692.7 1587.8,694.3 1588.6,695.8 1589.4,697 1590.2,697.6 1591,699.3 1591.7,700.7 1592.5,702.6 1593.3,702.6 1594.1,704 1594.9,704.8 1595.7,704.6 1596.5,705.3 1597.3,706.8 1598,706.2 1598.8,706.7 1599.6,707.4 1600.4,706.8 1601.2,707.7 1602,707.2 1602.8,706.9 1603.6,706.2 1604.3,704.7 1605.1,704.8 1605.9,703.8 1606.7,702.8 1607.5,701.4 1608.3,700.6 1609.1,699.1 1609.8,698.7 1610.6,697.9 1611.4,696.7 1612.2,695.7 1613,695.3 1613.8,694.1 1614.6,692.8 1615.4,693 1616.1,692 1616.9,690.7 1617.7,690.8 1618.5,690.1 1619.3,689.5 1620.1,688.2 1620.9,687.4 1621.7,687 1622.4,686.3 1623.2,685.1 1624,684.7 1624.8,685 1625.6,683.9 1626.4,683.3 1627.2,682.6 1628,682.5 1628.7,682.2 1629.5,681.8 1630.3,681.9 1631.1,680.8 1631.9,680.7 1632.7,679.9 1633.5,680.1 1634.2,679.5 1635,679.4 1635.8,679.1 1636.6,678.1 1637.4,678.3 1638.2,677.6 1639,678 1639.8,677.2 1640.5,677.7 1641.3,677 1642.1,676.7 1642.9,676.1 1643.7,676 1644.5,675.9 1645.3,675.3 1646.1,675.4 1646.8,675 1647.6,674.7 1648.4,674.8 1649.2,674.7 1650,674.3 1650.8,674.4 1651.6,673.9 1652.4,673.4 1653.1,673.3 1653.9,673.7 1654.7,673.9 1655.5,673.3 1656.3,673.2 1657.1,672.6 1657.9,673.1 1658.6,673 1659.4,672.7 1660.2,673.2 1661,673.2 1661.8,672.8 1662.6,673.3 1663.4,674.1 1664.2,674.7 1664.9,675.8 1665.7,675.8 1666.5,676.7 1667.3,677.3 1668.1,678.3 1668.9,678.8 1669.7,679.5 1670.5,680 1671.2,680.2 1672,681.2 1672.8,682.5 1673.6,682.6 1674.4,683.2 1675.2,683.3 1676,683.1 1676.8,683.5 1677.5,684.3 1678.3,684.3 1679.1,685 1679.9,685.6 1680.7,685.9 1681.5,686 1682.3,685.3 1683,686.7 1683.8,685.8 1684.6,685.9 1685.4,686.6 1686.2,686.6 1687,686.9 1687.8,686.6 1688.6,686.2 1689.3,686.3 1690.1,685.7 1690.9,685.4 1691.7,685.5 1692.5,685.2 1693.3,685.1 1694.1,684.6 1694.9,684.8 1695.6,683.8 1696.4,683.5 1697.2,683.5 1698,681.9 1698.8,682.7 1699.6,682.3 1700.4,681.5 1701.1,681.9 1701.9,681.1 1702.7,681 1703.5,680.5 1704.3,679.8 1705.1,679.3 1705.9,678.7 1706.7,678.4 1707.4,677.9 1708.2,677.8 1709,677.9 1709.8,676.9 1710.6,677.2 1711.4,676.9 1712.2,675.7 1713,675.6 1713.7,675.4 1714.5,674.8 1715.3,674.3 1716.1,674.8 1716.9,673.9 1717.7,673.9 1718.5,672.9 1719.3,672.7 1720,671.4 1720.8,671.3 1721.6,671.2 1722.4,670.4 1723.2,670.3 1724,669.2 1724.8,668.4 1725.5,667.8 1726.3,668 1727.1,666.7 1727.9,665.7 1728.7,665.1 1729.5,664 1730.3,664.2 1731.1,662.8 1731.8,662.5 1732.6,661.3 1733.4,660.5 1734.2,659.5 1735,659.2 1735.8,658.1 1736.6,657.8 1737.4,657 1738.1,655.3 1738.9,654.6 1739.7,654.3 1740.5,653 1741.3,651.6 1742.1,649.9 1742.9,649.1 1743.7,648.1 1744.4,648 1745.2,646.2 1746,644.8 1746.8,643.7 1747.6,642.5 1748.4,641.6 1749.2,639.6 1749.9,638.6 1750.7,638 1751.5,637.2 1752.3,634.8 1753.1,634.7 1753.9,632.8 1754.7,631.3 1755.5,631.3 1756.2,629.6 1757,628.7 1757.8,627.1 1758.6,626 1759.4,624.1 1760.2,623.4 1761,622.4 1761.8,620.7 1762.5,620 1763.3,618.8 1764.1,616.5 1764.9,616.4 1765.7,615 1766.5,613.5 1767.3,612.6 1768.1,611.7 1768.8,609.1 1769.6,608.4 1770.4,607 1771.2,605.6 1772,604.5 1772.8,603.2 1773.6,601.4 1774.3,599.2 1775.1,598.5 1775.9,597.1 1776.7,596.7 1777.5,594.7 1778.3,593.7 1779.1,591.5 1779.9,590.4 1780.6,588.7 1781.4,587.2 1782.2,585.7 1783,584.3 1783.8,581.7 1784.6,580.6 1785.4,578.5 1786.2,575.7 1786.9,573.2 1787.7,570 1788.5,566.8 1789.3,564.3 1790.1,561.7 1790.9,559.3 1791.7,557 1792.5,556.4 1793.2,554.2 1794,553.4 1794.8,552.3 1795.6,550.7 1796.4,549.8 1797.2,548.5 1798,547.3 1798.7,547.8 1799.5,546 1800.3,544.4 1801.1,543.9 1801.9,542.8 1802.7,542.4 1803.5,542.1 1804.3,541 1805,539.2 1805.8,538.1 1806.6,537.6 1807.4,536.4 1808.2,535.1 1809,534.8 1809.8,533.1 1810.6,531.2 1811.3,529.9 1812.1,529.7 1812.9,527.8 1813.7,527.7 1814.5,526.7 1815.3,526.1 1816.1,523.8 1816.8,523.3 1817.6,521.1 1818.4,520.8 1819.2,519.8 1820,519.5 1820.8,517.2 1821.6,516.8 1822.4,515.7 1823.1,515.4 1823.9,513.1 1824.7,512 1825.5,511.6 1826.3,510.3 1827.1,509.2 1827.9,507.9 1828.7,507.2 1829.4,505.6 1830.2,505.4 1831,504.5 1831.8,503.4 1832.6,503.2 1833.4,501.5 1834.2,499.7 1835,499 1835.7,498.5 1836.5,497 1837.3,497 1838.1,495.4 1838.9,494.2 1839.7,493.4 1840.5,493.2 1841.2,491.8 1842,490.7 1842.8,490.9 1843.6,489.9 1844.4,490.1 1845.2,489.7 1846,488.1 1846.8,487.8 1847.5,487.2 1848.3,486.9 1849.1,486.3 1849.9,485.4 1850.7,484.5 1851.5,484.8 1852.3,484.9 1853.1,483.3 1853.8,483.1 1854.6,482.6 1855.4,482.4 1856.2,481.1 1857,481.5 1857.8,480.9 1858.6,481.4 1859.4,480.5 1860.1,480.2 1860.9,479.5 1861.7,479 1862.5,479.1 1863.3,477.8 1864.1,478.5 1864.9,478 1865.6,477.4 1866.4,477.7 1867.2,476.7 1868,476.4 1868.8,476.5 1869.6,475.3 1870.4,475.8 1871.2,475.5 1871.9,475.7 1872.7,475.8 1873.5,475.1 1874.3,474.8 1875.1,474.6 1875.9,473.9 1876.7,474.9 1877.5,474.2 1878.2,474.3 1879,472.8 1879.8,473.4 1880.6,473.2 1881.4,473.2 1882.2,472.2 1883,472.6 1883.8,472.1 1884.5,472.8 1885.3,471.4 1886.1,471.5 1886.9,471.3 1887.7,470.8 1888.5,471.2 1889.3,471 1890,470.4 1890.8,470.3 1891.6,470.4 1892.4,470.1 1893.2,470.1 1894,469.4 1894.8,469 1895.6,469.2 1896.3,468.2 1897.1,469.3 1897.9,468.6 1898.7,467.5 1899.5,468.1 1900.3,468.3 1901.1,466.9 1901.9,467 1902.6,467.4 1903.4,466.4 1904.2,466.8 1905,466.7 1905.8,465.9 1906.6,465.8 1907.4,465.8 1908.2,465.2 1908.9,465.2 1909.7,464.4 1910.5,464.2 1911.3,463.5 1912.1,463.7 1912.9,463.6 1913.7,463.3 1914.4,462.5 1915.2,461.4 1916,461.3 1916.8,461.5 1917.6,460.5 1918.4,460.9 1919.2,459.7 1920,459.9 1920.7,459.1 1921.5,458.8 1922.3,458.8 1923.1,458.2 1923.9,458.4 1924.7,457.8 1925.5,457 1926.3,455.6 1927,456.7 1927.8,456.7 1928.6,456.9 1929.4,455.8 1930.2,456.6 1931,456.1 1931.8,455.4 1932.6,455.8 1933.3,454.5 1934.1,454.4 1934.9,454.9 1935.7,454.7 1936.5,454.8 1937.3,454.6 1938.1,453.7 1938.8,453.5 1939.6,453.5 1940.4,453.4 1941.2,453.7 1942,453.2 1942.8,453.9 1943.6,453.3 1944.4,452.7 1945.1,452.8 1945.9,453.5 1946.7,453.5 1947.5,452.8 1948.3,452.7 1949.1,454 1949.9,453.6 1950.7,453.3 1951.4,453 1952.2,453.8 1953,453.2 1953.8,453.6 1954.6,452.6 1955.4,453.4 1956.2,453.7 1956.9,453.8 1957.7,453.3 1958.5,453.5 1959.3,454.2 1960.1,453.7 1960.9,454.4 1961.7,454.2 1962.5,454.5 1963.2,454.5 1964,454.3 1964.8,454.5 1965.6,454 1966.4,454 1967.2,454.5 1968,455 1968.8,454.3 1969.5,455.6 1970.3,455.7 1971.1,454.8 1971.9,455 1972.7,455 1973.5,455.7 1974.3,456.3 1975.1,456.2 1975.8,455.9 1976.6,456.6 1977.4,456.8 1978.2,457.3 1979,457.4 1979.8,456.8 1980.6,457.2 1981.3,458.1 1982.1,458.3 1982.9,458.4 1983.7,458.2 1984.5,459.2 1985.3,459.1 1986.1,460.2 1986.9,460.2 1987.6,459.9 1988.4,460 1989.2,461.2 1990,461.4 1990.8,461.1 1991.6,462 1992.4,462.4 1993.2,462.3 1993.9,462.8 1994.7,462.8 1995.5,463.3 1996.3,464.2 1997.1,464.4 1997.9,464.7 1998.7,465.6 1999.5,465.8 2000.2,465.4 2001,466.7 2001.8,466 2002.6,466.6" stroke="#5bbba6" stroke-width="3"/>
<path d="M1491 340h0M1491.8 334.5h0M1492.6 328.6h0M1493.4 321.3h0M1494.1 313.9h0M1494.9 306.8h0M1495.7 297.7h0M1496.5 288.2h0M1497.3 278.3h0M1498.1 267.5h0M1498.9 257.3h0M1499.7 248.1h0M1500.4 237.5h0M1501.2 227.2h0M1502 216h0M1502.8 206.4h0M1503.6 196.5h0M1504.4 189h0M1505.2 181.8h0M1506 175.5h0M1506.7 169.8h0M1507.5 163.5h0M1508.3 160.8h0M1509.1 158.6h0M1509.9 157.7h0M1510.7 156.4h0M1511.5 155h0M1512.3 154.8h0M1513 153.9h0M1513.8 154.6h0M1514.6 153.6h0M1515.4 154.3h0M1516.2 155h0M1517 156.2h0M1517.8 157.6h0M1518.5 159h0M1519.3 162.6h0M1520.1 164.3h0M1520.9 167.6h0M1521.7 171.9h0M1522.5 179.4h0M1523.3 187h0M1524.1 195.8h0M1524.8 203.5h0M1525.6 211.7h0M1526.4 221.3h0M1527.2 230.5h0M1528 240.5h0M1528.8 248.9h0M1529.6 257.1h0M1530.4 265.7h0M1531.1 272.8h0M1531.9 281.7h0M1532.7 289.1h0M1533.5 296.2h0M1534.3 303h0M1535.1 309.6h0M1535.9 316.3h0M1536.7 322.9h0M1537.4 329.3h0M1538.2 336.9h0M1539 344.7h0M1539.8 352.4h0M1540.6 359h0M1541.4 368.9h0M1542.2 376.3h0M1542.9 384h0M1543.7 393h0M1544.5 402.5h0M1545.3 411.2h0M1546.1 419.7h0M1546.9 428.1h0M1547.7 437.2h0M1548.5 444.8h0M1549.2 453h0M1550 460.3h0M1550.8 467.1h0M1551.6 474.2h0M1552.4 480.5h0M1553.2 485.4h0M1554 490.2h0M1554.8 496.1h0M1555.5 501.8h0M1556.3 506.6h0M1557.1 513.5h0M1557.9 518.3h0M1558.7 524.4h0M1559.5 529.7h0M1560.3 535.3h0M1561 540.4h0M1561.8 547h0M1562.6 552.5h0M1563.4 558.6h0M1564.2 563.4h0M1565 569.6h0M1565.8 575h0M1566.6 581.6h0M1567.3 587.5h0M1568.1 593.3h0M1568.9 600h0M1569.7 605.8h0M1570.5 611.6h0M1571.3 617.3h0M1572.1 622.9h0M1572.9 626.9h0M1573.6 632.1h0M1574.4 636.6h0M1575.2 642.4h0M1576 646.7h0M1576.8 651.2h0M1577.6 654.8h0M1578.4 658h0M1579.2 661.9h0M1579.9 665.7h0M1580.7 669.1h0M1581.5 672.2h0M1582.3 676h0M1583.1 679h0M1583.9 682.3h0M1584.7 686.1h0M1585.4 688.2h0M1586.2 689.9h0M1587 692.7h0M1587.8 694.3h0M1588.6 695.8h0M1589.4 697h0M1590.2 697.6h0M1591 699.3h0M1591.7 700.7h0M1592.5 702.6h0M1593.3 702.6h0M1594.1 704h0M1594.9 704.8h0M1595.7 704.6h0M1596.5 705.3h0M1597.3 706.8h0M1598 706.2h0M1598.8 706.7h0M1599.6 707.4h0M1600.4 706.8h0M1601.2 707.7h0M1602 707.2h0M1602.8 706.9h0M1603.6 706.2h0M1604.3 704.7h0M1605.1 704.8h0M1605.9 703.8h0M1606.7 702.8h0M1607.5 701.4h0M1608.3 700.6h0M1609.1 699.1h0M1609.8 698.7h0M1610.6 697.9h0M1611.4 696.7h0M1612.2 695.7h0M1613 695.3h0M1613.8 694.1h0M1614.6 692.8h0M1615.4 693h0M1616.1 692h0M1616.9 690.7h0M1617.7 690.8h0M1618.5 690.1h0M1619.3 689.5h0M1620.1 688.2h0M1620.9 687.4h0M1621.7 687h0M1622.4 686.3h0M1623.2 685.1h0M1624 684.7h0M1624.8 685h0M1625.6 683.9h0M1626.4 683.3h0M1627.2 682.6h0M1628 682.5h0M1628.7 682.2h0M1629.5 681.8h0M1630.3 681.9h0M1631.1 680.8h0M1631.9 680.7h0M1632.7 679.9h0M1633.5 680.1h0M1634.2 679.5h0M1635 679.4h0M1635.8 679.1h0M1636.6 678.1h0M1637.4 678.3h0M1638.2 677.6h0M1639 678h0M1639.8 677.2h0M1640.5 677.7h0M1641.3 677h0M1642.1 676.7h0M1642.9 676.1h0M1643.7 676h0M1644.5 675.9h0M1645.3 675.3h0M1646.1 675.4h0M1646.8 675h0M1647.6 674.7h0M1648.4 674.8h0M1649.2 674.7h0M1650 674.3h0M1650.8 674.4h0M1651.6 673.9h0M1652.4 673.4h0M1653.1 673.3h0M1653.9 673.7h0M1654.7 673.9h0M1655.5 673.3h0M1656.3 673.2h0M1657.1 672.6h0M1657.9 673.1h0M1658.6 673h0M1659.4 672.7h0M1660.2 673.2h0M1661 673.2h0M1661.8 672.8h0M1662.6 673.3h0M1663.4 674.1h0M1664.2 674.7h0M1664.9 675.8h0M1665.7 675.8h0M1666.5 676.7h0M1667.3 677.3h0M1668.1 678.3h0M1668.9 678.8h0M1669.7 679.5h0M1670.5 680h0M1671.2 680.2h0M1672 681.2h0M1672.8 682.5h0M1673.6 682.6h0M1674.4 683.2h0M1675.2 683.3h0M1676 683.1h0M1676.8 683.5h0M1677.5 684.3h0M1678.3 684.3h0M1679.1 685h0M1679.9 685.6h0M1680.7 685.9h0M1681.5 686h0M1682.3 685.3h0M1683 686.7h0M1683.8 685.8h0M1684.6 685.9h0M1685.4 686.6h0M1686.2 686.6h0M1687 686.9h0M1687.8 686.6h0M1688.6 686.2h0M1689.3 686.3h0M1690.1 685.7h0M1690.9 685.4h0M1691.7 685.5h0M1692.5 685.2h0M1693.3 685.1h0M1694.1 684.6h0M1694.9 684.8h0M1695.6 683.8h0M1696.4 683.5h0M1697.2 683.5h0M1698 681.9h0M1698.8 682.7h0M1699.6 682.3h0M1700.4 681.5h0M1701.1 681.9h0M1701.9 681.1h0M1702.7 681h0M1703.5 680.5h0M1704.3 679.8h0M1705.1 679.3h0M1705.9 678.7h0M1706.7 678.4h0M1707.4 677.9h0M1708.2 677.8h0M1709 677.9h0M1709.8 676.9h0M1710.6 677.2h0M1711.4 676.9h0M1712.2 675.7h0M1713 675.6h0M1713.7 675.4h0M1714.5 674.8h0M1715.3 674.3h0M1716.1 674.8h0M1716.9 673.9h0M1717.7 673.9h0M1718.5 672.9h0M1719.3 672.7h0M1720 671.4h0M1720.8 671.3h0M1721.6 671.2h0M1722.4 670.4h0M1723.2 670.3h0M1724 669.2h0M1724.8 668.4h0M1725.5 667.8h0M1726.3 668h0M1727.1 666.7h0M1727.9 665.7h0M1728.7 665.1h0M1729.5 664h0M1730.3 664.2h0M1731.1 662.8h0M1731.8 662.5h0M1732.6 661.3h0M1733.4 660.5h0M1734.2 659.5h0M1735 659.2h0M1735.8 658.1h0M1736.6 657.8h0M1737.4 657h0M1738.1 655.3h0M1738.9 654.6h0M1739.7 654.3h0M1740.5 653h0M1741.3 651.6h0M1742.1 649.9h0M1742.9 649.1h0M1743.7 648.1h0M1744.4 648h0M1745.2 646.2h0M1746 644.8h0M1746.8 643.7h0M1747.6 642.5h0M1748.4 641.6h0M1749.2 639.6h0M1749.9 638.6h0M1750.7 638h0M1751.5 637.2h0M1752.3 634.8h0M1753.1 634.7h0M1753.9 632.8h0M1754.7 631.3h0M1755.5 631.3h0M1756.2 629.6h0M1757 628.7h0M1757.8 627.1h0M1758.6 626h0M1759.4 624.1h0M1760.2 623.4h0M1761 622.4h0M1761.8 620.7h0M1762.5 620h0M1763.3 618.8h0M1764.1 616.5h0M1764.9 616.4h0M1765.7 615h0M1766.5 613.5h0M1767.3 612.6h0M1768.1 611.7h0M1768.8 609.1h0M1769.6 608.4h0M1770.4 607h0M1771.2 605.6h0M1772 604.5h0M1772.8 603.2h0M1773.6 601.4h0M1774.3 599.2h0M1775.1 598.5h0M1775.9 597.1h0M1776.7 596.7h0M1777.5 594.7h0M1778.3 593.7h0M1779.1 591.5h0M1779.9 590.4h0M1780.6 588.7h0M1781.4 587.2h0M1782.2 585.7h0M1783 584.3h0M1783.8 581.7h0M1784.6 580.6h0M1785.4 578.5h0M1786.2 575.7h0M1786.9 573.2h0M1787.7 570h0M1788.5 566.8h0M1789.3 564.3h0M1790.1 561.7h0M1790.9 559.3h0M1791.7 557h0M1792.5 556.4h0M1793.2 554.2h0M1794 553.4h0M1794.8 552.3h0M1795.6 550.7h0M1796.4 549.8h0M1797.2 548.5h0M1798 547.3h0M1798.7 547.8h0M1799.5 546h0M1800.3 544.4h0M1801.1 543.9h0M1801.9 542.8h0M1802.7 542.4h0M1803.5 542.1h0M1804.3 541h0M1805 539.2h0M1805.8 538.1h0M1806.6 537.6h0M1807.4 536.4h0M1808.2 535.1h0M1809 534.8h0M1809.8 533.1h0M1810.6 531.2h0M1811.3 529.9h0M1812.1 529.7h0M1812.9 527.8h0M1813.7 527.7h0M1814.5 526.7h0M1815.3 526.1h0M1816.1 523.8h0M1816.8 523.3h0M1817.6 521.1h0M1818.4 520.8h0M1819.2 519.8h0M1820 519.5h0M1820.8 517.2h0M1821.6 516.8h0M1822.4 515.7h0M1823.1 515.4h0M1823.9 513.1h0M1824.7 512h0M1825.5 511.6h0M1826.3 510.3h0M1827.1 509.2h0M1827.9 507.9h0M1828.7 507.2h0M1829.4 505.6h0M1830.2 505.4h0M1831 504.5h0M1831.8 503.4h0M1832.6 503.2h0M1833.4 501.5h0M1834.2 499.7h0M1835 499h0M1835.7 498.5h0M1836.5 497h0M1837.3 497h0M1838.1 495.4h0M1838.9 494.2h0M1839.7 493.4h0M1840.5 493.2h0M1841.2 491.8h0M1842 490.7h0M1842.8 490.9h0M1843.6 489.9h0M1844.4 490.1h0M1845.2 489.7h0M1846 488.1h0M1846.8 487.8h0M1847.5 487.2h0M1848.3 486.9h0M1849.1 486.3h0M1849.9 485.4h0M1850.7 484.5h0M1851.5 484.8h0M1852.3 484.9h0M1853.1 483.3h0M1853.8 483.1h0M1854.6 482.6h0M1855.4 482.4h0M1856.2 481.1h0M1857 481.5h0M1857.8 480.9h0M1858.6 481.4h0M1859.4 480.5h0M1860.1 480.2h0M1860.9 479.5h0M1861.7 479h0M1862.5 479.1h0M1863.3 477.8h0M1864.1 478.5h0M1864.9 478h0M1865.6 477.4h0M1866.4 477.7h0M1867.2 476.7h0M1868 476.4h0M1868.8 476.5h0M1869.6 475.3h0M1870.4 475.8h0M1871.2 475.5h0M1871.9 475.7h0M1872.7 475.8h0M1873.5 475.1h0M1874.3 474.8h0M1875.1 474.6h0M1875.9 473.9h0M1876.7 474.9h0M1877.5 474.2h0M1878.2 474.3h0M1879 472.8h0M1879.8 473.4h0M1880.6 473.2h0M1881.4 473.2h0M1882.2 472.2h0M1883 472.6h0M1883.8 472.1h0M1884.5 472.8h0M1885.3 471.4h0M1886.1 471.5h0M1886.9 471.3h0M1887.7 470.8h0M1888.5 471.2h0M1889.3 471h0M1890 470.4h0M1890.8 470.3h0M1891.6 470.4h0M1892.4 470.1h0M1893.2 470.1h0M1894 469.4h0M1894.8 469h0M1895.6 469.2h0M1896.3 468.2h0M1897.1 469.3h0M1897.9 468.6h0M1898.7 467.5h0M1899.5 468.1h0M1900.3 468.3h0M1901.1 466.9h0M1901.9 467h0M1902.6 467.4h0M1903.4 466.4h0M1904.2 466.8h0M1905 466.7h0M1905.8 465.9h0M1906.6 465.8h0M1907.4 465.8h0M1908.2 465.2h0M1908.9 465.2h0M1909.7 464.4h0M1910.5 464.2h0M1911.3 463.5h0M1912.1 463.7h0M1912.9 463.6h0M1913.7 463.3h0M1914.4 462.5h0M1915.2 461.4h0M1916 461.3h0M1916.8 461.5h0M1917.6 460.5h0M1918.4 460.9h0M1919.2 459.7h0M1920 459.9h0M1920.7 459.1h0M1921.5 458.8h0M1922.3 458.8h0M1923.1 458.2h0M1923.9 458.4h0M1924.7 457.8h0M1925.5 457h0M1926.3 455.6h0M1927 456.7h0M1927.8 456.7h0M1928.6 456.9h0M1929.4 455.8h0M1930.2 456.6h0M1931 456.1h0M1931.8 455.4h0M1932.6 455.8h0M1933.3 454.5h0M1934.1 454.4h0M1934.9 454.9h0M1935.7 454.7h0M1936.5 454.8h0M1937.3 454.6h0M1938.1 453.7h0M1938.8 453.5h0M1939.6 453.5h0M1940.4 453.4h0M1941.2 453.7h0M1942 453.2h0M1942.8 453.9h0M1943.6 453.3h0M1944.4 452.7h0M1945.1 452.8h0M1945.9 453.5h0M1946.7 453.5h0M1947.5 452.8h0M1948.3 452.7h0M1949.1 454h0M1949.9 453.6h0M1950.7 453.3h0M1951.4 453h0M1952.2 453.8h0M1953 453.2h0M1953.8 453.6h0M1954.6 452.6h0M1955.4 453.4h0M1956.2 453.7h0M1956.9 453.8h0M1957.7 453.3h0M1958.5 453.5h0M1959.3 454.2h0M1960.1 453.7h0M1960.9 454.4h0M1961.7 454.2h0M1962.5 454.5h0M1963.2 454.5h0M1964 454.3h0M1964.8 454.5h0M1965.6 454h0M1966.4 454h0M1967.2 454.5h0M1968 455h0M1968.8 454.3h0M1969.5 455.6h0M1970.3 455.7h0M1971.1 454.8h0M1971.9 455h0M1972.7 455h0M1973.5 455.7h0M1974.3 456.3h0M1975.1 456.2h0M1975.8 455.9h0M1976.6 456.6h0M1977.4 456.8h0M1978.2 457.3h0M1979 457.4h0M1979.8 456.8h0M1980.6 457.2h0M1981.3 458.1h0M1982.1 458.3h0M1982.9 458.4h0M1983.7 458.2h0M1984.5 459.2h0M1985.3 459.1h0M1986.1 460.2h0M1986.9 460.2h0M1987.6 459.9h0M1988.4 460h0M1989.2 461.2h0M1990 461.4h0M1990.8 461.1h0M1991.6 462h0M1992.4 462.4h0M1993.2 462.3h0M1993.9 462.8h0M1994.7 462.8h0M1995.5 463.3h0M1996.3 464.2h0M1997.1 464.4h0M1997.9 464.7h0M1998.7 465.6h0M1999.5 465.8h0M2000.2 465.4h0M2001 466.7h0M2001.8 466h0M2002.6 466.6h0" stroke="#5bbba6" stroke-width="10.4"/>
<polyline points="1491,310.3 1491.8,314.3 1492.6,319.5 1493.4,340.3 1494.1,355.1 1494.9,365.7 1495.7,385.4 1496.5,393.7 1497.3,407.8 1498.1,405 1498.9,415.3 1499.7,424.5 1500.4,431.9 1501.2,441.7 1502,449.8 1502.8,457.9 1503.6,471.5 1504.4,474.6 1505.2,490.3 1506,500.8 1506.7,501.3 1507.5,510.9 1508.3,512.1 1509.1,520 1509.9,528 1510.7,521 1511.5,527.4 1512.3,516.9 1513,519.7 1513.8,514.8 1514.6,498 1515.4,466.2 1516.2,465.2 1517,468 1517.8,459.5 1518.5,465.1 1519.3,461.3 1520.1,459.2 1520.9,453.7 1521.7,444.1 1522.5,442.5 1523.3,434.6 1524.1,437.6 1524.8,453.4 1525.6,456.5 1526.4,458.2 1527.2,462.9 1528,461.6 1528.8,458.4 1529.6,431.4 1530.4,416.8 1531.1,399.3 1531.9,376.5 1532.7,367 1533.5,376.1 1534.3,378.7 1535.1,382.1 1535.9,380.4 1536.7,385.9 1537.4,382.1 1538.2,398.3 1539,395.7 1539.8,393 1540.6,399.8 1541.4,392.9 1542.2,400.2 1542.9,394.9 1543.7,400.2 1544.5,398.4 1545.3,396.3 1546.1,398 1546.9,399.1 1547.7,391.4 1548.5,399.6 1549.2,402.7 1550,398 1550.8,399.6 1551.6,400.4 1552.4,406 1553.2,429.5 1554,438.6 1554.8,454.9 1555.5,466.2 1556.3,476.1 1557.1,487 1557.9,496 1558.7,503.9 1559.5,510.6 1560.3,515.9 1561,521.4 1561.8,526.2 1562.6,529.5 1563.4,533.9 1564.2,537.4 1565,541.3 1565.8,544.2 1566.6,547.3 1567.3,550 1568.1,552.3 1568.9,556 1569.7,558.5 1570.5,561.1 1571.3,564.9 1572.1,566.3 1572.9,568 1573.6,570 1574.4,572.6 1575.2,574.1 1576,576.3 1576.8,579.2 1577.6,580.8 1578.4,583 1579.2,585.9 1579.9,588.8 1580.7,590.1 1581.5,593 1582.3,595.3 1583.1,597.3 1583.9,599.6 1584.7,601 1585.4,602.9 1586.2,604.5 1587,606.4 1587.8,608.6 1588.6,609.9 1589.4,611.1 1590.2,613 1591,613.1 1591.7,615.7 1592.5,617.1 1593.3,617.6 1594.1,618.9 1594.9,620.2 1595.7,621.3 1596.5,622.1 1597.3,623 1598,624 1598.8,625.4 1599.6,626.1 1600.4,626.8 1601.2,627.6 1602,629.8 1602.8,629.5 1603.6,629.9 1604.3,629.9 1605.1,629.8 1605.9,629.5 1606.7,629.6 1607.5,629.7 1608.3,629.5 1609.1,628.6 1609.8,629.3 1610.6,628.7 1611.4,627.9 1612.2,628.1 1613,628.7 1613.8,627.5 1614.6,627.4 1615.4,627 1616.1,626.2 1616.9,626.1 1617.7,626.1 1618.5,625.3 1619.3,625.2 1620.1,625 1620.9,624.5 1621.7,624.1 1622.4,623.9 1623.2,623.6 1624,622.9 1624.8,622.9 1625.6,622.6 1626.4,621.1 1627.2,621.3 1628,620.7 1628.7,620.4 1629.5,619.9 1630.3,619.5 1631.1,619.1 1631.9,619 1632.7,618 1633.5,618.3 1634.2,617.3 1635,618.1 1635.8,617.5 1636.6,616.4 1637.4,616.5 1638.2,616.4 1639,615.7 1639.8,615.9 1640.5,615.2 1641.3,615.8 1642.1,614.8 1642.9,614.6 1643.7,613.9 1644.5,613.6 1645.3,614 1646.1,612.9 1646.8,613.7 1647.6,614.2 1648.4,614.2 1649.2,612.7 1650,613.4 1650.8,613.8 1651.6,614 1652.4,614.3 1653.1,613.6 1653.9,614.5 1654.7,614.1 1655.5,615.2 1656.3,616.4 1657.1,615.6 1657.9,616.4 1658.6,616.7 1659.4,616.4 1660.2,617.4 1661,617.2 1661.8,617.9 1662.6,618.5 1663.4,618.2 1664.2,618.8 1664.9,618.2 1665.7,618.3 1666.5,618.7 1667.3,618.4 1668.1,618.4 1668.9,618.8 1669.7,618.3 1670.5,618.7 1671.2,618.3 1672,618.9 1672.8,618.5 1673.6,618.3 1674.4,618.8 1675.2,618.6 1676,618.6 1676.8,618.1 1677.5,618.6 1678.3,618.1 1679.1,617.6 1679.9,618 1680.7,618.7 1681.5,618 1682.3,617.6 1683,618.1 1683.8,617.5 1684.6,617.6 1685.4,617.6 1686.2,617.8 1687,617.9 1687.8,617.7 1688.6,617.5 1689.3,617.3 1690.1,617.2 1690.9,617.4 1691.7,617.2 1692.5,617 1693.3,617.7 1694.1,617.2 1694.9,617.1 1695.6,616.8 1696.4,616.7 1697.2,616.5 1698,616.6 1698.8,615.9 1699.6,615.9 1700.4,616.5 1701.1,615.7 1701.9,616 1702.7,614.7 1703.5,615.4 1704.3,615.2 1705.1,614.8 1705.9,614.7 1706.7,614.5 1707.4,613.7 1708.2,614 1709,613.5 1709.8,613 1710.6,613.5 1711.4,612.1 1712.2,612.1 1713,611.6 1713.7,611.8 1714.5,610.7 1715.3,610.4 1716.1,610.3 1716.9,608.7 1717.7,608.8 1718.5,608.6 1719.3,607.9 1720,607.1 1720.8,606.5 1721.6,606.2 1722.4,605.5 1723.2,604.9 1724,605.5 1724.8,604.7 1725.5,604.4 1726.3,603.6 1727.1,602.6 1727.9,602.4 1728.7,602.6 1729.5,601.8 1730.3,600.8 1731.1,601 1731.8,600.3 1732.6,599.7 1733.4,600 1734.2,598.5 1735,598.2 1735.8,597.6 1736.6,597.7 1737.4,597.1 1738.1,596.5 1738.9,595.7 1739.7,595.2 1740.5,594.7 1741.3,593.5 1742.1,593.2 1742.9,593.4 1743.7,592.9 1744.4,591.5 1745.2,591.8 1746,590.6 1746.8,590 1747.6,590.3 1748.4,589.6 1749.2,589 1749.9,588.8 1750.7,588.3 1751.5,587.5 1752.3,586.4 1753.1,586.3 1753.9,585.6 1754.7,585 1755.5,584.7 1756.2,582.9 1757,583.7 1757.8,582.3 1758.6,581 1759.4,580.9 1760.2,579.2 1761,578 1761.8,577.8 1762.5,576.3 1763.3,575.7 1764.1,573.9 1764.9,572.9 1765.7,571.7 1766.5,570 1767.3,569.2 1768.1,567.6 1768.8,566.7 1769.6,566.2 1770.4,564.4 1771.2,563.2 1772,562.8 1772.8,560.6 1773.6,560 1774.3,558.9 1775.1,558.4 1775.9,557.1 1776.7,556 1777.5,555.3 1778.3,554.2 1779.1,554.1 1779.9,551.8 1780.6,551.9 1781.4,551.4 1782.2,550 1783,549.1 1783.8,547.7 1784.6,547.3 1785.4,546 1786.2,545.6 1786.9,543.5 1787.7,543.3 1788.5,541.8 1789.3,542.1 1790.1,540.6 1790.9,540.4 1791.7,538.9 1792.5,538 1793.2,538.1 1794,537.1 1794.8,536.3 1795.6,535.6 1796.4,534.5 1797.2,533.8 1798,533.2 1798.7,531.8 1799.5,530.8 1800.3,530.7 1801.1,529.6 1801.9,528.5 1802.7,527.7 1803.5,527 1804.3,525.5 1805,524.5 1805.8,523.6 1806.6,522.9 1807.4,521 1808.2,520 1809,519.7 1809.8,518.5 1810.6,516.9 1811.3,516.5 1812.1,514.9 1812.9,513.9 1813.7,513.1 1814.5,511.8 1815.3,511.2 1816.1,509.7 1816.8,509.2 1817.6,506.5 1818.4,505.7 1819.2,504.7 1820,503.9 1820.8,502.5 1821.6,501.2 1822.4,500.2 1823.1,499.2 1823.9,498.8 1824.7,497.3 1825.5,496.7 1826.3,496 1827.1,495.2 1827.9,493.9 1828.7,493 1829.4,493.3 1830.2,491.6 1831,491.3 1831.8,491.5 1832.6,491.1 1833.4,490.6 1834.2,489.8 1835,490 1835.7,489.9 1836.5,489 1837.3,489.6 1838.1,488.5 1838.9,487.7 1839.7,487.8 1840.5,487.2 1841.2,487 1842,486.6 1842.8,486.5 1843.6,486.6 1844.4,486 1845.2,485.7 1846,484.9 1846.8,484.4 1847.5,484.6 1848.3,484.8 1849.1,484.5 1849.9,484 1850.7,483.1 1851.5,483.2 1852.3,483 1853.1,483 1853.8,482 1854.6,481.9 1855.4,481.6 1856.2,481.2 1857,480.2 1857.8,480.5 1858.6,479.4 1859.4,479.1 1860.1,479.2 1860.9,478.4 1861.7,478.4 1862.5,478.3 1863.3,477.7 1864.1,477.5 1864.9,476.6 1865.6,476.5 1866.4,475.9 1867.2,475.5 1868,476.7 1868.8,475 1869.6,475.5 1870.4,474.4 1871.2,474.5 1871.9,473.8 1872.7,473 1873.5,473.9 1874.3,472.9 1875.1,472.7 1875.9,473.1 1876.7,471.9 1877.5,471.8 1878.2,471.8 1879,471.6 1879.8,469.8 1880.6,471 1881.4,471.4 1882.2,470.8 1883,470.4 1883.8,470.2 1884.5,469.9 1885.3,470.1 1886.1,469.2 1886.9,469.4 1887.7,469.6 1888.5,469.1 1889.3,468.7 1890,468 1890.8,467.8 1891.6,467.8 1892.4,467.3 1893.2,466.8 1894,465.7 1894.8,466.3 1895.6,465.4 1896.3,464.8 1897.1,465 1897.9,464 1898.7,463.5 1899.5,463.2 1900.3,462.3 1901.1,461.7 1901.9,461.1 1902.6,461.2 1903.4,460.6 1904.2,459.4 1905,460.4 1905.8,459.6 1906.6,459 1907.4,459.1 1908.2,458.7 1908.9,458.8 1909.7,458.5 1910.5,458.2 1911.3,458.7 1912.1,458.5 1912.9,458.5 1913.7,458.6 1914.4,458.4 1915.2,458.8 1916,458 1916.8,457.6 1917.6,457.5 1918.4,457.6 1919.2,458.5 1920,457.5 1920.7,458.3 1921.5,458 1922.3,457.3 1923.1,458.4 1923.9,457.6 1924.7,457.8 1925.5,458 1926.3,458.2 1927,457.7 1927.8,458.1 1928.6,457.5 1929.4,457.5 1930.2,458.6 1931,458.4 1931.8,458.4 1932.6,458.9 1933.3,459 1934.1,458.7 1934.9,459 1935.7,459.7 1936.5,459.4 1937.3,459.2 1938.1,460 1938.8,460.1 1939.6,459.2 1940.4,459.5 1941.2,460.9 1942,461 1942.8,460.5 1943.6,461.4 1944.4,461.3 1945.1,461.6 1945.9,461.5 1946.7,463 1947.5,463.1 1948.3,462.9 1949.1,462.2 1949.9,462.7 1950.7,463.4 1951.4,462.6 1952.2,462.5 1953,462.9 1953.8,462.9 1954.6,462.5 1955.4,462.2 1956.2,462.5 1956.9,462.3 1957.7,462.5 1958.5,462.5 1959.3,462.6 1960.1,462.1 1960.9,462.2 1961.7,462.1 1962.5,461.5 1963.2,461.6 1964,461.3 1964.8,462.1 1965.6,461.1 1966.4,461.3 1967.2,461.1 1968,460.8 1968.8,459.7 1969.5,459.5 1970.3,459.8 1971.1,459.7 1971.9,458.9 1972.7,458.9 1973.5,457.8 1974.3,458.8 1975.1,458.7 1975.8,458 1976.6,457.8 1977.4,457.6 1978.2,457.3 1979,456.7 1979.8,457.6 1980.6,457.6 1981.3,458 1982.1,457.2 1982.9,456.9 1983.7,457.3 1984.5,456.6 1985.3,457 1986.1,456.4 1986.9,456.8 1987.6,457.3 1988.4,457 1989.2,457.3 1990,457.3 1990.8,456.5 1991.6,456.1 1992.4,455.6 1993.2,456.4 1993.9,456.4 1994.7,456.6 1995.5,455.7 1996.3,455.9 1997.1,456.3 1997.9,455.7 1998.7,455.7 1999.5,456.7 2000.2,455.7 2001,456.1 2001.8,456.6 2002.6,457.1" stroke="#e9708e" stroke-width="3"/>
<path d="M1491 310.3h0M1491.8 314.3h0M1492.6 319.5h0M1493.4 340.3h0M1494.1 355.1h0M1494.9 365.7h0M1495.7 385.4h0M1496.5 393.7h0M1497.3 407.8h0M1498.1 405h0M1498.9 415.3h0M1499.7 424.5h0M1500.4 431.9h0M1501.2 441.7h0M1502 449.8h0M1502.8 457.9h0M1503.6 471.5h0M1504.4 474.6h0M1505.2 490.3h0M1506 500.8h0M1506.7 501.3h0M1507.5 510.9h0M1508.3 512.1h0M1509.1 520h0M1509.9 528h0M1510.7 521h0M1511.5 527.4h0M1512.3 516.9h0M1513 519.7h0M1513.8 514.8h0M1514.6 498h0M1515.4 466.2h0M1516.2 465.2h0M1517 468h0M1517.8 459.5h0M1518.5 465.1h0M1519.3 461.3h0M1520.1 459.2h0M1520.9 453.7h0M1521.7 444.1h0M1522.5 442.5h0M1523.3 434.6h0M1524.1 437.6h0M1524.8 453.4h0M1525.6 456.5h0M1526.4 458.2h0M1527.2 462.9h0M1528 461.6h0M1528.8 458.4h0M1529.6 431.4h0M1530.4 416.8h0M1531.1 399.3h0M1531.9 376.5h0M1532.7 367h0M1533.5 376.1h0M1534.3 378.7h0M1535.1 382.1h0M1535.9 380.4h0M1536.7 385.9h0M1537.4 382.1h0M1538.2 398.3h0M1539 395.7h0M1539.8 393h0M1540.6 399.8h0M1541.4 392.9h0M1542.2 400.2h0M1542.9 394.9h0M1543.7 400.2h0M1544.5 398.4h0M1545.3 396.3h0M1546.1 398h0M1546.9 399.1h0M1547.7 391.4h0M1548.5 399.6h0M1549.2 402.7h0M1550 398h0M1550.8 399.6h0M1551.6 400.4h0M1552.4 406h0M1553.2 429.5h0M1554 438.6h0M1554.8 454.9h0M1555.5 466.2h0M1556.3 476.1h0M1557.1 487h0M1557.9 496h0M1558.7 503.9h0M1559.5 510.6h0M1560.3 515.9h0M1561 521.4h0M1561.8 526.2h0M1562.6 529.5h0M1563.4 533.9h0M1564.2 537.4h0M1565 541.3h0M1565.8 544.2h0M1566.6 547.3h0M1567.3 550h0M1568.1 552.3h0M1568.9 556h0M1569.7 558.5h0M1570.5 561.1h0M1571.3 564.9h0M1572.1 566.3h0M1572.9 568h0M1573.6 570h0M1574.4 572.6h0M1575.2 574.1h0M1576 576.3h0M1576.8 579.2h0M1577.6 580.8h0M1578.4 583h0M1579.2 585.9h0M1579.9 588.8h0M1580.7 590.1h0M1581.5 593h0M1582.3 595.3h0M1583.1 597.3h0M1583.9 599.6h0M1584.7 601h0M1585.4 602.9h0M1586.2 604.5h0M1587 606.4h0M1587.8 608.6h0M1588.6 609.9h0M1589.4 611.1h0M1590.2 613h0M1591 613.1h0M1591.7 615.7h0M1592.5 617.1h0M1593.3 617.6h0M1594.1 618.9h0M1594.9 620.2h0M1595.7 621.3h0M1596.5 622.1h0M1597.3 623h0M1598 624h0M1598.8 625.4h0M1599.6 626.1h0M1600.4 626.8h0M1601.2 627.6h0M1602 629.8h0M1602.8 629.5h0M1603.6 629.9h0M1604.3 629.9h0M1605.1 629.8h0M1605.9 629.5h0M1606.7 629.6h0M1607.5 629.7h0M1608.3 629.5h0M1609.1 628.6h0M1609.8 629.3h0M1610.6 628.7h0M1611.4 627.9h0M1612.2 628.1h0M1613 628.7h0M1613.8 627.5h0M1614.6 627.4h0M1615.4 627h0M1616.1 626.2h0M1616.9 626.1h0M1617.7 626.1h0M1618.5 625.3h0M1619.3 625.2h0M1620.1 625h0M1620.9 624.5h0M1621.7 624.1h0M1622.4 623.9h0M1623.2 623.6h0M1624 622.9h0M1624.8 622.9h0M1625.6 622.6h0M1626.4 621.1h0M1627.2 621.3h0M1628 620.7h0M1628.7 620.4h0M1629.5 619.9h0M1630.3 619.5h0M1631.1 619.1h0M1631.9 619h0M1632.7 618h0M1633.5 618.3h0M1634.2 617.3h0M1635 618.1h0M1635.8 617.5h0M1636.6 616.4h0M1637.4 616.5h0M1638.2 616.4h0M1639 615.7h0M1639.8 615.9h0M1640.5 615.2h0M1641.3 615.8h0M1642.1 614.8h0M1642.9 614.6h0M1643.7 613.9h0M1644.5 613.6h0M1645.3 614h0M1646.1 612.9h0M1646.8 613.7h0M1647.6 614.2h0M1648.4 614.2h0M1649.2 612.7h0M1650 613.4h0M1650.8 613.8h0M1651.6 614h0M1652.4 614.3h0M1653.1 613.6h0M1653.9 614.5h0M1654.7 614.1h0M1655.5 615.2h0M1656.3 616.4h0M1657.1 615.6h0M1657.9 616.4h0M1658.6 616.7h0M1659.4 616.4h0M1660.2 617.4h0M1661 617.2h0M1661.8 617.9h0M1662.6 618.5h0M1663.4 618.2h0M1664.2 618.8h0M1664.9 618.2h0M1665.7 618.3h0M1666.5 618.7h0M1667.3 618.4h0M1668.1 618.4h0M1668.9 618.8h0M1669.7 618.3h0M1670.5 618.7h0M1671.2 618.3h0M1672 618.9h0M1672.8 618.5h0M1673.6 618.3h0M1674.4 618.8h0M1675.2 618.6h0M1676 618.6h0M1676.8 618.1h0M1677.5 618.6h0M1678.3 618.1h0M1679.1 617.6h0M1679.9 618h0M1680.7 618.7h0M1681.5 618h0M1682.3 617.6h0M1683 618.1h0M1683.8 617.5h0M1684.6 617.6h0M1685.4 617.6h0M1686.2 617.8h0M1687 617.9h0M1687.8 617.7h0M1688.6 617.5h0M1689.3 617.3h0M1690.1 617.2h0M1690.9 617.4h0M1691.7 617.2h0M1692.5 617h0M1693.3 617.7h0M1694.1 617.2h0M1694.9 617.1h0M1695.6 616.8h0M1696.4 616.7h0M1697.2 616.5h0M1698 616.6h0M1698.8 615.9h0M1699.6 615.9h0M1700.4 616.5h0M1701.1 615.7h0M1701.9 616h0M1702.7 614.7h0M1703.5 615.4h0M1704.3 615.2h0M1705.1 614.8h0M1705.9 614.7h0M1706.7 614.5h0M1707.4 613.7h0M1708.2 614h0M1709 613.5h0M1709.8 613h0M1710.6 613.5h0M1711.4 612.1h0M1712.2 612.1h0M1713 611.6h0M1713.7 611.8h0M1714.5 610.7h0M1715.3 610.4h0M1716.1 610.3h0M1716.9 608.7h0M1717.7 608.8h0M1718.5 608.6h0M1719.3 607.9h0M1720 607.1h0M1720.8 606.5h0M1721.6 606.2h0M1722.4 605.5h0M1723.2 604.9h0M1724 605.5h0M1724.8 604.7h0M1725.5 604.4h0M1726.3 603.6h0M1727.1 602.6h0M1727.9 602.4h0M1728.7 602.6h0M1729.5 601.8h0M1730.3 600.8h0M1731.1 601h0M1731.8 600.3h0M1732.6 599.7h0M1733.4 600h0M1734.2 598.5h0M1735 598.2h0M1735.8 597.6h0M1736.6 597.7h0M1737.4 597.1h0M1738.1 596.5h0M1738.9 595.7h0M1739.7 595.2h0M1740.5 594.7h0M1741.3 593.5h0M1742.1 593.2h0M1742.9 593.4h0M1743.7 592.9h0M1744.4 591.5h0M1745.2 591.8h0M1746 590.6h0M1746.8 590h0M1747.6 590.3h0M1748.4 589.6h0M1749.2 589h0M1749.9 588.8h0M1750.7 588.3h0M1751.5 587.5h0M1752.3 586.4h0M1753.1 586.3h0M1753.9 585.6h0M1754.7 585h0M1755.5 584.7h0M1756.2 582.9h0M1757 583.7h0M1757.8 582.3h0M1758.6 581h0M1759.4 580.9h0M1760.2 579.2h0M1761 578h0M1761.8 577.8h0M1762.5 576.3h0M1763.3 575.7h0M1764.1 573.9h0M1764.9 572.9h0M1765.7 571.7h0M1766.5 570h0M1767.3 569.2h0M1768.1 567.6h0M1768.8 566.7h0M1769.6 566.2h0M1770.4 564.4h0M1771.2 563.2h0M1772 562.8h0M1772.8 560.6h0M1773.6 560h0M1774.3 558.9h0M1775.1 558.4h0M1775.9 557.1h0M1776.7 556h0M1777.5 555.3h0M1778.3 554.2h0M1779.1 554.1h0M1779.9 551.8h0M1780.6 551.9h0M1781.4 551.4h0M1782.2 550h0M1783 549.1h0M1783.8 547.7h0M1784.6 547.3h0M1785.4 546h0M1786.2 545.6h0M1786.9 543.5h0M1787.7 543.3h0M1788.5 541.8h0M1789.3 542.1h0M1790.1 540.6h0M1790.9 540.4h0M1791.7 538.9h0M1792.5 538h0M1793.2 538.1h0M1794 537.1h0M1794.8 536.3h0M1795.6 535.6h0M1796.4 534.5h0M1797.2 533.8h0M1798 533.2h0M1798.7 531.8h0M1799.5 530.8h0M1800.3 530.7h0M1801.1 529.6h0M1801.9 528.5h0M1802.7 527.7h0M1803.5 527h0M1804.3 525.5h0M1805 524.5h0M1805.8 523.6h0M1806.6 522.9h0M1807.4 521h0M1808.2 520h0M1809 519.7h0M1809.8 518.5h0M1810.6 516.9h0M1811.3 516.5h0M1812.1 514.9h0M1812.9 513.9h0M1813.7 513.1h0M1814.5 511.8h0M1815.3 511.2h0M1816.1 509.7h0M1816.8 509.2h0M1817.6 506.5h0M1818.4 505.7h0M1819.2 504.7h0M1820 503.9h0M1820.8 502.5h0M1821.6 501.2h0M1822.4 500.2h0M1823.1 499.2h0M1823.9 498.8h0M1824.7 497.3h0M1825.5 496.7h0M1826.3 496h0M1827.1 495.2h0M1827.9 493.9h0M1828.7 493h0M1829.4 493.3h0M1830.2 491.6h0M1831 491.3h0M1831.8 491.5h0M1832.6 491.1h0M1833.4 490.6h0M1834.2 489.8h0M1835 490h0M1835.7 489.9h0M1836.5 489h0M1837.3 489.6h0M1838.1 488.5h0M1838.9 487.7h0M1839.7 487.8h0M1840.5 487.2h0M1841.2 487h0M1842 486.6h0M1842.8 486.5h0M1843.6 486.6h0M1844.4 486h0M1845.2 485.7h0M1846 484.9h0M1846.8 484.4h0M1847.5 484.6h0M1848.3 484.8h0M1849.1 484.5h0M1849.9 484h0M1850.7 483.1h0M1851.5 483.2h0M1852.3 483h0M1853.1 483h0M1853.8 482h0M1854.6 481.9h0M1855.4 481.6h0M1856.2 481.2h0M1857 480.2h0M1857.8 480.5h0M1858.6 479.4h0M1859.4 479.1h0M1860.1 479.2h0M1860.9 478.4h0M1861.7 478.4h0M1862.5 478.3h0M1863.3 477.7h0M1864.1 477.5h0M1864.9 476.6h0M1865.6 476.5h0M1866.4 475.9h0M1867.2 475.5h0M1868 476.7h0M1868.8 475h0M1869.6 475.5h0M1870.4 474.4h0M1871.2 474.5h0M1871.9 473.8h0M1872.7 473h0M1873.5 473.9h0M1874.3 472.9h0M1875.1 472.7h0M1875.9 473.1h0M1876.7 471.9h0M1877.5 471.8h0M1878.2 471.8h0M1879 471.6h0M1879.8 469.8h0M1880.6 471h0M1881.4 471.4h0M1882.2 470.8h0M1883 470.4h0M1883.8 470.2h0M1884.5 469.9h0M1885.3 470.1h0M1886.1 469.2h0M1886.9 469.4h0M1887.7 469.6h0M1888.5 469.1h0M1889.3 468.7h0M1890 468h0M1890.8 467.8h0M1891.6 467.8h0M1892.4 467.3h0M1893.2 466.8h0M1894 465.7h0M1894.8 466.3h0M1895.6 465.4h0M1896.3 464.8h0M1897.1 465h0M1897.9 464h0M1898.7 463.5h0M1899.5 463.2h0M1900.3 462.3h0M1901.1 461.7h0M1901.9 461.1h0M1902.6 461.2h0M1903.4 460.6h0M1904.2 459.4h0M1905 460.4h0M1905.8 459.6h0M1906.6 459h0M1907.4 459.1h0M1908.2 458.7h0M1908.9 458.8h0M1909.7 458.5h0M1910.5 458.2h0M1911.3 458.7h0M1912.1 458.5h0M1912.9 458.5h0M1913.7 458.6h0M1914.4 458.4h0M1915.2 458.8h0M1916 458h0M1916.8 457.6h0M1917.6 457.5h0M1918.4 457.6h0M1919.2 458.5h0M1920 457.5h0M1920.7 458.3h0M1921.5 458h0M1922.3 457.3h0M1923.1 458.4h0M1923.9 457.6h0M1924.7 457.8h0M1925.5 458h0M1926.3 458.2h0M1927 457.7h0M1927.8 458.1h0M1928.6 457.5h0M1929.4 457.5h0M1930.2 458.6h0M1931 458.4h0M1931.8 458.4h0M1932.6 458.9h0M1933.3 459h0M1934.1 458.7h0M1934.9 459h0M1935.7 459.7h0M1936.5 459.4h0M1937.3 459.2h0M1938.1 460h0M1938.8 460.1h0M1939.6 459.2h0M1940.4 459.5h0M1941.2 460.9h0M1942 461h0M1942.8 460.5h0M1943.6 461.4h0M1944.4 461.3h0M1945.1 461.6h0M1945.9 461.5h0M1946.7 463h0M1947.5 463.1h0M1948.3 462.9h0M1949.1 462.2h0M1949.9 462.7h0M1950.7 463.4h0M1951.4 462.6h0M1952.2 462.5h0M1953 462.9h0M1953.8 462.9h0M1954.6 462.5h0M1955.4 462.2h0M1956.2 462.5h0M1956.9 462.3h0M1957.7 462.5h0M1958.5 462.5h0M1959.3 462.6h0M1960.1 462.1h0M1960.9 462.2h0M1961.7 462.1h0M1962.5 461.5h0M1963.2 461.6h0M1964 461.3h0M1964.8 462.1h0M1965.6 461.1h0M1966.4 461.3h0M1967.2 461.1h0M1968 460.8h0M1968.8 459.7h0M1969.5 459.5h0M1970.3 459.8h0M1971.1 459.7h0M1971.9 458.9h0M1972.7 458.9h0M1973.5 457.8h0M1974.3 458.8h0M1975.1 458.7h0M1975.8 458h0M1976.6 457.8h0M1977.4 457.6h0M1978.2 457.3h0M1979 456.7h0M1979.8 457.6h0M1980.6 457.6h0M1981.3 458h0M1982.1 457.2h0M1982.9 456.9h0M1983.7 457.3h0M1984.5 456.6h0M1985.3 457h0M1986.1 456.4h0M1986.9 456.8h0M1987.6 457.3h0M1988.4 457h0M1989.2 457.3h0M1990 457.3h0M1990.8 456.5h0M1991.6 456.1h0M1992.4 455.6h0M1993.2 456.4h0M1993.9 456.4h0M1994.7 456.6h0M1995.5 455.7h0M1996.3 455.9h0M1997.1 456.3h0M1997.9 455.7h0M1998.7 455.7h0M1999.5 456.7h0M2000.2 455.7h0M2001 456.1h0M2001.8 456.6h0M2002.6 457.1h0" stroke="#e9708e" stroke-width="10.4"/>
<polyline points="1491,384.1 1491.8,377.7 1492.6,369.8 1493.4,362.7 1494.1,352.6 1494.9,341.5 1495.7,331.2 1496.5,316.3 1497.3,300.7 1498.1,286.6 1498.9,273.9 1499.7,263.4 1500.4,251.9 1501.2,242 1502,234 1502.8,225.4 1503.6,217.5 1504.4,212.1 1505.2,207.8 1506,204.8 1506.7,200.2 1507.5,196.9 1508.3,194.9 1509.1,193.3 1509.9,190.8 1510.7,190.9 1511.5,190.1 1512.3,188.8 1513,188.3 1513.8,187.9 1514.6,187.7 1515.4,187.9 1516.2,189.7 1517,192.7 1517.8,195.3 1518.5,198.5 1519.3,202.8 1520.1,208.5 1520.9,216.4 1521.7,224.9 1522.5,230.8 1523.3,236 1524.1,241.7 1524.8,247.9 1525.6,253.4 1526.4,260.2 1527.2,267.5 1528,274.1 1528.8,282 1529.6,289.7 1530.4,297.7 1531.1,305.2 1531.9,313.1 1532.7,320.4 1533.5,327.8 1534.3,335.5 1535.1,342.2 1535.9,350 1536.7,356.1 1537.4,361.6 1538.2,367.7 1539,374.7 1539.8,381.3 1540.6,388.4 1541.4,394.5 1542.2,401.2 1542.9,408.9 1543.7,415.1 1544.5,422.2 1545.3,429.9 1546.1,438 1546.9,444 1547.7,450.3 1548.5,454 1549.2,459.8 1550,466.5 1550.8,472.3 1551.6,479.2 1552.4,486.4 1553.2,491.1 1554,497.8 1554.8,502.5 1555.5,507.1 1556.3,513.3 1557.1,516.8 1557.9,522 1558.7,526.8 1559.5,532.1 1560.3,536.6 1561,542.1 1561.8,547.1 1562.6,551.7 1563.4,556.8 1564.2,560.4 1565,565.9 1565.8,570 1566.6,573.9 1567.3,577.8 1568.1,581.4 1568.9,585.2 1569.7,589.4 1570.5,593.2 1571.3,596.7 1572.1,600 1572.9,603.6 1573.6,607.7 1574.4,611.8 1575.2,613.5 1576,617.3 1576.8,620.7 1577.6,623.7 1578.4,627 1579.2,630.1 1579.9,632.6 1580.7,635.3 1581.5,638.1 1582.3,640.8 1583.1,642.6 1583.9,644.4 1584.7,646.7 1585.4,648.4 1586.2,651.1 1587,652.2 1587.8,653.8 1588.6,655.9 1589.4,657.6 1590.2,658.1 1591,659.7 1591.7,660.2 1592.5,661.4 1593.3,661.6 1594.1,662.7 1594.9,663.8 1595.7,663.8 1596.5,664.4 1597.3,664.5 1598,665.3 1598.8,665.6 1599.6,665.3 1600.4,665.2 1601.2,665.3 1602,665 1602.8,664.8 1603.6,664.2 1604.3,663.5 1605.1,663.1 1605.9,662.5 1606.7,661.6 1607.5,660 1608.3,660.1 1609.1,659.4 1609.8,658.7 1610.6,657.9 1611.4,657.2 1612.2,657.2 1613,656.9 1613.8,655.5 1614.6,655.7 1615.4,654.4 1616.1,653.9 1616.9,653 1617.7,652.2 1618.5,652.2 1619.3,652 1620.1,651.7 1620.9,651.1 1621.7,650.2 1622.4,650.5 1623.2,649.2 1624,648.7 1624.8,647.9 1625.6,647.8 1626.4,647 1627.2,646.8 1628,646.1 1628.7,646.1 1629.5,644.8 1630.3,643.8 1631.1,643.9 1631.9,643.4 1632.7,643.5 1633.5,642.3 1634.2,642.9 1635,642.1 1635.8,642.2 1636.6,642.4 1637.4,641.5 1638.2,641.7 1639,641.5 1639.8,641.2 1640.5,641.3 1641.3,641.3 1642.1,640.8 1642.9,641.1 1643.7,640.8 1644.5,641 1645.3,641.3 1646.1,640.9 1646.8,640.9 1647.6,640.7 1648.4,640.4 1649.2,641.7 1650,641.2 1650.8,642.4 1651.6,642.2 1652.4,642.4 1653.1,643.4 1653.9,643.7 1654.7,643.3 1655.5,643.7 1656.3,644.2 1657.1,644.9 1657.9,644.1 1658.6,645.3 1659.4,645.9 1660.2,645.2 1661,645.9 1661.8,646.6 1662.6,646.3 1663.4,647 1664.2,647.2 1664.9,647.7 1665.7,648.5 1666.5,648 1667.3,648.6 1668.1,649.4 1668.9,649.6 1669.7,649.2 1670.5,650 1671.2,650.1 1672,650 1672.8,650.4 1673.6,651.3 1674.4,650.6 1675.2,650.6 1676,650.7 1676.8,650.5 1677.5,651 1678.3,650.9 1679.1,650.7 1679.9,651.5 1680.7,650.7 1681.5,650.8 1682.3,651.2 1683,650.9 1683.8,651.3 1684.6,652 1685.4,651.3 1686.2,651.7 1687,651.7 1687.8,651.8 1688.6,651.4 1689.3,651.7 1690.1,652.2 1690.9,651.8 1691.7,651.7 1692.5,652.3 1693.3,652.2 1694.1,652.2 1694.9,652.3 1695.6,652 1696.4,651.7 1697.2,651.4 1698,651.6 1698.8,651.7 1699.6,651.6 1700.4,651.5 1701.1,652.1 1701.9,651.6 1702.7,651.6 1703.5,651.7 1704.3,651.7 1705.1,651.6 1705.9,651.4 1706.7,651.6 1707.4,650.8 1708.2,650.8 1709,650.6 1709.8,650.3 1710.6,650 1711.4,650.3 1712.2,649.9 1713,650.3 1713.7,650.3 1714.5,650 1715.3,648.4 1716.1,649.4 1716.9,648.2 1717.7,647.4 1718.5,647.7 1719.3,646.3 1720,645.7 1720.8,645.4 1721.6,644.2 1722.4,644.2 1723.2,644 1724,642.7 1724.8,642.4 1725.5,641.9 1726.3,641.2 1727.1,639 1727.9,639.4 1728.7,638.4 1729.5,637.9 1730.3,636.9 1731.1,636.2 1731.8,635.5 1732.6,634.9 1733.4,634.2 1734.2,633 1735,631.8 1735.8,630.2 1736.6,629.6 1737.4,628.4 1738.1,628 1738.9,627.3 1739.7,626.8 1740.5,625.4 1741.3,625.3 1742.1,623.6 1742.9,621.9 1743.7,621.4 1744.4,620.2 1745.2,619.8 1746,619.2 1746.8,618 1747.6,617 1748.4,615.4 1749.2,614.2 1749.9,614.3 1750.7,613.2 1751.5,612.2 1752.3,611.3 1753.1,610.7 1753.9,609.2 1754.7,608.1 1755.5,607.1 1756.2,606.7 1757,605.3 1757.8,604.8 1758.6,602.7 1759.4,602.4 1760.2,601 1761,600 1761.8,598.9 1762.5,597.9 1763.3,596.9 1764.1,594.3 1764.9,593.5 1765.7,592.2 1766.5,590.1 1767.3,589.5 1768.1,587.9 1768.8,586.6 1769.6,584.7 1770.4,583.5 1771.2,582.1 1772,580.9 1772.8,579.2 1773.6,577.4 1774.3,577.2 1775.1,574.9 1775.9,573.6 1776.7,572.2 1777.5,571.4 1778.3,569 1779.1,568.3 1779.9,566.7 1780.6,565.4 1781.4,564.5 1782.2,562.7 1783,561.9 1783.8,560.2 1784.6,558.6 1785.4,557.2 1786.2,555.8 1786.9,554.6 1787.7,552.4 1788.5,551.8 1789.3,551.2 1790.1,549.8 1790.9,548.6 1791.7,547.2 1792.5,546.2 1793.2,545.2 1794,543.2 1794.8,542.7 1795.6,541.8 1796.4,540.8 1797.2,539.8 1798,538.2 1798.7,537.5 1799.5,536.3 1800.3,537 1801.1,534.6 1801.9,533.4 1802.7,532 1803.5,531.8 1804.3,531.4 1805,529.5 1805.8,528.8 1806.6,528.2 1807.4,526.7 1808.2,524.9 1809,523.8 1809.8,522.9 1810.6,522.4 1811.3,519.9 1812.1,520.3 1812.9,518.8 1813.7,518.2 1814.5,516 1815.3,515.3 1816.1,514 1816.8,513.3 1817.6,512.3 1818.4,511.1 1819.2,510.9 1820,508.7 1820.8,507.6 1821.6,507.1 1822.4,505.9 1823.1,504.7 1823.9,503.2 1824.7,502.6 1825.5,501.8 1826.3,501 1827.1,500.4 1827.9,499 1828.7,497.8 1829.4,497 1830.2,495.9 1831,494.7 1831.8,493.9 1832.6,493 1833.4,491.9 1834.2,491.2 1835,490.3 1835.7,489.2 1836.5,489.2 1837.3,487.2 1838.1,487.4 1838.9,485.7 1839.7,485.3 1840.5,484.1 1841.2,483.9 1842,483.6 1842.8,482.2 1843.6,481.9 1844.4,481.3 1845.2,480.8 1846,479.9 1846.8,479.4 1847.5,479.1 1848.3,479.3 1849.1,478.3 1849.9,477.6 1850.7,476.5 1851.5,476.5 1852.3,476.2 1853.1,475.3 1853.8,475.3 1854.6,474.8 1855.4,474.3 1856.2,474.5 1857,473.1 1857.8,472.9 1858.6,472.7 1859.4,472.6 1860.1,471.7 1860.9,470.8 1861.7,471.2 1862.5,471 1863.3,470 1864.1,470.5 1864.9,470.3 1865.6,469.3 1866.4,469 1867.2,468.5 1868,468.3 1868.8,467.7 1869.6,467.6 1870.4,467.4 1871.2,467 1871.9,466.3 1872.7,465.9 1873.5,465.6 1874.3,465.4 1875.1,466.7 1875.9,465.5 1876.7,465 1877.5,464.5 1878.2,465 1879,463.5 1879.8,463.7 1880.6,463.8 1881.4,463.2 1882.2,463.2 1883,463.1 1883.8,462.3 1884.5,462.4 1885.3,462.6 1886.1,462 1886.9,461.6 1887.7,461.8 1888.5,460.6 1889.3,461.3 1890,460 1890.8,460.2 1891.6,460.7 1892.4,460.1 1893.2,459.4 1894,459.8 1894.8,459.9 1895.6,459.2 1896.3,458.3 1897.1,459.4 1897.9,458.4 1898.7,458.4 1899.5,458.3 1900.3,458.2 1901.1,458 1901.9,457.3 1902.6,457.3 1903.4,457.8 1904.2,456.7 1905,457.7 1905.8,456.8 1906.6,456.9 1907.4,456.5 1908.2,456.8 1908.9,456.5 1909.7,456.9 1910.5,456.5 1911.3,456.8 1912.1,456.1 1912.9,457.3 1913.7,456.6 1914.4,456.9 1915.2,457.1 1916,457.4 1916.8,457.1 1917.6,457.9 1918.4,457.9 1919.2,457.2 1920,458.1 1920.7,457 1921.5,457.8 1922.3,457.6 1923.1,457.8 1923.9,457.7 1924.7,458.1 1925.5,458.2 1926.3,458.1 1927,457.8 1927.8,457.8 1928.6,457.8 1929.4,458.2 1930.2,458.5 1931,459.2 1931.8,458.4 1932.6,458.4 1933.3,459 1934.1,458.6 1934.9,458.5 1935.7,459 1936.5,458.8 1937.3,459.1 1938.1,460 1938.8,459.6 1939.6,459.7 1940.4,459.4 1941.2,460.1 1942,460 1942.8,460.3 1943.6,460 1944.4,460 1945.1,459.8 1945.9,459.9 1946.7,460.2 1947.5,460.3 1948.3,460.4 1949.1,460.4 1949.9,459.9 1950.7,461.5 1951.4,460.7 1952.2,460.5 1953,460.2 1953.8,461.1 1954.6,460.6 1955.4,460.4 1956.2,461 1956.9,461.6 1957.7,461 1958.5,461.4 1959.3,460.7 1960.1,461.3 1960.9,460.3 1961.7,461 1962.5,461.4 1963.2,461.3 1964,461.5 1964.8,461 1965.6,460.6 1966.4,461.2 1967.2,460.8 1968,461.6 1968.8,461.1 1969.5,460.3 1970.3,461.8 1971.1,460.8 1971.9,460.8 1972.7,462 1973.5,461.8 1974.3,461.7 1975.1,460.9 1975.8,461.5 1976.6,461.4 1977.4,461 1978.2,461.2 1979,461.1 1979.8,461.3 1980.6,460.7 1981.3,461.4 1982.1,460.4 1982.9,461.2 1983.7,461.3 1984.5,460.7 1985.3,460.7 1986.1,461.6 1986.9,460.7 1987.6,461.3 1988.4,461 1989.2,460.3 1990,460.9 1990.8,460.4 1991.6,460.6 1992.4,459.6 1993.2,460.4 1993.9,460.8 1994.7,460.7 1995.5,460.6 1996.3,460.1 1997.1,460.2 1997.9,459.8 1998.7,460.1 1999.5,460.1 2000.2,460 2001,460.3 2001.8,460.4 2002.6,460.5" stroke="#000000" stroke-width="3"/>
<path d="M1491 384.1h0M1491.8 377.7h0M1492.6 369.8h0M1493.4 362.7h0M1494.1 352.6h0M1494.9 341.5h0M1495.7 331.2h0M1496.5 316.3h0M1497.3 300.7h0M1498.1 286.6h0M1498.9 273.9h0M1499.7 263.4h0M1500.4 251.9h0M1501.2 242h0M1502 234h0M1502.8 225.4h0M1503.6 217.5h0M1504.4 212.1h0M1505.2 207.8h0M1506 204.8h0M1506.7 200.2h0M1507.5 196.9h0M1508.3 194.9h0M1509.1 193.3h0M1509.9 190.8h0M1510.7 190.9h0M1511.5 190.1h0M1512.3 188.8h0M1513 188.3h0M1513.8 187.9h0M1514.6 187.7h0M1515.4 187.9h0M1516.2 189.7h0M1517 192.7h0M1517.8 195.3h0M1518.5 198.5h0M1519.3 202.8h0M1520.1 208.5h0M1520.9 216.4h0M1521.7 224.9h0M1522.5 230.8h0M1523.3 236h0M1524.1 241.7h0M1524.8 247.9h0M1525.6 253.4h0M1526.4 260.2h0M1527.2 267.5h0M1528 274.1h0M1528.8 282h0M1529.6 289.7h0M1530.4 297.7h0M1531.1 305.2h0M1531.9 313.1h0M1532.7 320.4h0M1533.5 327.8h0M1534.3 335.5h0M1535.1 342.2h0M1535.9 350h0M1536.7 356.1h0M1537.4 361.6h0M1538.2 367.7h0M1539 374.7h0M1539.8 381.3h0M1540.6 388.4h0M1541.4 394.5h0M1542.2 401.2h0M1542.9 408.9h0M1543.7 415.1h0M1544.5 422.2h0M1545.3 429.9h0M1546.1 438h0M1546.9 444h0M1547.7 450.3h0M1548.5 454h0M1549.2 459.8h0M1550 466.5h0M1550.8 472.3h0M1551.6 479.2h0M1552.4 486.4h0M1553.2 491.1h0M1554 497.8h0M1554.8 502.5h0M1555.5 507.1h0M1556.3 513.3h0M1557.1 516.8h0M1557.9 522h0M1558.7 526.8h0M1559.5 532.1h0M1560.3 536.6h0M1561 542.1h0M1561.8 547.1h0M1562.6 551.7h0M1563.4 556.8h0M1564.2 560.4h0M1565 565.9h0M1565.8 570h0M1566.6 573.9h0M1567.3 577.8h0M1568.1 581.4h0M1568.9 585.2h0M1569.7 589.4h0M1570.5 593.2h0M1571.3 596.7h0M1572.1 600h0M1572.9 603.6h0M1573.6 607.7h0M1574.4 611.8h0M1575.2 613.5h0M1576 617.3h0M1576.8 620.7h0M1577.6 623.7h0M1578.4 627h0M1579.2 630.1h0M1579.9 632.6h0M1580.7 635.3h0M1581.5 638.1h0M1582.3 640.8h0M1583.1 642.6h0M1583.9 644.4h0M1584.7 646.7h0M1585.4 648.4h0M1586.2 651.1h0M1587 652.2h0M1587.8 653.8h0M1588.6 655.9h0M1589.4 657.6h0M1590.2 658.1h0M1591 659.7h0M1591.7 660.2h0M1592.5 661.4h0M1593.3 661.6h0M1594.1 662.7h0M1594.9 663.8h0M1595.7 663.8h0M1596.5 664.4h0M1597.3 664.5h0M1598 665.3h0M1598.8 665.6h0M1599.6 665.3h0M1600.4 665.2h0M1601.2 665.3h0M1602 665h0M1602.8 664.8h0M1603.6 664.2h0M1604.3 663.5h0M1605.1 663.1h0M1605.9 662.5h0M1606.7 661.6h0M1607.5 660h0M1608.3 660.1h0M1609.1 659.4h0M1609.8 658.7h0M1610.6 657.9h0M1611.4 657.2h0M1612.2 657.2h0M1613 656.9h0M1613.8 655.5h0M1614.6 655.7h0M1615.4 654.4h0M1616.1 653.9h0M1616.9 653h0M1617.7 652.2h0M1618.5 652.2h0M1619.3 652h0M1620.1 651.7h0M1620.9 651.1h0M1621.7 650.2h0M1622.4 650.5h0M1623.2 649.2h0M1624 648.7h0M1624.8 647.9h0M1625.6 647.8h0M1626.4 647h0M1627.2 646.8h0M1628 646.1h0M1628.7 646.1h0M1629.5 644.8h0M1630.3 643.8h0M1631.1 643.9h0M1631.9 643.4h0M1632.7 643.5h0M1633.5 642.3h0M1634.2 642.9h0M1635 642.1h0M1635.8 642.2h0M1636.6 642.4h0M1637.4 641.5h0M1638.2 641.7h0M1639 641.5h0M1639.8 641.2h0M1640.5 641.3h0M1641.3 641.3h0M1642.1 640.8h0M1642.9 641.1h0M1643.7 640.8h0M1644.5 641h0M1645.3 641.3h0M1646.1 640.9h0M1646.8 640.9h0M1647.6 640.7h0M1648.4 640.4h0M1649.2 641.7h0M1650 641.2h0M1650.8 642.4h0M1651.6 642.2h0M1652.4 642.4h0M1653.1 643.4h0M1653.9 643.7h0M1654.7 643.3h0M1655.5 643.7h0M1656.3 644.2h0M1657.1 644.9h0M1657.9 644.1h0M1658.6 645.3h0M1659.4 645.9h0M1660.2 645.2h0M1661 645.9h0M1661.8 646.6h0M1662.6 646.3h0M1663.4 647h0M1664.2 647.2h0M1664.9 647.7h0M1665.7 648.5h0M1666.5 648h0M1667.3 648.6h0M1668.1 649.4h0M1668.9 649.6h0M1669.7 649.2h0M1670.5 650h0M1671.2 650.1h0M1672 650h0M1672.8 650.4h0M1673.6 651.3h0M1674.4 650.6h0M1675.2 650.6h0M1676 650.7h0M1676.8 650.5h0M1677.5 651h0M1678.3 650.9h0M1679.1 650.7h0M1679.9 651.5h0M1680.7 650.7h0M1681.5 650.8h0M1682.3 651.2h0M1683 650.9h0M1683.8 651.3h0M1684.6 652h0M1685.4 651.3h0M1686.2 651.7h0M1687 651.7h0M1687.8 651.8h0M1688.6 651.4h0M1689.3 651.7h0M1690.1 652.2h0M1690.9 651.8h0M1691.7 651.7h0M1692.5 652.3h0M1693.3 652.2h0M1694.1 652.2h0M1694.9 652.3h0M1695.6 652h0M1696.4 651.7h0M1697.2 651.4h0M1698 651.6h0M1698.8 651.7h0M1699.6 651.6h0M1700.4 651.5h0M1701.1 652.1h0M1701.9 651.6h0M1702.7 651.6h0M1703.5 651.7h0M1704.3 651.7h0M1705.1 651.6h0M1705.9 651.4h0M1706.7 651.6h0M1707.4 650.8h0M1708.2 650.8h0M1709 650.6h0M1709.8 650.3h0M1710.6 650h0M1711.4 650.3h0M1712.2 649.9h0M1713 650.3h0M1713.7 650.3h0M1714.5 650h0M1715.3 648.4h0M1716.1 649.4h0M1716.9 648.2h0M1717.7 647.4h0M1718.5 647.7h0M1719.3 646.3h0M1720 645.7h0M1720.8 645.4h0M1721.6 644.2h0M1722.4 644.2h0M1723.2 644h0M1724 642.7h0M1724.8 642.4h0M1725.5 641.9h0M1726.3 641.2h0M1727.1 639h0M1727.9 639.4h0M1728.7 638.4h0M1729.5 637.9h0M1730.3 636.9h0M1731.1 636.2h0M1731.8 635.5h0M1732.6 634.9h0M1733.4 634.2h0M1734.2 633h0M1735 631.8h0M1735.8 630.2h0M1736.6 629.6h0M1737.4 628.4h0M1738.1 628h0M1738.9 627.3h0M1739.7 626.8h0M1740.5 625.4h0M1741.3 625.3h0M1742.1 623.6h0M1742.9 621.9h0M1743.7 621.4h0M1744.4 620.2h0M1745.2 619.8h0M1746 619.2h0M1746.8 618h0M1747.6 617h0M1748.4 615.4h0M1749.2 614.2h0M1749.9 614.3h0M1750.7 613.2h0M1751.5 612.2h0M1752.3 611.3h0M1753.1 610.7h0M1753.9 609.2h0M1754.7 608.1h0M1755.5 607.1h0M1756.2 606.7h0M1757 605.3h0M1757.8 604.8h0M1758.6 602.7h0M1759.4 602.4h0M1760.2 601h0M1761 600h0M1761.8 598.9h0M1762.5 597.9h0M1763.3 596.9h0M1764.1 594.3h0M1764.9 593.5h0M1765.7 592.2h0M1766.5 590.1h0M1767.3 589.5h0M1768.1 587.9h0M1768.8 586.6h0M1769.6 584.7h0M1770.4 583.5h0M1771.2 582.1h0M1772 580.9h0M1772.8 579.2h0M1773.6 577.4h0M1774.3 577.2h0M1775.1 574.9h0M1775.9 573.6h0M1776.7 572.2h0M1777.5 571.4h0M1778.3 569h0M1779.1 568.3h0M1779.9 566.7h0M1780.6 565.4h0M1781.4 564.5h0M1782.2 562.7h0M1783 561.9h0M1783.8 560.2h0M1784.6 558.6h0M1785.4 557.2h0M1786.2 555.8h0M1786.9 554.6h0M1787.7 552.4h0M1788.5 551.8h0M1789.3 551.2h0M1790.1 549.8h0M1790.9 548.6h0M1791.7 547.2h0M1792.5 546.2h0M1793.2 545.2h0M1794 543.2h0M1794.8 542.7h0M1795.6 541.8h0M1796.4 540.8h0M1797.2 539.8h0M1798 538.2h0M1798.7 537.5h0M1799.5 536.3h0M1800.3 537h0M1801.1 534.6h0M1801.9 533.4h0M1802.7 532h0M1803.5 531.8h0M1804.3 531.4h0M1805 529.5h0M1805.8 528.8h0M1806.6 528.2h0M1807.4 526.7h0M1808.2 524.9h0M1809 523.8h0M1809.8 522.9h0M1810.6 522.4h0M1811.3 519.9h0M1812.1 520.3h0M1812.9 518.8h0M1813.7 518.2h0M1814.5 516h0M1815.3 515.3h0M1816.1 514h0M1816.8 513.3h0M1817.6 512.3h0M1818.4 511.1h0M1819.2 510.9h0M1820 508.7h0M1820.8 507.6h0M1821.6 507.1h0M1822.4 505.9h0M1823.1 504.7h0M1823.9 503.2h0M1824.7 502.6h0M1825.5 501.8h0M1826.3 501h0M1827.1 500.4h0M1827.9 499h0M1828.7 497.8h0M1829.4 497h0M1830.2 495.9h0M1831 494.7h0M1831.8 493.9h0M1832.6 493h0M1833.4 491.9h0M1834.2 491.2h0M1835 490.3h0M1835.7 489.2h0M1836.5 489.2h0M1837.3 487.2h0M1838.1 487.4h0M1838.9 485.7h0M1839.7 485.3h0M1840.5 484.1h0M1841.2 483.9h0M1842 483.6h0M1842.8 482.2h0M1843.6 481.9h0M1844.4 481.3h0M1845.2 480.8h0M1846 479.9h0M1846.8 479.4h0M1847.5 479.1h0M1848.3 479.3h0M1849.1 478.3h0M1849.9 477.6h0M1850.7 476.5h0M1851.5 476.5h0M1852.3 476.2h0M1853.1 475.3h0M1853.8 475.3h0M1854.6 474.8h0M1855.4 474.3h0M1856.2 474.5h0M1857 473.1h0M1857.8 472.9h0M1858.6 472.7h0M1859.4 472.6h0M1860.1 471.7h0M1860.9 470.8h0M1861.7 471.2h0M1862.5 471h0M1863.3 470h0M1864.1 470.5h0M1864.9 470.3h0M1865.6 469.3h0M1866.4 469h0M1867.2 468.5h0M1868 468.3h0M1868.8 467.7h0M1869.6 467.6h0M1870.4 467.4h0M1871.2 467h0M1871.9 466.3h0M1872.7 465.9h0M1873.5 465.6h0M1874.3 465.4h0M1875.1 466.7h0M1875.9 465.5h0M1876.7 465h0M1877.5 464.5h0M1878.2 465h0M1879 463.5h0M1879.8 463.7h0M1880.6 463.8h0M1881.4 463.2h0M1882.2 463.2h0M1883 463.1h0M1883.8 462.3h0M1884.5 462.4h0M1885.3 462.6h0M1886.1 462h0M1886.9 461.6h0M1887.7 461.8h0M1888.5 460.6h0M1889.3 461.3h0M1890 460h0M1890.8 460.2h0M1891.6 460.7h0M1892.4 460.1h0M1893.2 459.4h0M1894 459.8h0M1894.8 459.9h0M1895.6 459.2h0M1896.3 458.3h0M1897.1 459.4h0M1897.9 458.4h0M1898.7 458.4h0M1899.5 458.3h0M1900.3 458.2h0M1901.1 458h0M1901.9 457.3h0M1902.6 457.3h0M1903.4 457.8h0M1904.2 456.7h0M1905 457.7h0M1905.8 456.8h0M1906.6 456.9h0M1907.4 456.5h0M1908.2 456.8h0M1908.9 456.5h0M1909.7 456.9h0M1910.5 456.5h0M1911.3 456.8h0M1912.1 456.1h0M1912.9 457.3h0M1913.7 456.6h0M1914.4 456.9h0M1915.2 457.1h0M1916 457.4h0M1916.8 457.1h0M1917.6 457.9h0M1918.4 457.9h0M1919.2 457.2h0M1920 458.1h0M1920.7 457h0M1921.5 457.8h0M1922.3 457.6h0M1923.1 457.8h0M1923.9 457.7h0M1924.7 458.1h0M1925.5 458.2h0M1926.3 458.1h0M1927 457.8h0M1927.8 457.8h0M1928.6 457.8h0M1929.4 458.2h0M1930.2 458.5h0M1931 459.2h0M1931.8 458.4h0M1932.6 458.4h0M1933.3 459h0M1934.1 458.6h0M1934.9 458.5h0M1935.7 459h0M1936.5 458.8h0M1937.3 459.1h0M1938.1 460h0M1938.8 459.6h0M1939.6 459.7h0M1940.4 459.4h0M1941.2 460.1h0M1942 460h0M1942.8 460.3h0M1943.6 460h0M1944.4 460h0M1945.1 459.8h0M1945.9 459.9h0M1946.7 460.2h0M1947.5 460.3h0M1948.3 460.4h0M1949.1 460.4h0M1949.9 459.9h0M1950.7 461.5h0M1951.4 460.7h0M1952.2 460.5h0M1953 460.2h0M1953.8 461.1h0M1954.6 460.6h0M1955.4 460.4h0M1956.2 461h0M1956.9 461.6h0M1957.7 461h0M1958.5 461.4h0M1959.3 460.7h0M1960.1 461.3h0M1960.9 460.3h0M1961.7 461h0M1962.5 461.4h0M1963.2 461.3h0M1964 461.5h0M1964.8 461h0M1965.6 460.6h0M1966.4 461.2h0M1967.2 460.8h0M1968 461.6h0M1968.8 461.1h0M1969.5 460.3h0M1970.3 461.8h0M1971.1 460.8h0M1971.9 460.8h0M1972.7 462h0M1973.5 461.8h0M1974.3 461.7h0M1975.1 460.9h0M1975.8 461.5h0M1976.6 461.4h0M1977.4 461h0M1978.2 461.2h0M1979 461.1h0M1979.8 461.3h0M1980.6 460.7h0M1981.3 461.4h0M1982.1 460.4h0M1982.9 461.2h0M1983.7 461.3h0M1984.5 460.7h0M1985.3 460.7h0M1986.1 461.6h0M1986.9 460.7h0M1987.6 461.3h0M1988.4 461h0M1989.2 460.3h0M1990 460.9h0M1990.8 460.4h0M1991.6 460.6h0M1992.4 459.6h0M1993.2 460.4h0M1993.9 460.8h0M1994.7 460.7h0M1995.5 460.6h0M1996.3 460.1h0M1997.1 460.2h0M1997.9 459.8h0M1998.7 460.1h0M1999.5 460.1h0M2000.2 460h0M2001 460.3h0M2001.8 460.4h0M2002.6 460.5h0" stroke="#000000" stroke-width="10.4"/>
</g>
<rect x="1491" y="120.7" width="511.6" height="635.3" fill="none" stroke="#000" stroke-width="2.1"/>
<line x1="1530.4" y1="756" x2="1530.4" y2="765" stroke="#000" stroke-width="2.1"/>
<text x="1530.4" y="790" text-anchor="middle" font-family="'DejaVu Sans', sans-serif" font-size="27.6">200</text>
<line x1="1609.1" y1="756" x2="1609.1" y2="765" stroke="#000" stroke-width="2.1"/>
<text x="1609.1" y="790" text-anchor="middle" font-family="'DejaVu Sans', sans-serif" font-size="27.6">210</text>
<line x1="1687.8" y1="756" x2="1687.8" y2="765" stroke="#000" stroke-width="2.1"/>
<text x="1687.8" y="790" text-anchor="middle" font-family="'DejaVu Sans', sans-serif" font-size="27.6">220</text>
<line x1="1766.5" y1="756" x2="1766.5" y2="765" stroke="#000" stroke-width="2.1"/>
<text x="1766.5" y="790" text-anchor="middle" font-family="'DejaVu Sans', sans-serif" font-size="27.6">230</text>
<line x1="1845.2" y1="756" x2="1845.2" y2="765" stroke="#000" stroke-width="2.1"/>
<text x="1845.2" y="790" text-anchor="middle" font-family="'DejaVu Sans', sans-serif" font-size="27.6">240</text>
<line x1="1923.9" y1="756" x2="1923.9" y2="765" stroke="#000" stroke-width="2.1"/>
<text x="1923.9" y="790" text-anchor="middle" font-family="'DejaVu Sans', sans-serif" font-size="27.6">250</text>
<line x1="2002.6" y1="756" x2="2002.6" y2="765" stroke="#000" stroke-width="2.1"/>
<text x="2002.6" y="790" text-anchor="middle" font-family="'DejaVu Sans', sans-serif" font-size="27.6">260</text>
<line x1="1482" y1="120.7" x2="1491" y2="120.7" stroke="#000" stroke-width="2.1"/>
<text x="1478.2" y="131.2" text-anchor="end" font-family="'DejaVu Sans', sans-serif" font-size="27.6">35</text>
<line x1="1482" y1="218.4" x2="1491" y2="218.4" stroke="#000" stroke-width="2.1"/>
<text x="1478.2" y="228.9" text-anchor="end" font-family="'DejaVu Sans', sans-serif" font-size="27.6">25</text>
<line x1="1482" y1="316.2" x2="1491" y2="316.2" stroke="#000" stroke-width="2.1"/>
<text x="1478.2" y="326.7" text-anchor="end" font-family="'DejaVu Sans', sans-serif" font-size="27.6">15</text>
<line x1="1482" y1="413.9" x2="1491" y2="413.9" stroke="#000" stroke-width="2.1"/>
<text x="1478.2" y="424.4" text-anchor="end" font-family="'DejaVu Sans', sans-serif" font-size="27.6">5</text>
<line x1="1482" y1="511.7" x2="1491" y2="511.7" stroke="#000" stroke-width="2.1"/>
<text x="1478.2" y="522.2" text-anchor="end" font-family="'DejaVu Sans', sans-serif" font-size="27.6">−5</text>
<line x1="1482" y1="609.4" x2="1491" y2="609.4" stroke="#000" stroke-width="2.1"/>
<text x="1478.2" y="619.9" text-anchor="end" font-family="'DejaVu Sans', sans-serif" font-size="27.6">−15</text>
<line x1="1482" y1="707.1" x2="1491" y2="707.1" stroke="#000" stroke-width="2.1"/>
<text x="1478.2" y="717.6" text-anchor="end" font-family="'DejaVu Sans', sans-serif" font-size="27.6">−25</text>
<text x="1746.8" y="820.8" text-anchor="middle" font-family="'DejaVu Sans', sans-serif" font-size="27.6">Wavelength (nm)</text>
<text transform="translate(1409.6 438.4) rotate(-90)" text-anchor="middle" font-family="'DejaVu Sans', sans-serif" font-size="27.6">MRE (10<tspan font-size="19.3" dy="-11">3</tspan><tspan dy="11"> deg cm</tspan><tspan font-size="19.3" dy="-11">2</tspan><tspan dy="11"> dmol</tspan><tspan font-size="19.3" dy="-11">−1</tspan><tspan dy="11">)</tspan></text>
<line x1="1710.5" y1="156.7" x2="1769" y2="156.7" stroke="#5bbba6" stroke-width="3.2"/>
<circle cx="1739.8" cy="156.7" r="5" fill="#5bbba6"/>
<text x="1789.4" y="166.7" font-family="'DejaVu Sans', sans-serif" font-size="27.6">25 °C</text>
<line x1="1710.5" y1="197" x2="1769" y2="197" stroke="#e9708e" stroke-width="3.2"/>
<circle cx="1739.8" cy="197" r="5" fill="#e9708e"/>
<text x="1789.4" y="207" font-family="'DejaVu Sans', sans-serif" font-size="27.6">95 °C</text>
<line x1="1710.5" y1="237.3" x2="1769" y2="237.3" stroke="#000000" stroke-width="3.2"/>
<circle cx="1739.8" cy="237.3" r="5" fill="#000000"/>
<text x="1789.4" y="247.3" font-family="'DejaVu Sans', sans-serif" font-size="27.6">Back to 25 °C</text>
<polyline points="150.9,1128.8 158,1138.1 165.1,1137.5 172.2,1125.4 179.3,1124 186.4,1121.1 193.5,1121.9 200.6,1121.4 207.7,1131.7 214.8,1121.4 221.9,1122.2 229,1123.3 236.1,1109.2 243.2,1118.2 250.3,1120.3 257.4,1120.1 264.5,1120.1 271.6,1127.2 278.7,1108.7 285.8,1116.9 292.9,1113.2 300,1110.6 307.1,1109.2 314.2,1113.5 321.3,1114.5 328.4,1104.8 335.5,1107.7 342.6,1106.1 349.7,1104.2 356.8,1106.6 363.9,1116.4 371,1104.8 378.1,1093.4 385.2,1100.3 392.3,1097.3 399.4,1088.1 406.5,1087.8 413.6,1091.8 420.7,1101.3 427.8,1095.5 434.9,1096 442,1089.2 449.1,1083.9 456.2,1078.8 463.3,1086.5 470.4,1081.5 477.5,1086 484.6,1076.2 491.7,1086.5 498.8,1081.5 505.9,1078.8 512.9,1071.7 520,1070.4 527.1,1076.2 534.2,1074.6 541.3,1069.9 548.4,1066.2 555.5,1062.2 562.6,1069.9 569.7,1064.8 576.8,1053.2 583.9,1053.2 591,1054.5 598.1,1059.8 605.2,1054.5 612.3,1059.8 619.4,1054.5 626.5,1051.9 633.6,1053.2 640.7,1057.2 647.8,1048.7" fill="none" stroke="#5bbba6" stroke-width="4.8" stroke-linejoin="round"/>
<g fill="none" stroke="#5bbba6" stroke-width="2">
<circle cx="150.9" cy="1128.8" r="5.8"/>
<circle cx="158" cy="1138.1" r="5.8"/>
<circle cx="165.1" cy="1137.5" r="5.8"/>
<circle cx="172.2" cy="1125.4" r="5.8"/>
<circle cx="179.3" cy="1124" r="5.8"/>
<circle cx="186.4" cy="1121.1" r="5.8"/>
<circle cx="193.5" cy="1121.9" r="5.8"/>
<circle cx="200.6" cy="1121.4" r="5.8"/>
<circle cx="207.7" cy="1131.7" r="5.8"/>
<circle cx="214.8" cy="1121.4" r="5.8"/>
<circle cx="221.9" cy="1122.2" r="5.8"/>
<circle cx="229" cy="1123.3" r="5.8"/>
<circle cx="236.1" cy="1109.2" r="5.8"/>
<circle cx="243.2" cy="1118.2" r="5.8"/>
<circle cx="250.3" cy="1120.3" r="5.8"/>
<circle cx="257.4" cy="1120.1" r="5.8"/>
<circle cx="264.5" cy="1120.1" r="5.8"/>
<circle cx="271.6" cy="1127.2" r="5.8"/>
<circle cx="278.7" cy="1108.7" r="5.8"/>
<circle cx="285.8" cy="1116.9" r="5.8"/>
<circle cx="292.9" cy="1113.2" r="5.8"/>
<circle cx="300" cy="1110.6" r="5.8"/>
<circle cx="307.1" cy="1109.2" r="5.8"/>
<circle cx="314.2" cy="1113.5" r="5.8"/>
<circle cx="321.3" cy="1114.5" r="5.8"/>
<circle cx="328.4" cy="1104.8" r="5.8"/>
<circle cx="335.5" cy="1107.7" r="5.8"/>
<circle cx="342.6" cy="1106.1" r="5.8"/>
<circle cx="349.7" cy="1104.2" r="5.8"/>
<circle cx="356.8" cy="1106.6" r="5.8"/>
<circle cx="363.9" cy="1116.4" r="5.8"/>
<circle cx="371" cy="1104.8" r="5.8"/>
<circle cx="378.1" cy="1093.4" r="5.8"/>
<circle cx="385.2" cy="1100.3" r="5.8"/>
<circle cx="392.3" cy="1097.3" r="5.8"/>
<circle cx="399.4" cy="1088.1" r="5.8"/>
<circle cx="406.5" cy="1087.8" r="5.8"/>
<circle cx="413.6" cy="1091.8" r="5.8"/>
<circle cx="420.7" cy="1101.3" r="5.8"/>
<circle cx="427.8" cy="1095.5" r="5.8"/>
<circle cx="434.9" cy="1096" r="5.8"/>
<circle cx="442" cy="1089.2" r="5.8"/>
<circle cx="449.1" cy="1083.9" r="5.8"/>
<circle cx="456.2" cy="1078.8" r="5.8"/>
<circle cx="463.3" cy="1086.5" r="5.8"/>
<circle cx="470.4" cy="1081.5" r="5.8"/>
<circle cx="477.5" cy="1086" r="5.8"/>
<circle cx="484.6" cy="1076.2" r="5.8"/>
<circle cx="491.7" cy="1086.5" r="5.8"/>
<circle cx="498.8" cy="1081.5" r="5.8"/>
<circle cx="505.9" cy="1078.8" r="5.8"/>
<circle cx="512.9" cy="1071.7" r="5.8"/>
<circle cx="520" cy="1070.4" r="5.8"/>
<circle cx="527.1" cy="1076.2" r="5.8"/>
<circle cx="534.2" cy="1074.6" r="5.8"/>
<circle cx="541.3" cy="1069.9" r="5.8"/>
<circle cx="548.4" cy="1066.2" r="5.8"/>
<circle cx="555.5" cy="1062.2" r="5.8"/>
<circle cx="562.6" cy="1069.9" r="5.8"/>
<circle cx="569.7" cy="1064.8" r="5.8"/>
<circle cx="576.8" cy="1053.2" r="5.8"/>
<circle cx="583.9" cy="1053.2" r="5.8"/>
<circle cx="591" cy="1054.5" r="5.8"/>
<circle cx="598.1" cy="1059.8" r="5.8"/>
<circle cx="605.2" cy="1054.5" r="5.8"/>
<circle cx="612.3" cy="1059.8" r="5.8"/>
<circle cx="619.4" cy="1054.5" r="5.8"/>
<circle cx="626.5" cy="1051.9" r="5.8"/>
<circle cx="633.6" cy="1053.2" r="5.8"/>
<circle cx="640.7" cy="1057.2" r="5.8"/>
<circle cx="647.8" cy="1048.7" r="5.8"/>
</g>
<rect x="133.2" y="915.2" width="532.2" height="396.5" fill="none" stroke="#000" stroke-width="2.1"/>
<line x1="150.9" y1="1311.8" x2="150.9" y2="1320.8" stroke="#000" stroke-width="2.1"/>
<text x="150.9" y="1347.7" text-anchor="middle" font-family="'DejaVu Sans', sans-serif" font-size="28.7">25</text>
<line x1="221.9" y1="1311.8" x2="221.9" y2="1320.8" stroke="#000" stroke-width="2.1"/>
<text x="221.9" y="1347.7" text-anchor="middle" font-family="'DejaVu Sans', sans-serif" font-size="28.7">35</text>
<line x1="292.9" y1="1311.8" x2="292.9" y2="1320.8" stroke="#000" stroke-width="2.1"/>
<text x="292.9" y="1347.7" text-anchor="middle" font-family="'DejaVu Sans', sans-serif" font-size="28.7">45</text>
<line x1="363.9" y1="1311.8" x2="363.9" y2="1320.8" stroke="#000" stroke-width="2.1"/>
<text x="363.9" y="1347.7" text-anchor="middle" font-family="'DejaVu Sans', sans-serif" font-size="28.7">55</text>
<line x1="434.9" y1="1311.8" x2="434.9" y2="1320.8" stroke="#000" stroke-width="2.1"/>
<text x="434.9" y="1347.7" text-anchor="middle" font-family="'DejaVu Sans', sans-serif" font-size="28.7">65</text>
<line x1="505.9" y1="1311.8" x2="505.9" y2="1320.8" stroke="#000" stroke-width="2.1"/>
<text x="505.9" y="1347.7" text-anchor="middle" font-family="'DejaVu Sans', sans-serif" font-size="28.7">75</text>
<line x1="576.8" y1="1311.8" x2="576.8" y2="1320.8" stroke="#000" stroke-width="2.1"/>
<text x="576.8" y="1347.7" text-anchor="middle" font-family="'DejaVu Sans', sans-serif" font-size="28.7">85</text>
<line x1="647.8" y1="1311.8" x2="647.8" y2="1320.8" stroke="#000" stroke-width="2.1"/>
<text x="647.8" y="1347.7" text-anchor="middle" font-family="'DejaVu Sans', sans-serif" font-size="28.7">95</text>
<line x1="124.2" y1="915.2" x2="133.2" y2="915.2" stroke="#000" stroke-width="2.1"/>
<text x="119.2" y="926.8" text-anchor="end" font-family="'DejaVu Sans', sans-serif" font-size="28.7">−5</text>
<line x1="124.2" y1="1047.4" x2="133.2" y2="1047.4" stroke="#000" stroke-width="2.1"/>
<text x="119.2" y="1059" text-anchor="end" font-family="'DejaVu Sans', sans-serif" font-size="28.7">−10</text>
<line x1="124.2" y1="1179.6" x2="133.2" y2="1179.6" stroke="#000" stroke-width="2.1"/>
<text x="119.2" y="1191.2" text-anchor="end" font-family="'DejaVu Sans', sans-serif" font-size="28.7">−15</text>
<line x1="124.2" y1="1311.8" x2="133.2" y2="1311.8" stroke="#000" stroke-width="2.1"/>
<text x="119.2" y="1323.3" text-anchor="end" font-family="'DejaVu Sans', sans-serif" font-size="28.7">−20</text>
<text x="399.3" y="1379.9" text-anchor="middle" font-family="'DejaVu Sans', sans-serif" font-size="28.7">Temperature (°C)</text>
<text transform="translate(48 1111.5) rotate(-90)" text-anchor="middle" font-family="'DejaVu Sans', sans-serif" font-size="28.7">MRE<tspan font-size="20.1" dy="4.9">222</tspan><tspan dy="-4.9"> (10</tspan><tspan font-size="20.1" dy="-11.5">3</tspan><tspan dy="11.5"> deg cm</tspan><tspan font-size="20.1" dy="-11.5">2</tspan><tspan dy="11.5"> dmol</tspan><tspan font-size="20.1" dy="-11.5">−1</tspan><tspan dy="11.5">)</tspan></text>
<polyline points="832,1152.3 839.1,1149.7 846.2,1145.2 853.3,1146.5 860.4,1140.7 867.5,1156 874.6,1140.7 881.7,1151.8 888.8,1146.5 895.9,1142.6 903,1141.2 910.1,1138.1 917.2,1142.6 924.3,1137.3 931.4,1143.3 938.5,1136.2 945.6,1145.2 952.7,1134.9 959.8,1131.7 966.9,1132.2 974,1129.3 981.1,1132.8 988.2,1123 995.3,1132.8 1002.4,1126.2 1009.5,1123 1016.6,1120.3 1023.7,1117.7 1030.8,1119.6 1037.9,1135.7 1045,1117.2 1052.1,1114.5 1059.2,1112.7 1066.3,1116.1 1073.4,1113.5 1080.5,1118.8 1087.6,1112.4 1094.7,1118.8 1101.8,1112.4 1108.9,1107.9 1116,1116.9 1123.1,1112.9 1130.2,1114 1137.3,1122.7 1144.4,1116.4 1151.5,1112.4 1158.6,1120.1 1165.7,1113.5 1172.8,1105.3 1179.9,1111.4 1187,1110.8 1194,1116.4 1201.1,1110.6 1208.2,1108.5 1215.3,1110.8 1222.4,1104 1229.5,1113.5 1236.6,1104 1243.7,1101 1250.8,1093.4 1257.9,1101 1265,1093.4 1272.1,1104 1279.2,1096.6 1286.3,1094.2 1293.4,1090.7 1300.5,1082.3 1307.6,1091.3 1314.7,1086.8 1321.8,1084.9 1328.9,1092.6" fill="none" stroke="#5bbba6" stroke-width="4.8" stroke-linejoin="round"/>
<g fill="none" stroke="#5bbba6" stroke-width="2">
<circle cx="832" cy="1152.3" r="5.8"/>
<circle cx="839.1" cy="1149.7" r="5.8"/>
<circle cx="846.2" cy="1145.2" r="5.8"/>
<circle cx="853.3" cy="1146.5" r="5.8"/>
<circle cx="860.4" cy="1140.7" r="5.8"/>
<circle cx="867.5" cy="1156" r="5.8"/>
<circle cx="874.6" cy="1140.7" r="5.8"/>
<circle cx="881.7" cy="1151.8" r="5.8"/>
<circle cx="888.8" cy="1146.5" r="5.8"/>
<circle cx="895.9" cy="1142.6" r="5.8"/>
<circle cx="903" cy="1141.2" r="5.8"/>
<circle cx="910.1" cy="1138.1" r="5.8"/>
<circle cx="917.2" cy="1142.6" r="5.8"/>
<circle cx="924.3" cy="1137.3" r="5.8"/>
<circle cx="931.4" cy="1143.3" r="5.8"/>
<circle cx="938.5" cy="1136.2" r="5.8"/>
<circle cx="945.6" cy="1145.2" r="5.8"/>
<circle cx="952.7" cy="1134.9" r="5.8"/>
<circle cx="959.8" cy="1131.7" r="5.8"/>
<circle cx="966.9" cy="1132.2" r="5.8"/>
<circle cx="974" cy="1129.3" r="5.8"/>
<circle cx="981.1" cy="1132.8" r="5.8"/>
<circle cx="988.2" cy="1123" r="5.8"/>
<circle cx="995.3" cy="1132.8" r="5.8"/>
<circle cx="1002.4" cy="1126.2" r="5.8"/>
<circle cx="1009.5" cy="1123" r="5.8"/>
<circle cx="1016.6" cy="1120.3" r="5.8"/>
<circle cx="1023.7" cy="1117.7" r="5.8"/>
<circle cx="1030.8" cy="1119.6" r="5.8"/>
<circle cx="1037.9" cy="1135.7" r="5.8"/>
<circle cx="1045" cy="1117.2" r="5.8"/>
<circle cx="1052.1" cy="1114.5" r="5.8"/>
<circle cx="1059.2" cy="1112.7" r="5.8"/>
<circle cx="1066.3" cy="1116.1" r="5.8"/>
<circle cx="1073.4" cy="1113.5" r="5.8"/>
<circle cx="1080.5" cy="1118.8" r="5.8"/>
<circle cx="1087.6" cy="1112.4" r="5.8"/>
<circle cx="1094.7" cy="1118.8" r="5.8"/>
<circle cx="1101.8" cy="1112.4" r="5.8"/>
<circle cx="1108.9" cy="1107.9" r="5.8"/>
<circle cx="1116" cy="1116.9" r="5.8"/>
<circle cx="1123.1" cy="1112.9" r="5.8"/>
<circle cx="1130.2" cy="1114" r="5.8"/>
<circle cx="1137.3" cy="1122.7" r="5.8"/>
<circle cx="1144.4" cy="1116.4" r="5.8"/>
<circle cx="1151.5" cy="1112.4" r="5.8"/>
<circle cx="1158.6" cy="1120.1" r="5.8"/>
<circle cx="1165.7" cy="1113.5" r="5.8"/>
<circle cx="1172.8" cy="1105.3" r="5.8"/>
<circle cx="1179.9" cy="1111.4" r="5.8"/>
<circle cx="1187" cy="1110.8" r="5.8"/>
<circle cx="1194" cy="1116.4" r="5.8"/>
<circle cx="1201.1" cy="1110.6" r="5.8"/>
<circle cx="1208.2" cy="1108.5" r="5.8"/>
<circle cx="1215.3" cy="1110.8" r="5.8"/>
<circle cx="1222.4" cy="1104" r="5.8"/>
<circle cx="1229.5" cy="1113.5" r="5.8"/>
<circle cx="1236.6" cy="1104" r="5.8"/>
<circle cx="1243.7" cy="1101" r="5.8"/>
<circle cx="1250.8" cy="1093.4" r="5.8"/>
<circle cx="1257.9" cy="1101" r="5.8"/>
<circle cx="1265" cy="1093.4" r="5.8"/>
<circle cx="1272.1" cy="1104" r="5.8"/>
<circle cx="1279.2" cy="1096.6" r="5.8"/>
<circle cx="1286.3" cy="1094.2" r="5.8"/>
<circle cx="1293.4" cy="1090.7" r="5.8"/>
<circle cx="1300.5" cy="1082.3" r="5.8"/>
<circle cx="1307.6" cy="1091.3" r="5.8"/>
<circle cx="1314.7" cy="1086.8" r="5.8"/>
<circle cx="1321.8" cy="1084.9" r="5.8"/>
<circle cx="1328.9" cy="1092.6" r="5.8"/>
</g>
<rect x="814.6" y="915.2" width="532.2" height="396.5" fill="none" stroke="#000" stroke-width="2.1"/>
<line x1="832" y1="1311.8" x2="832" y2="1320.8" stroke="#000" stroke-width="2.1"/>
<text x="832" y="1347.7" text-anchor="middle" font-family="'DejaVu Sans', sans-serif" font-size="28.7">25</text>
<line x1="903" y1="1311.8" x2="903" y2="1320.8" stroke="#000" stroke-width="2.1"/>
<text x="903" y="1347.7" text-anchor="middle" font-family="'DejaVu Sans', sans-serif" font-size="28.7">35</text>
<line x1="974" y1="1311.8" x2="974" y2="1320.8" stroke="#000" stroke-width="2.1"/>
<text x="974" y="1347.7" text-anchor="middle" font-family="'DejaVu Sans', sans-serif" font-size="28.7">45</text>
<line x1="1045" y1="1311.8" x2="1045" y2="1320.8" stroke="#000" stroke-width="2.1"/>
<text x="1045" y="1347.7" text-anchor="middle" font-family="'DejaVu Sans', sans-serif" font-size="28.7">55</text>
<line x1="1116" y1="1311.8" x2="1116" y2="1320.8" stroke="#000" stroke-width="2.1"/>
<text x="1116" y="1347.7" text-anchor="middle" font-family="'DejaVu Sans', sans-serif" font-size="28.7">65</text>
<line x1="1187" y1="1311.8" x2="1187" y2="1320.8" stroke="#000" stroke-width="2.1"/>
<text x="1187" y="1347.7" text-anchor="middle" font-family="'DejaVu Sans', sans-serif" font-size="28.7">75</text>
<line x1="1257.9" y1="1311.8" x2="1257.9" y2="1320.8" stroke="#000" stroke-width="2.1"/>
<text x="1257.9" y="1347.7" text-anchor="middle" font-family="'DejaVu Sans', sans-serif" font-size="28.7">85</text>
<line x1="1328.9" y1="1311.8" x2="1328.9" y2="1320.8" stroke="#000" stroke-width="2.1"/>
<text x="1328.9" y="1347.7" text-anchor="middle" font-family="'DejaVu Sans', sans-serif" font-size="28.7">95</text>
<line x1="805.6" y1="915.2" x2="814.6" y2="915.2" stroke="#000" stroke-width="2.1"/>
<text x="800.6" y="926.8" text-anchor="end" font-family="'DejaVu Sans', sans-serif" font-size="28.7">−10</text>
<line x1="805.6" y1="1047.4" x2="814.6" y2="1047.4" stroke="#000" stroke-width="2.1"/>
<text x="800.6" y="1059" text-anchor="end" font-family="'DejaVu Sans', sans-serif" font-size="28.7">−15</text>
<line x1="805.6" y1="1179.6" x2="814.6" y2="1179.6" stroke="#000" stroke-width="2.1"/>
<text x="800.6" y="1191.2" text-anchor="end" font-family="'DejaVu Sans', sans-serif" font-size="28.7">−20</text>
<line x1="805.6" y1="1311.8" x2="814.6" y2="1311.8" stroke="#000" stroke-width="2.1"/>
<text x="800.6" y="1323.3" text-anchor="end" font-family="'DejaVu Sans', sans-serif" font-size="28.7">−25</text>
<text x="1080.7" y="1379.9" text-anchor="middle" font-family="'DejaVu Sans', sans-serif" font-size="28.7">Temperature (°C)</text>
<text transform="translate(729.4 1111.5) rotate(-90)" text-anchor="middle" font-family="'DejaVu Sans', sans-serif" font-size="28.7">MRE<tspan font-size="20.1" dy="4.9">222</tspan><tspan dy="-4.9"> (10</tspan><tspan font-size="20.1" dy="-11.5">3</tspan><tspan dy="11.5"> deg cm</tspan><tspan font-size="20.1" dy="-11.5">2</tspan><tspan dy="11.5"> dmol</tspan><tspan font-size="20.1" dy="-11.5">−1</tspan><tspan dy="11.5">)</tspan></text>
<polyline points="1513.4,1234.6 1520.5,1258.3 1527.6,1275.5 1534.7,1252.5 1541.8,1248.8 1548.9,1244.9 1556,1244.9 1563.1,1234.6 1570.2,1252.5 1577.3,1234 1584.4,1235.1 1591.5,1226.9 1598.6,1225.6 1605.7,1239 1612.8,1228.5 1619.9,1247.5 1627,1220.5 1634.1,1237.2 1641.2,1212.3 1648.3,1226.1 1655.4,1217.4 1662.5,1220.8 1669.6,1217.4 1676.7,1215.8 1683.8,1220.8 1690.9,1207.9 1698,1204.7 1705.1,1207.9 1712.2,1202.6 1719.3,1215.8 1726.4,1223.7 1733.5,1209.2 1740.6,1193.6 1747.7,1171.9 1754.8,1198.9 1761.9,1177.7 1769,1168.2 1776.1,1173.8 1783.2,1172.2 1790.3,1184.1 1797.4,1167.4 1804.5,1164.8 1811.6,1157.1 1818.7,1144.7 1825.8,1145.2 1832.9,1131.5 1840,1143.3 1847.1,1134.4 1854.2,1131.5 1861.3,1133.6 1868.4,1123.3 1875.4,1118.5 1882.5,1122.5 1889.6,1108.2 1896.7,1117.2 1903.8,1116.6 1910.9,1102.1 1918,1095.8 1925.1,1091 1932.2,1107.4 1939.3,1090.5 1946.4,1082.8 1953.5,1074.3 1960.6,1086.8 1967.7,1077 1974.8,1078.3 1981.9,1068.3 1989,1085.5 1996.1,1065.4 2003.2,1062.7 2010.3,1058" fill="none" stroke="#5bbba6" stroke-width="4.8" stroke-linejoin="round"/>
<g fill="none" stroke="#5bbba6" stroke-width="2">
<circle cx="1513.4" cy="1234.6" r="5.8"/>
<circle cx="1520.5" cy="1258.3" r="5.8"/>
<circle cx="1527.6" cy="1275.5" r="5.8"/>
<circle cx="1534.7" cy="1252.5" r="5.8"/>
<circle cx="1541.8" cy="1248.8" r="5.8"/>
<circle cx="1548.9" cy="1244.9" r="5.8"/>
<circle cx="1556" cy="1244.9" r="5.8"/>
<circle cx="1563.1" cy="1234.6" r="5.8"/>
<circle cx="1570.2" cy="1252.5" r="5.8"/>
<circle cx="1577.3" cy="1234" r="5.8"/>
<circle cx="1584.4" cy="1235.1" r="5.8"/>
<circle cx="1591.5" cy="1226.9" r="5.8"/>
<circle cx="1598.6" cy="1225.6" r="5.8"/>
<circle cx="1605.7" cy="1239" r="5.8"/>
<circle cx="1612.8" cy="1228.5" r="5.8"/>
<circle cx="1619.9" cy="1247.5" r="5.8"/>
<circle cx="1627" cy="1220.5" r="5.8"/>
<circle cx="1634.1" cy="1237.2" r="5.8"/>
<circle cx="1641.2" cy="1212.3" r="5.8"/>
<circle cx="1648.3" cy="1226.1" r="5.8"/>
<circle cx="1655.4" cy="1217.4" r="5.8"/>
<circle cx="1662.5" cy="1220.8" r="5.8"/>
<circle cx="1669.6" cy="1217.4" r="5.8"/>
<circle cx="1676.7" cy="1215.8" r="5.8"/>
<circle cx="1683.8" cy="1220.8" r="5.8"/>
<circle cx="1690.9" cy="1207.9" r="5.8"/>
<circle cx="1698" cy="1204.7" r="5.8"/>
<circle cx="1705.1" cy="1207.9" r="5.8"/>
<circle cx="1712.2" cy="1202.6" r="5.8"/>
<circle cx="1719.3" cy="1215.8" r="5.8"/>
<circle cx="1726.4" cy="1223.7" r="5.8"/>
<circle cx="1733.5" cy="1209.2" r="5.8"/>
<circle cx="1740.6" cy="1193.6" r="5.8"/>
<circle cx="1747.7" cy="1171.9" r="5.8"/>
<circle cx="1754.8" cy="1198.9" r="5.8"/>
<circle cx="1761.9" cy="1177.7" r="5.8"/>
<circle cx="1769" cy="1168.2" r="5.8"/>
<circle cx="1776.1" cy="1173.8" r="5.8"/>
<circle cx="1783.2" cy="1172.2" r="5.8"/>
<circle cx="1790.3" cy="1184.1" r="5.8"/>
<circle cx="1797.4" cy="1167.4" r="5.8"/>
<circle cx="1804.5" cy="1164.8" r="5.8"/>
<circle cx="1811.6" cy="1157.1" r="5.8"/>
<circle cx="1818.7" cy="1144.7" r="5.8"/>
<circle cx="1825.8" cy="1145.2" r="5.8"/>
<circle cx="1832.9" cy="1131.5" r="5.8"/>
<circle cx="1840" cy="1143.3" r="5.8"/>
<circle cx="1847.1" cy="1134.4" r="5.8"/>
<circle cx="1854.2" cy="1131.5" r="5.8"/>
<circle cx="1861.3" cy="1133.6" r="5.8"/>
<circle cx="1868.4" cy="1123.3" r="5.8"/>
<circle cx="1875.4" cy="1118.5" r="5.8"/>
<circle cx="1882.5" cy="1122.5" r="5.8"/>
<circle cx="1889.6" cy="1108.2" r="5.8"/>
<circle cx="1896.7" cy="1117.2" r="5.8"/>
<circle cx="1903.8" cy="1116.6" r="5.8"/>
<circle cx="1910.9" cy="1102.1" r="5.8"/>
<circle cx="1918" cy="1095.8" r="5.8"/>
<circle cx="1925.1" cy="1091" r="5.8"/>
<circle cx="1932.2" cy="1107.4" r="5.8"/>
<circle cx="1939.3" cy="1090.5" r="5.8"/>
<circle cx="1946.4" cy="1082.8" r="5.8"/>
<circle cx="1953.5" cy="1074.3" r="5.8"/>
<circle cx="1960.6" cy="1086.8" r="5.8"/>
<circle cx="1967.7" cy="1077" r="5.8"/>
<circle cx="1974.8" cy="1078.3" r="5.8"/>
<circle cx="1981.9" cy="1068.3" r="5.8"/>
<circle cx="1989" cy="1085.5" r="5.8"/>
<circle cx="1996.1" cy="1065.4" r="5.8"/>
<circle cx="2003.2" cy="1062.7" r="5.8"/>
<circle cx="2010.3" cy="1058" r="5.8"/>
</g>
<rect x="1495.5" y="915.2" width="532.2" height="396.5" fill="none" stroke="#000" stroke-width="2.1"/>
<line x1="1513.4" y1="1311.8" x2="1513.4" y2="1320.8" stroke="#000" stroke-width="2.1"/>
<text x="1513.4" y="1347.7" text-anchor="middle" font-family="'DejaVu Sans', sans-serif" font-size="28.7">25</text>
<line x1="1584.4" y1="1311.8" x2="1584.4" y2="1320.8" stroke="#000" stroke-width="2.1"/>
<text x="1584.4" y="1347.7" text-anchor="middle" font-family="'DejaVu Sans', sans-serif" font-size="28.7">35</text>
<line x1="1655.4" y1="1311.8" x2="1655.4" y2="1320.8" stroke="#000" stroke-width="2.1"/>
<text x="1655.4" y="1347.7" text-anchor="middle" font-family="'DejaVu Sans', sans-serif" font-size="28.7">45</text>
<line x1="1726.4" y1="1311.8" x2="1726.4" y2="1320.8" stroke="#000" stroke-width="2.1"/>
<text x="1726.4" y="1347.7" text-anchor="middle" font-family="'DejaVu Sans', sans-serif" font-size="28.7">55</text>
<line x1="1797.4" y1="1311.8" x2="1797.4" y2="1320.8" stroke="#000" stroke-width="2.1"/>
<text x="1797.4" y="1347.7" text-anchor="middle" font-family="'DejaVu Sans', sans-serif" font-size="28.7">65</text>
<line x1="1868.4" y1="1311.8" x2="1868.4" y2="1320.8" stroke="#000" stroke-width="2.1"/>
<text x="1868.4" y="1347.7" text-anchor="middle" font-family="'DejaVu Sans', sans-serif" font-size="28.7">75</text>
<line x1="1939.3" y1="1311.8" x2="1939.3" y2="1320.8" stroke="#000" stroke-width="2.1"/>
<text x="1939.3" y="1347.7" text-anchor="middle" font-family="'DejaVu Sans', sans-serif" font-size="28.7">85</text>
<line x1="2010.3" y1="1311.8" x2="2010.3" y2="1320.8" stroke="#000" stroke-width="2.1"/>
<text x="2010.3" y="1347.7" text-anchor="middle" font-family="'DejaVu Sans', sans-serif" font-size="28.7">95</text>
<line x1="1486.5" y1="915.2" x2="1495.5" y2="915.2" stroke="#000" stroke-width="2.1"/>
<text x="1481.5" y="926.8" text-anchor="end" font-family="'DejaVu Sans', sans-serif" font-size="28.7">−10</text>
<line x1="1486.5" y1="1047.4" x2="1495.5" y2="1047.4" stroke="#000" stroke-width="2.1"/>
<text x="1481.5" y="1059" text-anchor="end" font-family="'DejaVu Sans', sans-serif" font-size="28.7">−15</text>
<line x1="1486.5" y1="1179.6" x2="1495.5" y2="1179.6" stroke="#000" stroke-width="2.1"/>
<text x="1481.5" y="1191.2" text-anchor="end" font-family="'DejaVu Sans', sans-serif" font-size="28.7">−20</text>
<line x1="1486.5" y1="1311.8" x2="1495.5" y2="1311.8" stroke="#000" stroke-width="2.1"/>
<text x="1481.5" y="1323.3" text-anchor="end" font-family="'DejaVu Sans', sans-serif" font-size="28.7">−25</text>
<text x="1761.6" y="1379.9" text-anchor="middle" font-family="'DejaVu Sans', sans-serif" font-size="28.7">Temperature (°C)</text>
<text transform="translate(1410.3 1111.5) rotate(-90)" text-anchor="middle" font-family="'DejaVu Sans', sans-serif" font-size="28.7">MRE<tspan font-size="20.1" dy="4.9">222</tspan><tspan dy="-4.9"> (10</tspan><tspan font-size="20.1" dy="-11.5">3</tspan><tspan dy="11.5"> deg cm</tspan><tspan font-size="20.1" dy="-11.5">2</tspan><tspan dy="11.5"> dmol</tspan><tspan font-size="20.1" dy="-11.5">−1</tspan><tspan dy="11.5">)</tspan></text>
</svg>
</body></html>
